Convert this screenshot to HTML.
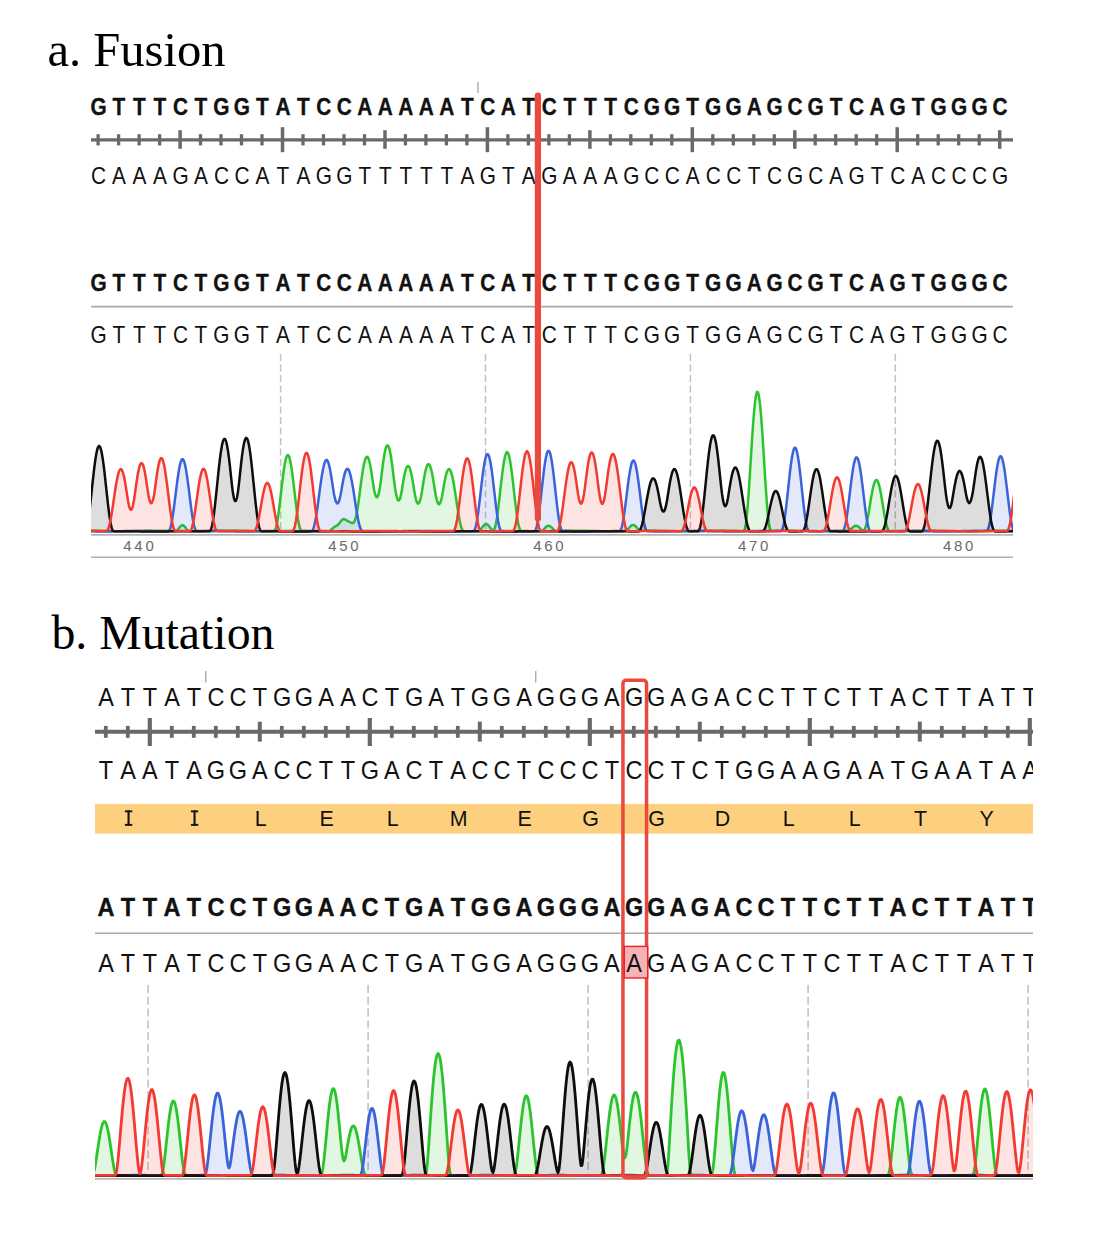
<!DOCTYPE html>
<html><head><meta charset="utf-8"><title>Figure</title>
<style>
html,body{margin:0;padding:0;background:#fff}
svg{display:block}
text{font-family:"Liberation Sans",sans-serif;fill:#111}
.t{font-family:"Liberation Serif",serif;fill:#000}
</style></head><body>
<svg width="1097" height="1245" viewBox="0 0 1097 1245">
<rect width="1097" height="1245" fill="#fff"/>
<defs>
<clipPath id="ca"><rect x="91" y="360" width="922" height="173.5"/></clipPath>
<clipPath id="cb"><rect x="95" y="980" width="938" height="198"/></clipPath>
<clipPath id="cr"><rect x="90" y="660" width="943" height="330"/></clipPath>
</defs>
<text class="t" x="47.4" y="65.5" font-size="48.6">a. Fusion</text>
<line x1="478" y1="82" x2="478" y2="93" stroke="#8a8a8a" stroke-width="1"/>
<text transform="scale(0.89,1)" x="110.7 133.7 156.7 179.7 202.8 225.8 248.8 271.8 294.9 317.9 340.9 363.9 386.9 410 433 456 479 502.1 525.1 548.1 571.1 594.1 617.2 640.2 663.2 686.2 709.3 732.3 755.3 778.3 801.3 824.4 847.4 870.4 893.4 916.5 939.5 962.5 985.5 1008.6 1031.6 1054.6 1077.6 1100.6 1123.7" y="115.5" font-size="23.4" font-weight="bold" text-anchor="middle" stroke="#111" stroke-width="0.35">GTTTCTGGTATCCAAAAATCATCTTTCGGTGGAGCGTCAGTGGGC</text>
<g stroke="#696969">
<line x1="91" y1="139.8" x2="1013" y2="139.8" stroke-width="3.2"/>
<line x1="98.1" y1="134.2" x2="98.1" y2="145.4" stroke-width="3.3"/>
<line x1="118.6" y1="134.2" x2="118.6" y2="145.4" stroke-width="3.3"/>
<line x1="139.1" y1="134.2" x2="139.1" y2="145.4" stroke-width="3.3"/>
<line x1="159.6" y1="134.2" x2="159.6" y2="145.4" stroke-width="3.3"/>
<line x1="180.1" y1="130.2" x2="180.1" y2="148.8" stroke-width="3.5"/>
<line x1="200.5" y1="134.2" x2="200.5" y2="145.4" stroke-width="3.3"/>
<line x1="221" y1="134.2" x2="221" y2="145.4" stroke-width="3.3"/>
<line x1="241.5" y1="134.2" x2="241.5" y2="145.4" stroke-width="3.3"/>
<line x1="262" y1="134.2" x2="262" y2="145.4" stroke-width="3.3"/>
<line x1="282.5" y1="127.2" x2="282.5" y2="152.2" stroke-width="3.5"/>
<line x1="303" y1="134.2" x2="303" y2="145.4" stroke-width="3.3"/>
<line x1="323.5" y1="134.2" x2="323.5" y2="145.4" stroke-width="3.3"/>
<line x1="344" y1="134.2" x2="344" y2="145.4" stroke-width="3.3"/>
<line x1="364.5" y1="134.2" x2="364.5" y2="145.4" stroke-width="3.3"/>
<line x1="385" y1="130.2" x2="385" y2="148.8" stroke-width="3.5"/>
<line x1="405.4" y1="134.2" x2="405.4" y2="145.4" stroke-width="3.3"/>
<line x1="425.9" y1="134.2" x2="425.9" y2="145.4" stroke-width="3.3"/>
<line x1="446.4" y1="134.2" x2="446.4" y2="145.4" stroke-width="3.3"/>
<line x1="466.9" y1="134.2" x2="466.9" y2="145.4" stroke-width="3.3"/>
<line x1="487.4" y1="127.2" x2="487.4" y2="152.2" stroke-width="3.5"/>
<line x1="507.9" y1="134.2" x2="507.9" y2="145.4" stroke-width="3.3"/>
<line x1="528.4" y1="134.2" x2="528.4" y2="145.4" stroke-width="3.3"/>
<line x1="548.9" y1="134.2" x2="548.9" y2="145.4" stroke-width="3.3"/>
<line x1="569.4" y1="134.2" x2="569.4" y2="145.4" stroke-width="3.3"/>
<line x1="589.9" y1="130.2" x2="589.9" y2="148.8" stroke-width="3.5"/>
<line x1="610.4" y1="134.2" x2="610.4" y2="145.4" stroke-width="3.3"/>
<line x1="630.8" y1="134.2" x2="630.8" y2="145.4" stroke-width="3.3"/>
<line x1="651.3" y1="134.2" x2="651.3" y2="145.4" stroke-width="3.3"/>
<line x1="671.8" y1="134.2" x2="671.8" y2="145.4" stroke-width="3.3"/>
<line x1="692.3" y1="127.2" x2="692.3" y2="152.2" stroke-width="3.5"/>
<line x1="712.8" y1="134.2" x2="712.8" y2="145.4" stroke-width="3.3"/>
<line x1="733.3" y1="134.2" x2="733.3" y2="145.4" stroke-width="3.3"/>
<line x1="753.8" y1="134.2" x2="753.8" y2="145.4" stroke-width="3.3"/>
<line x1="774.3" y1="134.2" x2="774.3" y2="145.4" stroke-width="3.3"/>
<line x1="794.8" y1="130.2" x2="794.8" y2="148.8" stroke-width="3.5"/>
<line x1="815.2" y1="134.2" x2="815.2" y2="145.4" stroke-width="3.3"/>
<line x1="835.7" y1="134.2" x2="835.7" y2="145.4" stroke-width="3.3"/>
<line x1="856.2" y1="134.2" x2="856.2" y2="145.4" stroke-width="3.3"/>
<line x1="876.7" y1="134.2" x2="876.7" y2="145.4" stroke-width="3.3"/>
<line x1="897.2" y1="127.2" x2="897.2" y2="152.2" stroke-width="3.5"/>
<line x1="917.7" y1="134.2" x2="917.7" y2="145.4" stroke-width="3.3"/>
<line x1="938.2" y1="134.2" x2="938.2" y2="145.4" stroke-width="3.3"/>
<line x1="958.7" y1="134.2" x2="958.7" y2="145.4" stroke-width="3.3"/>
<line x1="979.2" y1="134.2" x2="979.2" y2="145.4" stroke-width="3.3"/>
<line x1="999.7" y1="130.2" x2="999.7" y2="148.8" stroke-width="3.5"/>
</g>
<text transform="scale(0.89,1)" x="110.7 133.7 156.7 179.7 202.8 225.8 248.8 271.8 294.9 317.9 340.9 363.9 386.9 410 433 456 479 502.1 525.1 548.1 571.1 594.1 617.2 640.2 663.2 686.2 709.3 732.3 755.3 778.3 801.3 824.4 847.4 870.4 893.4 916.5 939.5 962.5 985.5 1008.6 1031.6 1054.6 1077.6 1100.6 1123.7" y="184.1" font-size="23.4" font-weight="normal" text-anchor="middle">CAAAGACCATAGGTTTTTAGTAGAAAGCCACCTCGCAGTCACCCG</text>
<text transform="scale(0.89,1)" x="110.7 133.7 156.7 179.7 202.8 225.8 248.8 271.8 294.9 317.9 340.9 363.9 386.9 410 433 456 479 502.1 525.1 548.1 571.1 594.1 617.2 640.2 663.2 686.2 709.3 732.3 755.3 778.3 801.3 824.4 847.4 870.4 893.4 916.5 939.5 962.5 985.5 1008.6 1031.6 1054.6 1077.6 1100.6 1123.7" y="290.8" font-size="23.4" font-weight="bold" text-anchor="middle" stroke="#111" stroke-width="0.35">GTTTCTGGTATCCAAAAATCATCTTTCGGTGGAGCGTCAGTGGGC</text>
<line x1="91" y1="306.6" x2="1013" y2="306.6" stroke="#a9a9a9" stroke-width="1.6"/>
<text transform="scale(0.89,1)" x="110.7 133.7 156.7 179.7 202.8 225.8 248.8 271.8 294.9 317.9 340.9 363.9 386.9 410 433 456 479 502.1 525.1 548.1 571.1 594.1 617.2 640.2 663.2 686.2 709.3 732.3 755.3 778.3 801.3 824.4 847.4 870.4 893.4 916.5 939.5 962.5 985.5 1008.6 1031.6 1054.6 1077.6 1100.6 1123.7" y="342.7" font-size="23.4" font-weight="normal" text-anchor="middle">GTTTCTGGTATCCAAAAATCATCTTTCGGTGGAGCGTCAGTGGGC</text>
<line x1="280.6" y1="354" x2="280.6" y2="531" stroke="#c2c2c2" stroke-width="1.5" stroke-dasharray="7 3.5"/>
<line x1="485.5" y1="354" x2="485.5" y2="531" stroke="#c2c2c2" stroke-width="1.5" stroke-dasharray="7 3.5"/>
<line x1="690.4" y1="354" x2="690.4" y2="531" stroke="#c2c2c2" stroke-width="1.5" stroke-dasharray="7 3.5"/>
<line x1="895.3" y1="354" x2="895.3" y2="531" stroke="#c2c2c2" stroke-width="1.5" stroke-dasharray="7 3.5"/>
<g clip-path="url(#ca)">
<path d="M61,531.2 62,531.2 63,531.2 64,531.2 65,531.2 66,531.1 67,531.1 68,531.1 69,531 70,531 71,531 72,531 73,530.9 74,530.9 75,530.9 76,530.9 77,530.8 78,530.8 79,530.8 80,530.8 81,530.7 82,530.7 83,530.7 84,530.7 85,530.7 86,530.7 87,530.7 88,530.7 89,530.7 90,530.7 91,530.7 92,530.7 93,530.7 94,530.8 95,530.8 96,530.8 97,530.8 98,530.8 99,530.9 100,530.9 101,530.9 102,530.9 103,531 104,531 105,531 106,531.1 107,531.1 108,531.1 109,531.1 110,531.2 111,531.2 112,531.2 113,531.2 114,531.3 115,531.3 116,531.3 117,531.3 118,531.3 119,531.3 120,531.3 121,531.3 122,531.3 123,531.3 124,531.3 125,531.3 126,531.3 127,531.3 128,531.3 129,531.3 130,531.3 131,531.2 132,531.2 133,531.2 134,531.2 135,531.1 136,531.1 137,531.1 138,531.1 139,531 140,531 141,531 142,531 143,530.9 144,530.9 145,530.9 146,530.8 147,530.8 148,530.8 149,530.8 150,530.8 151,530.7 152,530.7 153,530.7 154,530.7 155,530.7 156,530.7 157,530.7 158,530.7 159,530.7 160,530.7 161,530.7 162,530.7 163,530.7 164,530.8 165,530.8 166,530.8 167,530.8 168,530.8 169,530.9 170,530.9 171,530.9 172,530.9 173,531 174,531 175,531 176,530.9 177,530.3 178,529.3 179,528.1 180,526.8 181,525.8 182,525.3 183,525.3 184,525.9 185,526.9 186,528.2 187,529.5 188,530.6 189,531.2 190,531.3 191,531.3 192,531.3 193,531.3 194,531.3 195,531.3 196,531.3 197,531.3 198,531.3 199,531.3 200,531.3 201,531.2 202,531.2 203,531.2 204,531.2 205,531.1 206,531.1 207,531.1 208,531.1 209,531 210,531 211,531 212,530.9 213,530.9 214,530.9 215,530.9 216,530.8 217,530.8 218,530.8 219,530.8 220,530.8 221,530.7 222,530.7 223,530.7 224,530.7 225,530.7 226,530.7 227,530.7 228,530.7 229,530.7 230,530.7 231,530.7 232,530.7 233,530.7 234,530.8 235,530.8 236,530.8 237,530.8 238,530.8 239,530.9 240,530.9 241,530.9 242,531 243,531 244,531 245,531 246,531.1 247,531.1 248,531.1 249,531.2 250,531.2 251,531.2 252,531.2 253,531.2 254,531.3 255,531.3 256,531.3 257,531.3 258,531.3 259,531.3 260,531.3 261,531.3 262,531.3 263,531.3 264,531.3 265,531.3 266,531.3 267,531.3 268,531.3 269,531.3 270,531.3 271,531.2 272,531.2 273,531.2 274,531.1 275,530.2 276,527.6 277,523.1 278,517.1 279,509.8 280,501.6 281,492.9 282,484.2 283,476 284,468.7 285,462.7 286,458.2 287,455.6 288,455 289,456.4 290,459.7 291,464.8 292,471.3 293,479 294,487.4 295,496.1 296,504.6 297,512.5 298,519.3 299,524.7 300,528.4 301,530.3 302,530.7 303,530.7 304,530.8 305,530.8 306,530.8 307,530.8 308,530.9 309,530.9 310,530.9 311,530.9 312,531 313,531 314,531 315,531 316,531.1 317,531.1 318,531.1 319,531.2 320,531.2 321,531.2 322,531.2 323,531.2 324,531.3 325,531.3 326,531.3 327,531.3 328,531.3 329,531.1 330,530.6 331,529.9 332,529 333,528.1 334,527.2 335,526.5 336,526 337,525.6 338,524.8 339,523.7 340,522.4 341,521 342,519.9 343,519.2 344,519.1 345,519.4 346,520 347,520.6 348,521.1 349,521.7 350,522.2 351,522.7 352,523.1 353,523.1 354,522.1 355,520 356,516.6 357,511.9 358,505.9 359,498.7 360,490.8 361,483.1 362,475.8 363,469.4 364,464 365,460 366,457.5 367,456.7 368,457.5 369,460 370,464 371,469.4 372,475.8 373,482.9 374,489.2 375,493.9 376,496.7 377,497.3 378,495.8 379,492.2 380,486.7 381,479.6 382,471.4 383,463.5 384,456.6 385,451.1 386,447.3 387,445.4 388,445.5 389,447.4 390,451.3 391,456.8 392,463.7 393,471.8 394,480.1 395,487.6 396,493.6 397,497.9 398,500.2 399,500.4 400,498.6 401,494.8 402,489.3 403,483 404,477.3 405,472.5 406,468.9 407,466.6 408,465.9 409,466.6 410,468.8 411,472.4 412,477.1 413,482.9 414,489.2 415,495 416,499.6 417,502.5 418,503.7 419,503.1 420,500.8 421,496.7 422,491.2 423,484.8 424,478.6 425,473.1 426,468.8 427,465.8 428,464.3 429,464.2 430,465.7 431,468.7 432,473 433,478.4 434,484.6 435,491 436,496.6 437,500.8 438,503.3 439,504.2 440,503.3 441,500.7 442,496.5 443,491 444,485 445,479.6 446,475.1 447,471.7 448,469.7 449,469 450,469.7 451,471.8 452,475.3 453,479.8 454,485.3 455,491.5 456,498 457,504.7 458,511.1 459,517 460,522.2 461,526.3 462,529.2 463,530.8 464,531.2 465,531.3 466,531.3 467,531.3 468,531.3 469,531.3 470,531.3 471,531.3 472,531.3 473,531.3 474,531.3 475,531.3 476,531.3 477,531.3 478,531.2 479,530.9 480,530.1 481,529 482,527.7 483,526.3 484,525.2 485,524.4 486,524.1 487,524.3 488,525 489,526.1 490,527.4 491,528.7 492,529.8 493,530.5 494,530 495,527.6 496,523.3 497,517.4 498,510.1 499,501.8 500,493 501,484.2 502,475.6 503,467.9 504,461.4 505,456.5 506,453.3 507,452.1 508,452.9 509,455.7 510,460.3 511,466.5 512,474 513,482.4 514,491.3 515,500.1 516,508.5 517,516.1 518,522.3 519,526.9 520,529.8 521,530.8 522,531 523,531 524,531 525,531.1 526,531.1 527,531.1 528,531.1 529,531.2 530,531.2 531,531.2 532,531.2 533,531.3 534,531.3 535,531.3 536,531.3 537,531.3 538,531.3 539,531.3 540,531.3 541,531.2 542,530.8 543,530.1 544,529.1 545,528 546,527 547,526.2 548,525.8 549,525.8 550,526.2 551,526.9 552,527.9 553,528.9 554,529.9 555,530.6 556,531 557,531.1 558,531 559,531 560,531 561,530.9 562,530.9 563,530.9 564,530.9 565,530.8 566,530.8 567,530.8 568,530.8 569,530.8 570,530.7 571,530.7 572,530.7 573,530.7 574,530.7 575,530.7 576,530.7 577,530.7 578,530.7 579,530.7 580,530.7 581,530.7 582,530.7 583,530.8 584,530.8 585,530.8 586,530.8 587,530.8 588,530.9 589,530.9 590,530.9 591,531 592,531 593,531 594,531 595,531.1 596,531.1 597,531.1 598,531.1 599,531.2 600,531.2 601,531.2 602,531.2 603,531.3 604,531.3 605,531.3 606,531.3 607,531.3 608,531.3 609,531.3 610,531.3 611,531.3 612,531.3 613,531.3 614,531.3 615,531.3 616,531.3 617,531.3 618,531.3 619,531.3 620,531.2 621,531.2 622,531.2 623,531.2 624,531.1 625,531.1 626,530.8 627,530.1 628,529.1 629,528 630,526.8 631,525.8 632,525.1 633,524.9 634,525.1 635,525.7 636,526.6 637,527.8 638,528.9 639,529.8 640,530.4 641,530.7 642,530.7 643,530.7 644,530.7 645,530.7 646,530.7 647,530.7 648,530.7 649,530.7 650,530.7 651,530.7 652,530.7 653,530.8 654,530.8 655,530.8 656,530.8 657,530.8 658,530.9 659,530.9 660,530.9 661,531 662,531 663,531 664,531 665,531.1 666,531.1 667,531.1 668,531.2 669,531.2 670,531.2 671,531.2 672,531.2 673,531.3 674,531.3 675,531.3 676,531.3 677,531.3 678,531.3 679,531.3 680,531.3 681,531.3 682,531.3 683,531.3 684,531.3 685,531.3 686,531.3 687,531.3 688,531.3 689,531.3 690,531.2 691,531.2 692,531.2 693,531.2 694,531.1 695,531.1 696,531.1 697,531.1 698,531 699,531 700,531 701,530.9 702,530.9 703,530.9 704,530.9 705,530.8 706,530.8 707,530.8 708,530.8 709,530.8 710,530.7 711,530.7 712,530.7 713,530.7 714,530.7 715,530.7 716,530.7 717,530.7 718,530.7 719,530.7 720,530.7 721,530.7 722,530.8 723,530.8 724,530.8 725,530.8 726,530.8 727,530.9 728,530.9 729,530.9 730,530.9 731,531 732,531 733,531 734,531 735,531.1 736,531.1 737,531.1 738,531.2 739,531.2 740,531.2 741,531.2 742,531.3 743,531.3 744,531 745,528.8 746,523.2 747,514.2 748,502.3 749,488.2 750,472.5 751,456.3 752,440.3 753,425.5 754,412.6 755,402.4 756,395.4 757,391.9 758,392.3 759,396.4 760,404.1 761,414.9 762,428.2 763,443.3 764,459.4 765,475.5 766,490.9 767,504.6 768,515.9 769,524.3 770,529.1 771,530.7 772,530.9 773,530.9 774,530.9 775,530.8 776,530.8 777,530.8 778,530.8 779,530.8 780,530.7 781,530.7 782,530.7 783,530.7 784,530.7 785,530.7 786,530.7 787,530.7 788,530.7 789,530.7 790,530.7 791,530.7 792,530.8 793,530.8 794,530.8 795,530.8 796,530.8 797,530.9 798,530.9 799,530.9 800,530.9 801,531 802,531 803,531 804,531.1 805,531.1 806,531.1 807,531.1 808,531.2 809,531.2 810,531.2 811,531.2 812,531.3 813,531.3 814,531.3 815,531.3 816,531.3 817,531.3 818,531.3 819,531.3 820,531.3 821,531.3 822,531.3 823,531.3 824,531.3 825,531.3 826,531.3 827,531.3 828,531.3 829,531.2 830,531.2 831,531.2 832,531.2 833,531.2 834,531.1 835,531.1 836,531.1 837,531 838,531 839,531 840,531 841,530.9 842,530.9 843,530.9 844,530.8 845,530.8 846,530.8 847,530.8 848,530.7 849,530.5 850,529.9 851,529.1 852,528.2 853,527.2 854,526.4 855,525.9 856,525.7 857,525.9 858,526.4 859,527.2 860,528.2 861,529.2 862,530 863,530.5 864,530.3 865,528.7 866,525.7 867,521.6 868,516.4 869,510.7 870,504.6 871,498.5 872,492.9 873,487.9 874,484 875,481.3 876,480 877,480.2 878,481.8 879,484.8 880,489 881,494.2 882,500 883,506.2 884,512.3 885,518 886,522.9 887,526.9 888,529.6 889,531 890,531.3 891,531.3 892,531.3 893,531.3 894,531.3 895,531.3 896,531.3 897,531.3 898,531.3 899,531.2 900,531.2 901,531.2 902,531.2 903,531.1 904,531.1 905,531.1 906,531.1 907,531 908,531 909,531 910,531 911,530.9 912,530.9 913,530.9 914,530.8 915,530.8 916,530.8 917,530.8 918,530.8 919,530.7 920,530.7 921,530.7 922,530.7 923,530.7 924,530.7 925,530.7 926,530.7 927,530.7 928,530.7 929,530.7 930,530.7 931,530.7 932,530.8 933,530.8 934,530.8 935,530.8 936,530.8 937,530.9 938,530.9 939,530.9 940,530.9 941,531 942,531 943,531 944,531.1 945,531.1 946,531.1 947,531.1 948,531.2 949,531.2 950,531.2 951,531.2 952,531.3 953,531.3 954,531.3 955,531.3 956,531.3 957,531.3 958,531.3 959,531.3 960,531.3 961,531.3 962,531.3 963,531.3 964,531.3 965,531.3 966,531.3 967,531.3 968,531.3 969,531.2 970,531.2 971,531.2 972,531.2 973,531.1 974,531.1 975,531.1 976,531.1 977,531 978,531 979,531 980,530.9 981,530.9 982,530.9 983,530.9 984,530.8 985,530.8 986,530.8 987,530.8 988,530.8 989,530.7 990,530.7 991,530.7 992,530.7 993,530.7 994,530.7 995,530.7 996,530.7 997,530.7 998,530.7 999,530.7 1000,530.7 1001,530.7 1002,530.8 1003,530.8 1004,530.8 1005,530.8 1006,530.8 1007,530.9 1008,530.9 1009,530.9 1010,531 1011,531 1012,531 1013,531 1014,531.1 1015,531.1 1016,531.1 1017,531.2 1018,531.2 1019,531.2 1020,531.2 1021,531.2 1022,531.3 1023,531.3 1024,531.3 1025,531.3 1026,531.3 1027,531.3 1028,531.3 1029,531.3 1030,531.3 1031,531.3 1032,531.3 1033,531.3 1034,531.3 1035,531.3 1036,531.3 1037,531.3 1038,531.3 1039,531.2 1040,531.2 1041,531.2 1042,531.2 1043,531.1 L1043,531.5 L61,531.5 Z" fill="#2cc42c" fill-opacity="0.14" stroke="none"/>
<path d="M61,531.2 62,531.2 63,531.2 64,531.2 65,531.2 66,531.1 67,531.1 68,531.1 69,531 70,531 71,531 72,531 73,530.9 74,530.9 75,530.9 76,530.9 77,530.8 78,530.8 79,530.8 80,530.8 81,530.7 82,530.7 83,530.7 84,530.7 85,530.7 86,530.7 87,530.7 88,530.7 89,530.7 90,530.7 91,530.7 92,530.7 93,530.7 94,530.8 95,530.8 96,530.8 97,530.8 98,530.8 99,530.9 100,530.9 101,530.9 102,530.9 103,531 104,531 105,531 106,531.1 107,531.1 108,531.1 109,531.1 110,531.2 111,531.2 112,531.2 113,531.2 114,531.3 115,531.3 116,531.3 117,531.3 118,531.3 119,531.3 120,531.3 121,531.3 122,531.3 123,531.3 124,531.3 125,531.3 126,531.3 127,531.3 128,531.3 129,531.3 130,531.3 131,531.2 132,531.2 133,531.2 134,531.2 135,531.1 136,531.1 137,531.1 138,531.1 139,531 140,531 141,531 142,531 143,530.9 144,530.9 145,530.9 146,530.8 147,530.8 148,530.8 149,530.8 150,530.8 151,530.7 152,530.7 153,530.7 154,530.7 155,530.7 156,530.7 157,530.7 158,530.7 159,530.7 160,530.7 161,530.7 162,530.7 163,530.7 164,530.8 165,530.8 166,530.8 167,530.8 168,530.8 169,530.9 170,530.9 171,530.9 172,530.9 173,531 174,531 175,531 176,530.9 177,530.3 178,529.3 179,528.1 180,526.8 181,525.8 182,525.3 183,525.3 184,525.9 185,526.9 186,528.2 187,529.5 188,530.6 189,531.2 190,531.3 191,531.3 192,531.3 193,531.3 194,531.3 195,531.3 196,531.3 197,531.3 198,531.3 199,531.3 200,531.3 201,531.2 202,531.2 203,531.2 204,531.2 205,531.1 206,531.1 207,531.1 208,531.1 209,531 210,531 211,531 212,530.9 213,530.9 214,530.9 215,530.9 216,530.8 217,530.8 218,530.8 219,530.8 220,530.8 221,530.7 222,530.7 223,530.7 224,530.7 225,530.7 226,530.7 227,530.7 228,530.7 229,530.7 230,530.7 231,530.7 232,530.7 233,530.7 234,530.8 235,530.8 236,530.8 237,530.8 238,530.8 239,530.9 240,530.9 241,530.9 242,531 243,531 244,531 245,531 246,531.1 247,531.1 248,531.1 249,531.2 250,531.2 251,531.2 252,531.2 253,531.2 254,531.3 255,531.3 256,531.3 257,531.3 258,531.3 259,531.3 260,531.3 261,531.3 262,531.3 263,531.3 264,531.3 265,531.3 266,531.3 267,531.3 268,531.3 269,531.3 270,531.3 271,531.2 272,531.2 273,531.2 274,531.1 275,530.2 276,527.6 277,523.1 278,517.1 279,509.8 280,501.6 281,492.9 282,484.2 283,476 284,468.7 285,462.7 286,458.2 287,455.6 288,455 289,456.4 290,459.7 291,464.8 292,471.3 293,479 294,487.4 295,496.1 296,504.6 297,512.5 298,519.3 299,524.7 300,528.4 301,530.3 302,530.7 303,530.7 304,530.8 305,530.8 306,530.8 307,530.8 308,530.9 309,530.9 310,530.9 311,530.9 312,531 313,531 314,531 315,531 316,531.1 317,531.1 318,531.1 319,531.2 320,531.2 321,531.2 322,531.2 323,531.2 324,531.3 325,531.3 326,531.3 327,531.3 328,531.3 329,531.1 330,530.6 331,529.9 332,529 333,528.1 334,527.2 335,526.5 336,526 337,525.6 338,524.8 339,523.7 340,522.4 341,521 342,519.9 343,519.2 344,519.1 345,519.4 346,520 347,520.6 348,521.1 349,521.7 350,522.2 351,522.7 352,523.1 353,523.1 354,522.1 355,520 356,516.6 357,511.9 358,505.9 359,498.7 360,490.8 361,483.1 362,475.8 363,469.4 364,464 365,460 366,457.5 367,456.7 368,457.5 369,460 370,464 371,469.4 372,475.8 373,482.9 374,489.2 375,493.9 376,496.7 377,497.3 378,495.8 379,492.2 380,486.7 381,479.6 382,471.4 383,463.5 384,456.6 385,451.1 386,447.3 387,445.4 388,445.5 389,447.4 390,451.3 391,456.8 392,463.7 393,471.8 394,480.1 395,487.6 396,493.6 397,497.9 398,500.2 399,500.4 400,498.6 401,494.8 402,489.3 403,483 404,477.3 405,472.5 406,468.9 407,466.6 408,465.9 409,466.6 410,468.8 411,472.4 412,477.1 413,482.9 414,489.2 415,495 416,499.6 417,502.5 418,503.7 419,503.1 420,500.8 421,496.7 422,491.2 423,484.8 424,478.6 425,473.1 426,468.8 427,465.8 428,464.3 429,464.2 430,465.7 431,468.7 432,473 433,478.4 434,484.6 435,491 436,496.6 437,500.8 438,503.3 439,504.2 440,503.3 441,500.7 442,496.5 443,491 444,485 445,479.6 446,475.1 447,471.7 448,469.7 449,469 450,469.7 451,471.8 452,475.3 453,479.8 454,485.3 455,491.5 456,498 457,504.7 458,511.1 459,517 460,522.2 461,526.3 462,529.2 463,530.8 464,531.2 465,531.3 466,531.3 467,531.3 468,531.3 469,531.3 470,531.3 471,531.3 472,531.3 473,531.3 474,531.3 475,531.3 476,531.3 477,531.3 478,531.2 479,530.9 480,530.1 481,529 482,527.7 483,526.3 484,525.2 485,524.4 486,524.1 487,524.3 488,525 489,526.1 490,527.4 491,528.7 492,529.8 493,530.5 494,530 495,527.6 496,523.3 497,517.4 498,510.1 499,501.8 500,493 501,484.2 502,475.6 503,467.9 504,461.4 505,456.5 506,453.3 507,452.1 508,452.9 509,455.7 510,460.3 511,466.5 512,474 513,482.4 514,491.3 515,500.1 516,508.5 517,516.1 518,522.3 519,526.9 520,529.8 521,530.8 522,531 523,531 524,531 525,531.1 526,531.1 527,531.1 528,531.1 529,531.2 530,531.2 531,531.2 532,531.2 533,531.3 534,531.3 535,531.3 536,531.3 537,531.3 538,531.3 539,531.3 540,531.3 541,531.2 542,530.8 543,530.1 544,529.1 545,528 546,527 547,526.2 548,525.8 549,525.8 550,526.2 551,526.9 552,527.9 553,528.9 554,529.9 555,530.6 556,531 557,531.1 558,531 559,531 560,531 561,530.9 562,530.9 563,530.9 564,530.9 565,530.8 566,530.8 567,530.8 568,530.8 569,530.8 570,530.7 571,530.7 572,530.7 573,530.7 574,530.7 575,530.7 576,530.7 577,530.7 578,530.7 579,530.7 580,530.7 581,530.7 582,530.7 583,530.8 584,530.8 585,530.8 586,530.8 587,530.8 588,530.9 589,530.9 590,530.9 591,531 592,531 593,531 594,531 595,531.1 596,531.1 597,531.1 598,531.1 599,531.2 600,531.2 601,531.2 602,531.2 603,531.3 604,531.3 605,531.3 606,531.3 607,531.3 608,531.3 609,531.3 610,531.3 611,531.3 612,531.3 613,531.3 614,531.3 615,531.3 616,531.3 617,531.3 618,531.3 619,531.3 620,531.2 621,531.2 622,531.2 623,531.2 624,531.1 625,531.1 626,530.8 627,530.1 628,529.1 629,528 630,526.8 631,525.8 632,525.1 633,524.9 634,525.1 635,525.7 636,526.6 637,527.8 638,528.9 639,529.8 640,530.4 641,530.7 642,530.7 643,530.7 644,530.7 645,530.7 646,530.7 647,530.7 648,530.7 649,530.7 650,530.7 651,530.7 652,530.7 653,530.8 654,530.8 655,530.8 656,530.8 657,530.8 658,530.9 659,530.9 660,530.9 661,531 662,531 663,531 664,531 665,531.1 666,531.1 667,531.1 668,531.2 669,531.2 670,531.2 671,531.2 672,531.2 673,531.3 674,531.3 675,531.3 676,531.3 677,531.3 678,531.3 679,531.3 680,531.3 681,531.3 682,531.3 683,531.3 684,531.3 685,531.3 686,531.3 687,531.3 688,531.3 689,531.3 690,531.2 691,531.2 692,531.2 693,531.2 694,531.1 695,531.1 696,531.1 697,531.1 698,531 699,531 700,531 701,530.9 702,530.9 703,530.9 704,530.9 705,530.8 706,530.8 707,530.8 708,530.8 709,530.8 710,530.7 711,530.7 712,530.7 713,530.7 714,530.7 715,530.7 716,530.7 717,530.7 718,530.7 719,530.7 720,530.7 721,530.7 722,530.8 723,530.8 724,530.8 725,530.8 726,530.8 727,530.9 728,530.9 729,530.9 730,530.9 731,531 732,531 733,531 734,531 735,531.1 736,531.1 737,531.1 738,531.2 739,531.2 740,531.2 741,531.2 742,531.3 743,531.3 744,531 745,528.8 746,523.2 747,514.2 748,502.3 749,488.2 750,472.5 751,456.3 752,440.3 753,425.5 754,412.6 755,402.4 756,395.4 757,391.9 758,392.3 759,396.4 760,404.1 761,414.9 762,428.2 763,443.3 764,459.4 765,475.5 766,490.9 767,504.6 768,515.9 769,524.3 770,529.1 771,530.7 772,530.9 773,530.9 774,530.9 775,530.8 776,530.8 777,530.8 778,530.8 779,530.8 780,530.7 781,530.7 782,530.7 783,530.7 784,530.7 785,530.7 786,530.7 787,530.7 788,530.7 789,530.7 790,530.7 791,530.7 792,530.8 793,530.8 794,530.8 795,530.8 796,530.8 797,530.9 798,530.9 799,530.9 800,530.9 801,531 802,531 803,531 804,531.1 805,531.1 806,531.1 807,531.1 808,531.2 809,531.2 810,531.2 811,531.2 812,531.3 813,531.3 814,531.3 815,531.3 816,531.3 817,531.3 818,531.3 819,531.3 820,531.3 821,531.3 822,531.3 823,531.3 824,531.3 825,531.3 826,531.3 827,531.3 828,531.3 829,531.2 830,531.2 831,531.2 832,531.2 833,531.2 834,531.1 835,531.1 836,531.1 837,531 838,531 839,531 840,531 841,530.9 842,530.9 843,530.9 844,530.8 845,530.8 846,530.8 847,530.8 848,530.7 849,530.5 850,529.9 851,529.1 852,528.2 853,527.2 854,526.4 855,525.9 856,525.7 857,525.9 858,526.4 859,527.2 860,528.2 861,529.2 862,530 863,530.5 864,530.3 865,528.7 866,525.7 867,521.6 868,516.4 869,510.7 870,504.6 871,498.5 872,492.9 873,487.9 874,484 875,481.3 876,480 877,480.2 878,481.8 879,484.8 880,489 881,494.2 882,500 883,506.2 884,512.3 885,518 886,522.9 887,526.9 888,529.6 889,531 890,531.3 891,531.3 892,531.3 893,531.3 894,531.3 895,531.3 896,531.3 897,531.3 898,531.3 899,531.2 900,531.2 901,531.2 902,531.2 903,531.1 904,531.1 905,531.1 906,531.1 907,531 908,531 909,531 910,531 911,530.9 912,530.9 913,530.9 914,530.8 915,530.8 916,530.8 917,530.8 918,530.8 919,530.7 920,530.7 921,530.7 922,530.7 923,530.7 924,530.7 925,530.7 926,530.7 927,530.7 928,530.7 929,530.7 930,530.7 931,530.7 932,530.8 933,530.8 934,530.8 935,530.8 936,530.8 937,530.9 938,530.9 939,530.9 940,530.9 941,531 942,531 943,531 944,531.1 945,531.1 946,531.1 947,531.1 948,531.2 949,531.2 950,531.2 951,531.2 952,531.3 953,531.3 954,531.3 955,531.3 956,531.3 957,531.3 958,531.3 959,531.3 960,531.3 961,531.3 962,531.3 963,531.3 964,531.3 965,531.3 966,531.3 967,531.3 968,531.3 969,531.2 970,531.2 971,531.2 972,531.2 973,531.1 974,531.1 975,531.1 976,531.1 977,531 978,531 979,531 980,530.9 981,530.9 982,530.9 983,530.9 984,530.8 985,530.8 986,530.8 987,530.8 988,530.8 989,530.7 990,530.7 991,530.7 992,530.7 993,530.7 994,530.7 995,530.7 996,530.7 997,530.7 998,530.7 999,530.7 1000,530.7 1001,530.7 1002,530.8 1003,530.8 1004,530.8 1005,530.8 1006,530.8 1007,530.9 1008,530.9 1009,530.9 1010,531 1011,531 1012,531 1013,531 1014,531.1 1015,531.1 1016,531.1 1017,531.2 1018,531.2 1019,531.2 1020,531.2 1021,531.2 1022,531.3 1023,531.3 1024,531.3 1025,531.3 1026,531.3 1027,531.3 1028,531.3 1029,531.3 1030,531.3 1031,531.3 1032,531.3 1033,531.3 1034,531.3 1035,531.3 1036,531.3 1037,531.3 1038,531.3 1039,531.2 1040,531.2 1041,531.2 1042,531.2 1043,531.1" fill="none" stroke="#2cc42c" stroke-width="2.5" stroke-linejoin="round"/>
<path d="M61,531 62,531 63,531 64,531 65,531 66,531 67,531 68,531 69,531 70,531 71,531 72,531 73,531 74,531 75,531 76,531 77,531.1 78,531.1 79,531.1 80,531.1 81,531.1 82,531.1 83,531.1 84,531.2 85,531.2 86,531.2 87,531.2 88,531.2 89,531.3 90,531.3 91,531.3 92,531.3 93,531.3 94,531.3 95,531.3 96,531.4 97,531.4 98,531.4 99,531.4 100,531.4 101,531.4 102,531.4 103,531.4 104,531.4 105,531.4 106,531.4 107,531.4 108,531.4 109,531.4 110,531.4 111,531.4 112,531.3 113,531.3 114,531.3 115,531.3 116,531.3 117,531.3 118,531.2 119,531.2 120,531.2 121,531.2 122,531.2 123,531.2 124,531.1 125,531.1 126,531.1 127,531.1 128,531.1 129,531.1 130,531.1 131,531 132,531 133,531 134,531 135,531 136,531 137,531 138,531 139,531 140,531 141,531 142,531 143,531 144,531 145,531 146,531 147,531.1 148,531.1 149,531.1 150,531.1 151,531.1 152,531.1 153,531.2 154,531.2 155,531.2 156,531.2 157,531.2 158,531.2 159,531.3 160,531.3 161,531.3 162,531.3 163,531.3 164,531.3 165,531.3 166,531.4 167,531.4 168,531.3 169,530.9 170,529.1 171,525.6 172,520.6 173,514.3 174,507 175,499.2 176,491.1 177,483.2 178,476 179,469.7 180,464.6 181,461.1 182,459.3 183,459.3 184,461.1 185,464.6 186,469.6 187,475.9 188,483.1 189,490.9 190,499 191,506.8 192,514 193,520.3 194,525.3 195,528.8 196,530.6 197,531.1 198,531.1 199,531.1 200,531 201,531 202,531 203,531 204,531 205,531 206,531 207,531 208,531 209,531 210,531 211,531 212,531 213,531 214,531 215,531 216,531 217,531.1 218,531.1 219,531.1 220,531.1 221,531.1 222,531.1 223,531.2 224,531.2 225,531.2 226,531.2 227,531.2 228,531.2 229,531.3 230,531.3 231,531.3 232,531.3 233,531.3 234,531.3 235,531.4 236,531.4 237,531.4 238,531.4 239,531.4 240,531.4 241,531.4 242,531.4 243,531.4 244,531.4 245,531.4 246,531.4 247,531.4 248,531.4 249,531.4 250,531.4 251,531.3 252,531.3 253,531.3 254,531.3 255,531.3 256,531.3 257,531.3 258,531.2 259,531.2 260,531.2 261,531.2 262,531.2 263,531.2 264,531.1 265,531.1 266,531.1 267,531.1 268,531.1 269,531.1 270,531 271,531 272,531 273,531 274,531 275,531 276,531 277,531 278,531 279,531 280,531 281,531 282,531 283,531 284,531 285,531 286,531.1 287,531.1 288,531.1 289,531.1 290,531.1 291,531.1 292,531.1 293,531.2 294,531.2 295,531.2 296,531.2 297,531.2 298,531.2 299,531.3 300,531.3 301,531.3 302,531.3 303,531.3 304,531.3 305,531.4 306,531.4 307,531.4 308,531.4 309,531.4 310,531.4 311,531.4 312,531.1 313,529.6 314,526.7 315,522.4 316,516.9 317,510.5 318,503.4 319,496 320,488.5 321,481.4 322,474.8 323,469.2 324,464.8 325,461.7 326,460.1 327,460.1 328,461.7 329,464.7 330,469.1 331,474.7 332,481.1 333,487.9 334,493.9 335,498.7 336,501.9 337,503.4 338,503.2 339,501.3 340,497.7 341,492.7 342,486.8 343,481.2 344,476.4 345,472.7 346,470.1 347,468.9 348,469 349,470.5 350,473.3 351,477.3 352,482.3 353,488 354,494.3 355,500.8 356,507.3 357,513.4 358,519 359,523.7 360,527.3 361,529.7 362,530.9 363,531.2 364,531.2 365,531.2 366,531.2 367,531.2 368,531.3 369,531.3 370,531.3 371,531.3 372,531.3 373,531.3 374,531.3 375,531.4 376,531.4 377,531.4 378,531.4 379,531.4 380,531.4 381,531.4 382,531.4 383,531.4 384,531.4 385,531.4 386,531.4 387,531.4 388,531.4 389,531.4 390,531.4 391,531.3 392,531.3 393,531.3 394,531.3 395,531.3 396,531.3 397,531.3 398,531.2 399,531.2 400,531.2 401,531.2 402,531.2 403,531.1 404,531.1 405,531.1 406,531.1 407,531.1 408,531.1 409,531.1 410,531 411,531 412,531 413,531 414,531 415,531 416,531 417,531 418,531 419,531 420,531 421,531 422,531 423,531 424,531 425,531 426,531.1 427,531.1 428,531.1 429,531.1 430,531.1 431,531.1 432,531.1 433,531.2 434,531.2 435,531.2 436,531.2 437,531.2 438,531.3 439,531.3 440,531.3 441,531.3 442,531.3 443,531.3 444,531.3 445,531.4 446,531.4 447,531.4 448,531.4 449,531.4 450,531.4 451,531.4 452,531.4 453,531.4 454,531.4 455,531.4 456,531.4 457,531.4 458,531.4 459,531.4 460,531.4 461,531.3 462,531.3 463,531.3 464,531.3 465,531.3 466,531.3 467,531.2 468,531.2 469,531.2 470,531.2 471,531.2 472,531.2 473,531.1 474,530.8 475,529.1 476,525.6 477,520.4 478,513.8 479,506 480,497.6 481,488.9 482,480.3 483,472.4 484,465.5 485,460 486,456.2 487,454.2 488,454.2 489,456.2 490,460 491,465.5 492,472.4 493,480.3 494,488.9 495,497.6 496,506 497,513.8 498,520.4 499,525.6 500,529.1 501,530.8 502,531.1 503,531.2 504,531.2 505,531.2 506,531.2 507,531.2 508,531.3 509,531.3 510,531.3 511,531.3 512,531.3 513,531.3 514,531.3 515,531.4 516,531.4 517,531.4 518,531.4 519,531.4 520,531.4 521,531.4 522,531.4 523,531.4 524,531.4 525,531.4 526,531.4 527,531.4 528,531.4 529,531.4 530,531.4 531,531.3 532,531.3 533,531.3 534,531.3 535,530.9 536,529.2 537,525.5 538,520.1 539,513.2 540,505.1 541,496.2 542,487.1 543,478.2 544,469.9 545,462.7 546,457 547,453 548,450.9 549,450.9 550,452.9 551,456.9 552,462.6 553,469.8 554,478.1 555,487 556,496.1 557,504.9 558,513 559,519.9 560,525.3 561,528.9 562,530.7 563,531 564,531 565,531 566,531.1 567,531.1 568,531.1 569,531.1 570,531.1 571,531.1 572,531.2 573,531.2 574,531.2 575,531.2 576,531.2 577,531.2 578,531.3 579,531.3 580,531.3 581,531.3 582,531.3 583,531.3 584,531.4 585,531.4 586,531.4 587,531.4 588,531.4 589,531.4 590,531.4 591,531.4 592,531.4 593,531.4 594,531.4 595,531.4 596,531.4 597,531.4 598,531.4 599,531.4 600,531.4 601,531.3 602,531.3 603,531.3 604,531.3 605,531.3 606,531.3 607,531.2 608,531.2 609,531.2 610,531.2 611,531.2 612,531.2 613,531.1 614,531.1 615,531.1 616,531.1 617,531.1 618,531.1 619,531 620,530.8 621,529.4 622,526.3 623,521.5 624,515.4 625,508.2 626,500.4 627,492.3 628,484.4 629,477 630,470.7 631,465.7 632,462.2 633,460.6 634,460.7 635,462.8 636,466.6 637,471.9 638,478.5 639,486 640,494 641,502.1 642,509.9 643,516.9 644,522.8 645,527.2 646,530 647,531.1 648,531.3 649,531.3 650,531.3 651,531.3 652,531.3 653,531.3 654,531.4 655,531.4 656,531.4 657,531.4 658,531.4 659,531.4 660,531.4 661,531.4 662,531.4 663,531.4 664,531.4 665,531.4 666,531.4 667,531.4 668,531.4 669,531.4 670,531.3 671,531.3 672,531.3 673,531.3 674,531.3 675,531.3 676,531.3 677,531.2 678,531.2 679,531.2 680,531.2 681,531.2 682,531.2 683,531.1 684,531.1 685,531.1 686,531.1 687,531.1 688,531.1 689,531 690,531 691,531 692,531 693,531 694,531 695,531 696,531 697,531 698,531 699,531 700,531 701,531 702,531 703,531 704,531 705,531.1 706,531.1 707,531.1 708,531.1 709,531.1 710,531.1 711,531.1 712,531.2 713,531.2 714,531.2 715,531.2 716,531.2 717,531.3 718,531.3 719,531.3 720,531.3 721,531.3 722,531.3 723,531.3 724,531.4 725,531.4 726,531.4 727,531.4 728,531.4 729,531.4 730,531.4 731,531.4 732,531.4 733,531.4 734,531.4 735,531.4 736,531.4 737,531.4 738,531.4 739,531.4 740,531.3 741,531.3 742,531.3 743,531.3 744,531.3 745,531.3 746,531.3 747,531.2 748,531.2 749,531.2 750,531.2 751,531.2 752,531.1 753,531.1 754,531.1 755,531.1 756,531.1 757,531.1 758,531.1 759,531 760,531 761,531 762,531 763,531 764,531 765,531 766,531 767,531 768,531 769,531 770,531 771,531 772,531 773,531 774,531 775,531.1 776,531.1 777,531.1 778,531.1 779,531.1 780,531.1 781,531 782,530.1 783,527.4 784,522.7 785,516.2 786,508.4 787,499.5 788,490.2 789,480.8 790,471.8 791,463.7 792,457 793,451.9 794,448.7 795,447.6 796,448.7 797,451.9 798,457 799,463.8 800,471.9 801,480.9 802,490.3 803,499.7 804,508.5 805,516.4 806,522.8 807,527.6 808,530.3 809,531.2 810,531.3 811,531.3 812,531.3 813,531.3 814,531.3 815,531.3 816,531.3 817,531.2 818,531.2 819,531.2 820,531.2 821,531.2 822,531.1 823,531.1 824,531.1 825,531.1 826,531.1 827,531.1 828,531.1 829,531 830,531 831,531 832,531 833,531 834,531 835,531 836,531 837,531 838,531 839,531 840,531 841,531 842,531 843,530.8 844,529.4 845,526.2 846,521.4 847,515.2 848,507.8 849,499.8 850,491.4 851,483.2 852,475.6 853,468.9 854,463.4 855,459.6 856,457.6 857,457.4 858,459.1 859,462.6 860,467.8 861,474.3 862,481.8 863,490 864,498.4 865,506.5 866,514.1 867,520.6 868,525.7 869,529.2 870,531 871,531.4 872,531.4 873,531.4 874,531.4 875,531.4 876,531.4 877,531.4 878,531.4 879,531.4 880,531.3 881,531.3 882,531.3 883,531.3 884,531.3 885,531.3 886,531.2 887,531.2 888,531.2 889,531.2 890,531.2 891,531.2 892,531.1 893,531.1 894,531.1 895,531.1 896,531.1 897,531.1 898,531.1 899,531 900,531 901,531 902,531 903,531 904,531 905,531 906,531 907,531 908,531 909,531 910,531 911,531 912,531 913,531 914,531 915,531.1 916,531.1 917,531.1 918,531.1 919,531.1 920,531.1 921,531.2 922,531.2 923,531.2 924,531.2 925,531.2 926,531.2 927,531.3 928,531.3 929,531.3 930,531.3 931,531.3 932,531.3 933,531.3 934,531.4 935,531.4 936,531.4 937,531.4 938,531.4 939,531.4 940,531.4 941,531.4 942,531.4 943,531.4 944,531.4 945,531.4 946,531.4 947,531.4 948,531.4 949,531.4 950,531.3 951,531.3 952,531.3 953,531.3 954,531.3 955,531.3 956,531.2 957,531.2 958,531.2 959,531.2 960,531.2 961,531.2 962,531.1 963,531.1 964,531.1 965,531.1 966,531.1 967,531.1 968,531 969,531 970,531 971,531 972,531 973,531 974,531 975,531 976,531 977,531 978,531 979,531 980,531 981,531 982,531 983,531 984,531.1 985,531.1 986,531.1 987,530.8 988,529.4 989,526.2 990,521.3 991,515 992,507.5 993,499.4 994,490.9 995,482.5 996,474.7 997,467.9 998,462.4 999,458.5 1000,456.4 1001,456.3 1002,458 1003,461.6 1004,466.8 1005,473.4 1006,481.1 1007,489.4 1008,497.9 1009,506.2 1010,513.8 1011,520.4 1012,525.6 1013,529.2 1014,531 1015,531.4 1016,531.4 1017,531.4 1018,531.4 1019,531.3 1020,531.3 1021,531.3 1022,531.3 1023,531.3 1024,531.3 1025,531.3 1026,531.2 1027,531.2 1028,531.2 1029,531.2 1030,531.2 1031,531.2 1032,531.1 1033,531.1 1034,531.1 1035,531.1 1036,531.1 1037,531.1 1038,531 1039,531 1040,531 1041,531 1042,531 1043,531 L1043,531.5 L61,531.5 Z" fill="#3b63d9" fill-opacity="0.14" stroke="none"/>
<path d="M61,531 62,531 63,531 64,531 65,531 66,531 67,531 68,531 69,531 70,531 71,531 72,531 73,531 74,531 75,531 76,531 77,531.1 78,531.1 79,531.1 80,531.1 81,531.1 82,531.1 83,531.1 84,531.2 85,531.2 86,531.2 87,531.2 88,531.2 89,531.3 90,531.3 91,531.3 92,531.3 93,531.3 94,531.3 95,531.3 96,531.4 97,531.4 98,531.4 99,531.4 100,531.4 101,531.4 102,531.4 103,531.4 104,531.4 105,531.4 106,531.4 107,531.4 108,531.4 109,531.4 110,531.4 111,531.4 112,531.3 113,531.3 114,531.3 115,531.3 116,531.3 117,531.3 118,531.2 119,531.2 120,531.2 121,531.2 122,531.2 123,531.2 124,531.1 125,531.1 126,531.1 127,531.1 128,531.1 129,531.1 130,531.1 131,531 132,531 133,531 134,531 135,531 136,531 137,531 138,531 139,531 140,531 141,531 142,531 143,531 144,531 145,531 146,531 147,531.1 148,531.1 149,531.1 150,531.1 151,531.1 152,531.1 153,531.2 154,531.2 155,531.2 156,531.2 157,531.2 158,531.2 159,531.3 160,531.3 161,531.3 162,531.3 163,531.3 164,531.3 165,531.3 166,531.4 167,531.4 168,531.3 169,530.9 170,529.1 171,525.6 172,520.6 173,514.3 174,507 175,499.2 176,491.1 177,483.2 178,476 179,469.7 180,464.6 181,461.1 182,459.3 183,459.3 184,461.1 185,464.6 186,469.6 187,475.9 188,483.1 189,490.9 190,499 191,506.8 192,514 193,520.3 194,525.3 195,528.8 196,530.6 197,531.1 198,531.1 199,531.1 200,531 201,531 202,531 203,531 204,531 205,531 206,531 207,531 208,531 209,531 210,531 211,531 212,531 213,531 214,531 215,531 216,531 217,531.1 218,531.1 219,531.1 220,531.1 221,531.1 222,531.1 223,531.2 224,531.2 225,531.2 226,531.2 227,531.2 228,531.2 229,531.3 230,531.3 231,531.3 232,531.3 233,531.3 234,531.3 235,531.4 236,531.4 237,531.4 238,531.4 239,531.4 240,531.4 241,531.4 242,531.4 243,531.4 244,531.4 245,531.4 246,531.4 247,531.4 248,531.4 249,531.4 250,531.4 251,531.3 252,531.3 253,531.3 254,531.3 255,531.3 256,531.3 257,531.3 258,531.2 259,531.2 260,531.2 261,531.2 262,531.2 263,531.2 264,531.1 265,531.1 266,531.1 267,531.1 268,531.1 269,531.1 270,531 271,531 272,531 273,531 274,531 275,531 276,531 277,531 278,531 279,531 280,531 281,531 282,531 283,531 284,531 285,531 286,531.1 287,531.1 288,531.1 289,531.1 290,531.1 291,531.1 292,531.1 293,531.2 294,531.2 295,531.2 296,531.2 297,531.2 298,531.2 299,531.3 300,531.3 301,531.3 302,531.3 303,531.3 304,531.3 305,531.4 306,531.4 307,531.4 308,531.4 309,531.4 310,531.4 311,531.4 312,531.1 313,529.6 314,526.7 315,522.4 316,516.9 317,510.5 318,503.4 319,496 320,488.5 321,481.4 322,474.8 323,469.2 324,464.8 325,461.7 326,460.1 327,460.1 328,461.7 329,464.7 330,469.1 331,474.7 332,481.1 333,487.9 334,493.9 335,498.7 336,501.9 337,503.4 338,503.2 339,501.3 340,497.7 341,492.7 342,486.8 343,481.2 344,476.4 345,472.7 346,470.1 347,468.9 348,469 349,470.5 350,473.3 351,477.3 352,482.3 353,488 354,494.3 355,500.8 356,507.3 357,513.4 358,519 359,523.7 360,527.3 361,529.7 362,530.9 363,531.2 364,531.2 365,531.2 366,531.2 367,531.2 368,531.3 369,531.3 370,531.3 371,531.3 372,531.3 373,531.3 374,531.3 375,531.4 376,531.4 377,531.4 378,531.4 379,531.4 380,531.4 381,531.4 382,531.4 383,531.4 384,531.4 385,531.4 386,531.4 387,531.4 388,531.4 389,531.4 390,531.4 391,531.3 392,531.3 393,531.3 394,531.3 395,531.3 396,531.3 397,531.3 398,531.2 399,531.2 400,531.2 401,531.2 402,531.2 403,531.1 404,531.1 405,531.1 406,531.1 407,531.1 408,531.1 409,531.1 410,531 411,531 412,531 413,531 414,531 415,531 416,531 417,531 418,531 419,531 420,531 421,531 422,531 423,531 424,531 425,531 426,531.1 427,531.1 428,531.1 429,531.1 430,531.1 431,531.1 432,531.1 433,531.2 434,531.2 435,531.2 436,531.2 437,531.2 438,531.3 439,531.3 440,531.3 441,531.3 442,531.3 443,531.3 444,531.3 445,531.4 446,531.4 447,531.4 448,531.4 449,531.4 450,531.4 451,531.4 452,531.4 453,531.4 454,531.4 455,531.4 456,531.4 457,531.4 458,531.4 459,531.4 460,531.4 461,531.3 462,531.3 463,531.3 464,531.3 465,531.3 466,531.3 467,531.2 468,531.2 469,531.2 470,531.2 471,531.2 472,531.2 473,531.1 474,530.8 475,529.1 476,525.6 477,520.4 478,513.8 479,506 480,497.6 481,488.9 482,480.3 483,472.4 484,465.5 485,460 486,456.2 487,454.2 488,454.2 489,456.2 490,460 491,465.5 492,472.4 493,480.3 494,488.9 495,497.6 496,506 497,513.8 498,520.4 499,525.6 500,529.1 501,530.8 502,531.1 503,531.2 504,531.2 505,531.2 506,531.2 507,531.2 508,531.3 509,531.3 510,531.3 511,531.3 512,531.3 513,531.3 514,531.3 515,531.4 516,531.4 517,531.4 518,531.4 519,531.4 520,531.4 521,531.4 522,531.4 523,531.4 524,531.4 525,531.4 526,531.4 527,531.4 528,531.4 529,531.4 530,531.4 531,531.3 532,531.3 533,531.3 534,531.3 535,530.9 536,529.2 537,525.5 538,520.1 539,513.2 540,505.1 541,496.2 542,487.1 543,478.2 544,469.9 545,462.7 546,457 547,453 548,450.9 549,450.9 550,452.9 551,456.9 552,462.6 553,469.8 554,478.1 555,487 556,496.1 557,504.9 558,513 559,519.9 560,525.3 561,528.9 562,530.7 563,531 564,531 565,531 566,531.1 567,531.1 568,531.1 569,531.1 570,531.1 571,531.1 572,531.2 573,531.2 574,531.2 575,531.2 576,531.2 577,531.2 578,531.3 579,531.3 580,531.3 581,531.3 582,531.3 583,531.3 584,531.4 585,531.4 586,531.4 587,531.4 588,531.4 589,531.4 590,531.4 591,531.4 592,531.4 593,531.4 594,531.4 595,531.4 596,531.4 597,531.4 598,531.4 599,531.4 600,531.4 601,531.3 602,531.3 603,531.3 604,531.3 605,531.3 606,531.3 607,531.2 608,531.2 609,531.2 610,531.2 611,531.2 612,531.2 613,531.1 614,531.1 615,531.1 616,531.1 617,531.1 618,531.1 619,531 620,530.8 621,529.4 622,526.3 623,521.5 624,515.4 625,508.2 626,500.4 627,492.3 628,484.4 629,477 630,470.7 631,465.7 632,462.2 633,460.6 634,460.7 635,462.8 636,466.6 637,471.9 638,478.5 639,486 640,494 641,502.1 642,509.9 643,516.9 644,522.8 645,527.2 646,530 647,531.1 648,531.3 649,531.3 650,531.3 651,531.3 652,531.3 653,531.3 654,531.4 655,531.4 656,531.4 657,531.4 658,531.4 659,531.4 660,531.4 661,531.4 662,531.4 663,531.4 664,531.4 665,531.4 666,531.4 667,531.4 668,531.4 669,531.4 670,531.3 671,531.3 672,531.3 673,531.3 674,531.3 675,531.3 676,531.3 677,531.2 678,531.2 679,531.2 680,531.2 681,531.2 682,531.2 683,531.1 684,531.1 685,531.1 686,531.1 687,531.1 688,531.1 689,531 690,531 691,531 692,531 693,531 694,531 695,531 696,531 697,531 698,531 699,531 700,531 701,531 702,531 703,531 704,531 705,531.1 706,531.1 707,531.1 708,531.1 709,531.1 710,531.1 711,531.1 712,531.2 713,531.2 714,531.2 715,531.2 716,531.2 717,531.3 718,531.3 719,531.3 720,531.3 721,531.3 722,531.3 723,531.3 724,531.4 725,531.4 726,531.4 727,531.4 728,531.4 729,531.4 730,531.4 731,531.4 732,531.4 733,531.4 734,531.4 735,531.4 736,531.4 737,531.4 738,531.4 739,531.4 740,531.3 741,531.3 742,531.3 743,531.3 744,531.3 745,531.3 746,531.3 747,531.2 748,531.2 749,531.2 750,531.2 751,531.2 752,531.1 753,531.1 754,531.1 755,531.1 756,531.1 757,531.1 758,531.1 759,531 760,531 761,531 762,531 763,531 764,531 765,531 766,531 767,531 768,531 769,531 770,531 771,531 772,531 773,531 774,531 775,531.1 776,531.1 777,531.1 778,531.1 779,531.1 780,531.1 781,531 782,530.1 783,527.4 784,522.7 785,516.2 786,508.4 787,499.5 788,490.2 789,480.8 790,471.8 791,463.7 792,457 793,451.9 794,448.7 795,447.6 796,448.7 797,451.9 798,457 799,463.8 800,471.9 801,480.9 802,490.3 803,499.7 804,508.5 805,516.4 806,522.8 807,527.6 808,530.3 809,531.2 810,531.3 811,531.3 812,531.3 813,531.3 814,531.3 815,531.3 816,531.3 817,531.2 818,531.2 819,531.2 820,531.2 821,531.2 822,531.1 823,531.1 824,531.1 825,531.1 826,531.1 827,531.1 828,531.1 829,531 830,531 831,531 832,531 833,531 834,531 835,531 836,531 837,531 838,531 839,531 840,531 841,531 842,531 843,530.8 844,529.4 845,526.2 846,521.4 847,515.2 848,507.8 849,499.8 850,491.4 851,483.2 852,475.6 853,468.9 854,463.4 855,459.6 856,457.6 857,457.4 858,459.1 859,462.6 860,467.8 861,474.3 862,481.8 863,490 864,498.4 865,506.5 866,514.1 867,520.6 868,525.7 869,529.2 870,531 871,531.4 872,531.4 873,531.4 874,531.4 875,531.4 876,531.4 877,531.4 878,531.4 879,531.4 880,531.3 881,531.3 882,531.3 883,531.3 884,531.3 885,531.3 886,531.2 887,531.2 888,531.2 889,531.2 890,531.2 891,531.2 892,531.1 893,531.1 894,531.1 895,531.1 896,531.1 897,531.1 898,531.1 899,531 900,531 901,531 902,531 903,531 904,531 905,531 906,531 907,531 908,531 909,531 910,531 911,531 912,531 913,531 914,531 915,531.1 916,531.1 917,531.1 918,531.1 919,531.1 920,531.1 921,531.2 922,531.2 923,531.2 924,531.2 925,531.2 926,531.2 927,531.3 928,531.3 929,531.3 930,531.3 931,531.3 932,531.3 933,531.3 934,531.4 935,531.4 936,531.4 937,531.4 938,531.4 939,531.4 940,531.4 941,531.4 942,531.4 943,531.4 944,531.4 945,531.4 946,531.4 947,531.4 948,531.4 949,531.4 950,531.3 951,531.3 952,531.3 953,531.3 954,531.3 955,531.3 956,531.2 957,531.2 958,531.2 959,531.2 960,531.2 961,531.2 962,531.1 963,531.1 964,531.1 965,531.1 966,531.1 967,531.1 968,531 969,531 970,531 971,531 972,531 973,531 974,531 975,531 976,531 977,531 978,531 979,531 980,531 981,531 982,531 983,531 984,531.1 985,531.1 986,531.1 987,530.8 988,529.4 989,526.2 990,521.3 991,515 992,507.5 993,499.4 994,490.9 995,482.5 996,474.7 997,467.9 998,462.4 999,458.5 1000,456.4 1001,456.3 1002,458 1003,461.6 1004,466.8 1005,473.4 1006,481.1 1007,489.4 1008,497.9 1009,506.2 1010,513.8 1011,520.4 1012,525.6 1013,529.2 1014,531 1015,531.4 1016,531.4 1017,531.4 1018,531.4 1019,531.3 1020,531.3 1021,531.3 1022,531.3 1023,531.3 1024,531.3 1025,531.3 1026,531.2 1027,531.2 1028,531.2 1029,531.2 1030,531.2 1031,531.2 1032,531.1 1033,531.1 1034,531.1 1035,531.1 1036,531.1 1037,531.1 1038,531 1039,531 1040,531 1041,531 1042,531 1043,531" fill="none" stroke="#3b63d9" stroke-width="2.5" stroke-linejoin="round"/>
<path d="M61,531.3 62,531.3 63,531.3 64,531.3 65,531.3 66,531.3 67,531.3 68,531.3 69,531.3 70,531.4 71,531.4 72,531.4 73,531.4 74,531.4 75,531.4 76,531.4 77,531.4 78,531.4 79,531.4 80,531.4 81,531.4 82,531.4 83,531.4 84,531.4 85,531.2 86,529.6 87,526.2 88,521 89,514.2 90,506.2 91,497.3 92,488.1 93,478.8 94,470 95,462.1 96,455.4 97,450.4 98,447.2 99,445.9 100,446.7 101,449.6 102,454.2 103,460.6 104,468.2 105,476.9 106,486.1 107,495.4 108,504.3 109,512.5 110,519.6 111,525.1 112,528.9 113,530.8 114,531.2 115,531.2 116,531.2 117,531.2 118,531.2 119,531.2 120,531.2 121,531.2 122,531.2 123,531.2 124,531.2 125,531.2 126,531.2 127,531.2 128,531.2 129,531.2 130,531.3 131,531.3 132,531.3 133,531.3 134,531.3 135,531.3 136,531.3 137,531.3 138,531.3 139,531.3 140,531.4 141,531.4 142,531.4 143,531.4 144,531.4 145,531.4 146,531.4 147,531.4 148,531.4 149,531.4 150,531.4 151,531.4 152,531.4 153,531.4 154,531.4 155,531.4 156,531.4 157,531.4 158,531.4 159,531.4 160,531.4 161,531.4 162,531.4 163,531.4 164,531.4 165,531.4 166,531.4 167,531.4 168,531.4 169,531.3 170,531.3 171,531.3 172,531.3 173,531.3 174,531.3 175,531.3 176,531.3 177,531.3 178,531.3 179,531.2 180,531.2 181,531.2 182,531.2 183,531.2 184,531.2 185,531.2 186,531.2 187,531.2 188,531.2 189,531.2 190,531.2 191,531.2 192,531.2 193,531.2 194,531.2 195,531.2 196,531.2 197,531.2 198,531.2 199,531.2 200,531.3 201,531.3 202,531.3 203,531.3 204,531.3 205,531.3 206,531.3 207,531.3 208,531.3 209,531.3 210,531 211,529.4 212,525.8 213,520.4 214,513.4 215,505.1 216,495.8 217,486.1 218,476.3 219,466.9 220,458.3 221,451 222,445.1 223,441 224,439 225,439 226,441 227,445.1 228,451 229,458.3 230,466.9 231,476.3 232,485.6 233,493.3 234,498.5 235,501 236,500.7 237,497.5 238,491.6 239,483.4 240,473.9 241,464.5 242,456.1 243,448.9 244,443.3 245,439.6 246,437.9 247,438.3 248,440.8 249,445.3 250,451.5 251,459.2 252,468.1 253,477.7 254,487.5 255,497.3 256,506.4 257,514.6 258,521.4 259,526.5 260,529.7 261,531 262,531.2 263,531.2 264,531.2 265,531.2 266,531.2 267,531.2 268,531.2 269,531.2 270,531.3 271,531.3 272,531.3 273,531.3 274,531.3 275,531.3 276,531.3 277,531.3 278,531.3 279,531.3 280,531.4 281,531.4 282,531.4 283,531.4 284,531.4 285,531.4 286,531.4 287,531.4 288,531.4 289,531.4 290,531.4 291,531.4 292,531.4 293,531.4 294,531.4 295,531.4 296,531.4 297,531.4 298,531.4 299,531.4 300,531.4 301,531.4 302,531.4 303,531.4 304,531.4 305,531.4 306,531.4 307,531.4 308,531.4 309,531.3 310,531.3 311,531.3 312,531.3 313,531.3 314,531.3 315,531.3 316,531.3 317,531.3 318,531.3 319,531.2 320,531.2 321,531.2 322,531.2 323,531.2 324,531.2 325,531.2 326,531.2 327,531.2 328,531.2 329,531.2 330,531.2 331,531.2 332,531.2 333,531.2 334,531.2 335,531.2 336,531.2 337,531.2 338,531.2 339,531.2 340,531.3 341,531.3 342,531.3 343,531.3 344,531.3 345,531.3 346,531.3 347,531.3 348,531.3 349,531.3 350,531.4 351,531.4 352,531.4 353,531.4 354,531.4 355,531.4 356,531.4 357,531.4 358,531.4 359,531.4 360,531.4 361,531.4 362,531.4 363,531.4 364,531.4 365,531.4 366,531.4 367,531.4 368,531.4 369,531.4 370,531.4 371,531.4 372,531.4 373,531.4 374,531.4 375,531.4 376,531.4 377,531.4 378,531.4 379,531.3 380,531.3 381,531.3 382,531.3 383,531.3 384,531.3 385,531.3 386,531.3 387,531.3 388,531.3 389,531.2 390,531.2 391,531.2 392,531.2 393,531.2 394,531.2 395,531.2 396,531.2 397,531.2 398,531.2 399,531.2 400,531.2 401,531.2 402,531.2 403,531.2 404,531.2 405,531.2 406,531.2 407,531.2 408,531.2 409,531.2 410,531.3 411,531.3 412,531.3 413,531.3 414,531.3 415,531.3 416,531.3 417,531.3 418,531.3 419,531.4 420,531.4 421,531.4 422,531.4 423,531.4 424,531.4 425,531.4 426,531.4 427,531.4 428,531.4 429,531.4 430,531.4 431,531.4 432,531.4 433,531.4 434,531.4 435,531.4 436,531.4 437,531.4 438,531.4 439,531.4 440,531.4 441,531.4 442,531.4 443,531.4 444,531.4 445,531.4 446,531.4 447,531.4 448,531.4 449,531.3 450,531.3 451,531.3 452,531.3 453,531.3 454,531.3 455,531.3 456,531.3 457,531.3 458,531.2 459,531.2 460,531.2 461,531.2 462,531.2 463,531.2 464,531.2 465,531.2 466,531.2 467,531.2 468,531.2 469,531.2 470,531.2 471,531.2 472,531.2 473,531.2 474,531.2 475,531.2 476,531.2 477,531.2 478,531.2 479,531.3 480,531.3 481,531.3 482,531.3 483,531.3 484,531.3 485,531.3 486,531.3 487,531.3 488,531.3 489,531.4 490,531.4 491,531.4 492,531.4 493,531.4 494,531.4 495,531.4 496,531.4 497,531.4 498,531.4 499,531.4 500,531.4 501,531.4 502,531.4 503,531.4 504,531.4 505,531.4 506,531.4 507,531.4 508,531.4 509,531.4 510,531.4 511,531.4 512,531.4 513,531.4 514,531.4 515,531.4 516,531.4 517,531.4 518,531.3 519,531.3 520,531.3 521,531.3 522,531.3 523,531.3 524,531.3 525,531.3 526,531.3 527,531.3 528,531.2 529,531.2 530,531.2 531,531.2 532,531.2 533,531.2 534,531.2 535,531.2 536,531.2 537,531.2 538,531.2 539,531.2 540,531.2 541,531.2 542,531.2 543,531.2 544,531.2 545,531.2 546,531.2 547,531.2 548,531.2 549,531.3 550,531.3 551,531.3 552,531.3 553,531.3 554,531.3 555,531.3 556,531.3 557,531.3 558,531.3 559,531.4 560,531.4 561,531.4 562,531.4 563,531.4 564,531.4 565,531.4 566,531.4 567,531.4 568,531.4 569,531.4 570,531.4 571,531.4 572,531.4 573,531.4 574,531.4 575,531.4 576,531.4 577,531.4 578,531.4 579,531.4 580,531.4 581,531.4 582,531.4 583,531.4 584,531.4 585,531.4 586,531.4 587,531.4 588,531.3 589,531.3 590,531.3 591,531.3 592,531.3 593,531.3 594,531.3 595,531.3 596,531.3 597,531.3 598,531.2 599,531.2 600,531.2 601,531.2 602,531.2 603,531.2 604,531.2 605,531.2 606,531.2 607,531.2 608,531.2 609,531.2 610,531.2 611,531.2 612,531.2 613,531.2 614,531.2 615,531.2 616,531.2 617,531.2 618,531.2 619,531.3 620,531.3 621,531.3 622,531.3 623,531.3 624,531.3 625,531.3 626,531.3 627,531.3 628,531.3 629,531.4 630,531.4 631,531.4 632,531.4 633,531.4 634,531.4 635,531.4 636,531.4 637,531.4 638,531.4 639,531.2 640,530.2 641,528 642,524.8 643,520.6 644,515.6 645,510.2 646,504.5 647,498.8 648,493.4 649,488.5 650,484.4 651,481.2 652,479.2 653,478.3 654,478.7 655,480.2 656,483 657,486.7 658,491.3 659,496.5 660,501.9 661,506.7 662,510 663,511.5 664,511.3 665,509.4 666,505.7 667,500.5 668,494.3 669,487.9 670,482.1 671,477 672,473.1 673,470.4 674,469.1 675,469.2 676,470.8 677,473.8 678,477.9 679,483.1 680,489.1 681,495.6 682,502.3 683,508.9 684,515.1 685,520.6 686,525.1 687,528.4 688,530.4 689,531.2 690,531.3 691,531.3 692,531.3 693,531.3 694,531.3 695,531.3 696,531.3 697,531.3 698,531.2 699,530.3 700,527.6 701,523 702,516.6 703,508.8 704,499.8 705,490.1 706,480.1 707,470.2 708,460.9 709,452.5 710,445.5 711,440.1 712,436.6 713,435.2 714,435.8 715,438.5 716,443.1 717,449.5 718,457.4 719,466.4 720,476 721,485.5 722,493.7 723,500.1 724,504.3 725,506.2 726,505.7 727,502.8 728,497.7 729,491.4 730,485.2 731,479.5 732,474.8 733,471.1 734,468.6 735,467.5 736,467.8 737,469.4 738,472.4 739,476.5 740,481.6 741,487.5 742,493.9 743,500.5 744,507.1 745,513.3 746,518.9 747,523.7 748,527.3 749,529.8 750,531 751,531.2 752,531.2 753,531.2 754,531.2 755,531.2 756,531.2 757,531.2 758,531.2 759,531.3 760,531.3 761,531.3 762,531.3 763,531.1 764,530.3 765,528.3 766,525.4 767,521.6 768,517.2 769,512.5 770,507.6 771,503 772,498.8 773,495.3 774,492.8 775,491.3 776,490.9 777,491.8 778,493.7 779,496.7 780,500.4 781,504.9 782,509.6 783,514.5 784,519.1 785,523.3 786,526.8 787,529.4 788,530.9 789,531.4 790,531.4 791,531.4 792,531.4 793,531.4 794,531.4 795,531.4 796,531.4 797,531.4 798,531.3 799,531.3 800,531.3 801,531.3 802,531.3 803,531 804,529.7 805,526.8 806,522.7 807,517.3 808,511 809,504.2 810,497.2 811,490.3 812,483.9 813,478.3 814,473.9 815,470.8 816,469.2 817,469.2 818,470.8 819,473.9 820,478.3 821,483.9 822,490.3 823,497.2 824,504.2 825,511 826,517.3 827,522.6 828,526.8 829,529.6 830,531 831,531.3 832,531.3 833,531.3 834,531.3 835,531.3 836,531.3 837,531.3 838,531.4 839,531.4 840,531.4 841,531.4 842,531.4 843,531.4 844,531.4 845,531.4 846,531.4 847,531.4 848,531.4 849,531.4 850,531.4 851,531.4 852,531.4 853,531.4 854,531.4 855,531.4 856,531.4 857,531.4 858,531.4 859,531.4 860,531.4 861,531.4 862,531.4 863,531.4 864,531.4 865,531.4 866,531.4 867,531.3 868,531.3 869,531.3 870,531.3 871,531.3 872,531.3 873,531.3 874,531.3 875,531.3 876,531.3 877,531.2 878,531.2 879,531.2 880,531.2 881,531.2 882,531.1 883,530.3 884,528.2 885,524.8 886,520.3 887,515 888,509 889,502.8 890,496.6 891,490.8 892,485.6 893,481.3 894,478.2 895,476.4 896,475.9 897,476.9 898,479.3 899,482.9 900,487.6 901,493.1 902,499.1 903,505.4 904,511.6 905,517.3 906,522.4 907,526.4 908,529.3 909,530.9 910,531.3 911,531.4 912,531.4 913,531.4 914,531.4 915,531.4 916,531.4 917,531.4 918,531.4 919,531.4 920,531.4 921,531.4 922,531.3 923,530.3 924,527.7 925,523.2 926,517.2 927,509.8 928,501.5 929,492.4 930,483.1 931,473.9 932,465.2 933,457.4 934,450.8 935,445.7 936,442.3 937,440.7 938,441.1 939,443.4 940,447.4 941,453.2 942,460.3 943,468.5 944,477.4 945,486.4 946,494.6 947,501 948,505.5 949,507.8 950,507.9 951,505.7 952,501.4 953,495.5 954,489.5 955,483.9 956,479.1 957,475.3 958,472.6 959,471.1 960,471 961,472.2 962,474.7 963,478.3 964,482.9 965,488.3 966,494 967,498.7 968,501.8 969,503.1 970,502.5 971,500.3 972,496.3 973,490.9 974,484.3 975,477.1 976,470.4 977,464.7 978,460.4 979,457.7 980,456.7 981,457.4 982,459.8 983,463.8 984,469.2 985,475.8 986,483.2 987,491.1 988,499.1 989,507 990,514.1 991,520.4 992,525.4 993,528.9 994,530.9 995,531.4 996,531.4 997,531.4 998,531.4 999,531.4 1000,531.4 1001,531.4 1002,531.4 1003,531.4 1004,531.4 1005,531.4 1006,531.4 1007,531.3 1008,531.3 1009,531.3 1010,531.3 1011,531.3 1012,531.3 1013,531.3 1014,531.3 1015,531.3 1016,531.3 1017,531.2 1018,531.2 1019,531.2 1020,531.2 1021,531.2 1022,531.2 1023,531.2 1024,531.2 1025,531.2 1026,531.2 1027,531.2 1028,531.2 1029,531.2 1030,531.2 1031,531.2 1032,531.2 1033,531.2 1034,531.2 1035,531.2 1036,531.2 1037,531.2 1038,531.3 1039,531.3 1040,531.3 1041,531.3 1042,531.3 1043,531.3 L1043,531.5 L61,531.5 Z" fill="#0d0d0d" fill-opacity="0.14" stroke="none"/>
<path d="M61,531.3 62,531.3 63,531.3 64,531.3 65,531.3 66,531.3 67,531.3 68,531.3 69,531.3 70,531.4 71,531.4 72,531.4 73,531.4 74,531.4 75,531.4 76,531.4 77,531.4 78,531.4 79,531.4 80,531.4 81,531.4 82,531.4 83,531.4 84,531.4 85,531.2 86,529.6 87,526.2 88,521 89,514.2 90,506.2 91,497.3 92,488.1 93,478.8 94,470 95,462.1 96,455.4 97,450.4 98,447.2 99,445.9 100,446.7 101,449.6 102,454.2 103,460.6 104,468.2 105,476.9 106,486.1 107,495.4 108,504.3 109,512.5 110,519.6 111,525.1 112,528.9 113,530.8 114,531.2 115,531.2 116,531.2 117,531.2 118,531.2 119,531.2 120,531.2 121,531.2 122,531.2 123,531.2 124,531.2 125,531.2 126,531.2 127,531.2 128,531.2 129,531.2 130,531.3 131,531.3 132,531.3 133,531.3 134,531.3 135,531.3 136,531.3 137,531.3 138,531.3 139,531.3 140,531.4 141,531.4 142,531.4 143,531.4 144,531.4 145,531.4 146,531.4 147,531.4 148,531.4 149,531.4 150,531.4 151,531.4 152,531.4 153,531.4 154,531.4 155,531.4 156,531.4 157,531.4 158,531.4 159,531.4 160,531.4 161,531.4 162,531.4 163,531.4 164,531.4 165,531.4 166,531.4 167,531.4 168,531.4 169,531.3 170,531.3 171,531.3 172,531.3 173,531.3 174,531.3 175,531.3 176,531.3 177,531.3 178,531.3 179,531.2 180,531.2 181,531.2 182,531.2 183,531.2 184,531.2 185,531.2 186,531.2 187,531.2 188,531.2 189,531.2 190,531.2 191,531.2 192,531.2 193,531.2 194,531.2 195,531.2 196,531.2 197,531.2 198,531.2 199,531.2 200,531.3 201,531.3 202,531.3 203,531.3 204,531.3 205,531.3 206,531.3 207,531.3 208,531.3 209,531.3 210,531 211,529.4 212,525.8 213,520.4 214,513.4 215,505.1 216,495.8 217,486.1 218,476.3 219,466.9 220,458.3 221,451 222,445.1 223,441 224,439 225,439 226,441 227,445.1 228,451 229,458.3 230,466.9 231,476.3 232,485.6 233,493.3 234,498.5 235,501 236,500.7 237,497.5 238,491.6 239,483.4 240,473.9 241,464.5 242,456.1 243,448.9 244,443.3 245,439.6 246,437.9 247,438.3 248,440.8 249,445.3 250,451.5 251,459.2 252,468.1 253,477.7 254,487.5 255,497.3 256,506.4 257,514.6 258,521.4 259,526.5 260,529.7 261,531 262,531.2 263,531.2 264,531.2 265,531.2 266,531.2 267,531.2 268,531.2 269,531.2 270,531.3 271,531.3 272,531.3 273,531.3 274,531.3 275,531.3 276,531.3 277,531.3 278,531.3 279,531.3 280,531.4 281,531.4 282,531.4 283,531.4 284,531.4 285,531.4 286,531.4 287,531.4 288,531.4 289,531.4 290,531.4 291,531.4 292,531.4 293,531.4 294,531.4 295,531.4 296,531.4 297,531.4 298,531.4 299,531.4 300,531.4 301,531.4 302,531.4 303,531.4 304,531.4 305,531.4 306,531.4 307,531.4 308,531.4 309,531.3 310,531.3 311,531.3 312,531.3 313,531.3 314,531.3 315,531.3 316,531.3 317,531.3 318,531.3 319,531.2 320,531.2 321,531.2 322,531.2 323,531.2 324,531.2 325,531.2 326,531.2 327,531.2 328,531.2 329,531.2 330,531.2 331,531.2 332,531.2 333,531.2 334,531.2 335,531.2 336,531.2 337,531.2 338,531.2 339,531.2 340,531.3 341,531.3 342,531.3 343,531.3 344,531.3 345,531.3 346,531.3 347,531.3 348,531.3 349,531.3 350,531.4 351,531.4 352,531.4 353,531.4 354,531.4 355,531.4 356,531.4 357,531.4 358,531.4 359,531.4 360,531.4 361,531.4 362,531.4 363,531.4 364,531.4 365,531.4 366,531.4 367,531.4 368,531.4 369,531.4 370,531.4 371,531.4 372,531.4 373,531.4 374,531.4 375,531.4 376,531.4 377,531.4 378,531.4 379,531.3 380,531.3 381,531.3 382,531.3 383,531.3 384,531.3 385,531.3 386,531.3 387,531.3 388,531.3 389,531.2 390,531.2 391,531.2 392,531.2 393,531.2 394,531.2 395,531.2 396,531.2 397,531.2 398,531.2 399,531.2 400,531.2 401,531.2 402,531.2 403,531.2 404,531.2 405,531.2 406,531.2 407,531.2 408,531.2 409,531.2 410,531.3 411,531.3 412,531.3 413,531.3 414,531.3 415,531.3 416,531.3 417,531.3 418,531.3 419,531.4 420,531.4 421,531.4 422,531.4 423,531.4 424,531.4 425,531.4 426,531.4 427,531.4 428,531.4 429,531.4 430,531.4 431,531.4 432,531.4 433,531.4 434,531.4 435,531.4 436,531.4 437,531.4 438,531.4 439,531.4 440,531.4 441,531.4 442,531.4 443,531.4 444,531.4 445,531.4 446,531.4 447,531.4 448,531.4 449,531.3 450,531.3 451,531.3 452,531.3 453,531.3 454,531.3 455,531.3 456,531.3 457,531.3 458,531.2 459,531.2 460,531.2 461,531.2 462,531.2 463,531.2 464,531.2 465,531.2 466,531.2 467,531.2 468,531.2 469,531.2 470,531.2 471,531.2 472,531.2 473,531.2 474,531.2 475,531.2 476,531.2 477,531.2 478,531.2 479,531.3 480,531.3 481,531.3 482,531.3 483,531.3 484,531.3 485,531.3 486,531.3 487,531.3 488,531.3 489,531.4 490,531.4 491,531.4 492,531.4 493,531.4 494,531.4 495,531.4 496,531.4 497,531.4 498,531.4 499,531.4 500,531.4 501,531.4 502,531.4 503,531.4 504,531.4 505,531.4 506,531.4 507,531.4 508,531.4 509,531.4 510,531.4 511,531.4 512,531.4 513,531.4 514,531.4 515,531.4 516,531.4 517,531.4 518,531.3 519,531.3 520,531.3 521,531.3 522,531.3 523,531.3 524,531.3 525,531.3 526,531.3 527,531.3 528,531.2 529,531.2 530,531.2 531,531.2 532,531.2 533,531.2 534,531.2 535,531.2 536,531.2 537,531.2 538,531.2 539,531.2 540,531.2 541,531.2 542,531.2 543,531.2 544,531.2 545,531.2 546,531.2 547,531.2 548,531.2 549,531.3 550,531.3 551,531.3 552,531.3 553,531.3 554,531.3 555,531.3 556,531.3 557,531.3 558,531.3 559,531.4 560,531.4 561,531.4 562,531.4 563,531.4 564,531.4 565,531.4 566,531.4 567,531.4 568,531.4 569,531.4 570,531.4 571,531.4 572,531.4 573,531.4 574,531.4 575,531.4 576,531.4 577,531.4 578,531.4 579,531.4 580,531.4 581,531.4 582,531.4 583,531.4 584,531.4 585,531.4 586,531.4 587,531.4 588,531.3 589,531.3 590,531.3 591,531.3 592,531.3 593,531.3 594,531.3 595,531.3 596,531.3 597,531.3 598,531.2 599,531.2 600,531.2 601,531.2 602,531.2 603,531.2 604,531.2 605,531.2 606,531.2 607,531.2 608,531.2 609,531.2 610,531.2 611,531.2 612,531.2 613,531.2 614,531.2 615,531.2 616,531.2 617,531.2 618,531.2 619,531.3 620,531.3 621,531.3 622,531.3 623,531.3 624,531.3 625,531.3 626,531.3 627,531.3 628,531.3 629,531.4 630,531.4 631,531.4 632,531.4 633,531.4 634,531.4 635,531.4 636,531.4 637,531.4 638,531.4 639,531.2 640,530.2 641,528 642,524.8 643,520.6 644,515.6 645,510.2 646,504.5 647,498.8 648,493.4 649,488.5 650,484.4 651,481.2 652,479.2 653,478.3 654,478.7 655,480.2 656,483 657,486.7 658,491.3 659,496.5 660,501.9 661,506.7 662,510 663,511.5 664,511.3 665,509.4 666,505.7 667,500.5 668,494.3 669,487.9 670,482.1 671,477 672,473.1 673,470.4 674,469.1 675,469.2 676,470.8 677,473.8 678,477.9 679,483.1 680,489.1 681,495.6 682,502.3 683,508.9 684,515.1 685,520.6 686,525.1 687,528.4 688,530.4 689,531.2 690,531.3 691,531.3 692,531.3 693,531.3 694,531.3 695,531.3 696,531.3 697,531.3 698,531.2 699,530.3 700,527.6 701,523 702,516.6 703,508.8 704,499.8 705,490.1 706,480.1 707,470.2 708,460.9 709,452.5 710,445.5 711,440.1 712,436.6 713,435.2 714,435.8 715,438.5 716,443.1 717,449.5 718,457.4 719,466.4 720,476 721,485.5 722,493.7 723,500.1 724,504.3 725,506.2 726,505.7 727,502.8 728,497.7 729,491.4 730,485.2 731,479.5 732,474.8 733,471.1 734,468.6 735,467.5 736,467.8 737,469.4 738,472.4 739,476.5 740,481.6 741,487.5 742,493.9 743,500.5 744,507.1 745,513.3 746,518.9 747,523.7 748,527.3 749,529.8 750,531 751,531.2 752,531.2 753,531.2 754,531.2 755,531.2 756,531.2 757,531.2 758,531.2 759,531.3 760,531.3 761,531.3 762,531.3 763,531.1 764,530.3 765,528.3 766,525.4 767,521.6 768,517.2 769,512.5 770,507.6 771,503 772,498.8 773,495.3 774,492.8 775,491.3 776,490.9 777,491.8 778,493.7 779,496.7 780,500.4 781,504.9 782,509.6 783,514.5 784,519.1 785,523.3 786,526.8 787,529.4 788,530.9 789,531.4 790,531.4 791,531.4 792,531.4 793,531.4 794,531.4 795,531.4 796,531.4 797,531.4 798,531.3 799,531.3 800,531.3 801,531.3 802,531.3 803,531 804,529.7 805,526.8 806,522.7 807,517.3 808,511 809,504.2 810,497.2 811,490.3 812,483.9 813,478.3 814,473.9 815,470.8 816,469.2 817,469.2 818,470.8 819,473.9 820,478.3 821,483.9 822,490.3 823,497.2 824,504.2 825,511 826,517.3 827,522.6 828,526.8 829,529.6 830,531 831,531.3 832,531.3 833,531.3 834,531.3 835,531.3 836,531.3 837,531.3 838,531.4 839,531.4 840,531.4 841,531.4 842,531.4 843,531.4 844,531.4 845,531.4 846,531.4 847,531.4 848,531.4 849,531.4 850,531.4 851,531.4 852,531.4 853,531.4 854,531.4 855,531.4 856,531.4 857,531.4 858,531.4 859,531.4 860,531.4 861,531.4 862,531.4 863,531.4 864,531.4 865,531.4 866,531.4 867,531.3 868,531.3 869,531.3 870,531.3 871,531.3 872,531.3 873,531.3 874,531.3 875,531.3 876,531.3 877,531.2 878,531.2 879,531.2 880,531.2 881,531.2 882,531.1 883,530.3 884,528.2 885,524.8 886,520.3 887,515 888,509 889,502.8 890,496.6 891,490.8 892,485.6 893,481.3 894,478.2 895,476.4 896,475.9 897,476.9 898,479.3 899,482.9 900,487.6 901,493.1 902,499.1 903,505.4 904,511.6 905,517.3 906,522.4 907,526.4 908,529.3 909,530.9 910,531.3 911,531.4 912,531.4 913,531.4 914,531.4 915,531.4 916,531.4 917,531.4 918,531.4 919,531.4 920,531.4 921,531.4 922,531.3 923,530.3 924,527.7 925,523.2 926,517.2 927,509.8 928,501.5 929,492.4 930,483.1 931,473.9 932,465.2 933,457.4 934,450.8 935,445.7 936,442.3 937,440.7 938,441.1 939,443.4 940,447.4 941,453.2 942,460.3 943,468.5 944,477.4 945,486.4 946,494.6 947,501 948,505.5 949,507.8 950,507.9 951,505.7 952,501.4 953,495.5 954,489.5 955,483.9 956,479.1 957,475.3 958,472.6 959,471.1 960,471 961,472.2 962,474.7 963,478.3 964,482.9 965,488.3 966,494 967,498.7 968,501.8 969,503.1 970,502.5 971,500.3 972,496.3 973,490.9 974,484.3 975,477.1 976,470.4 977,464.7 978,460.4 979,457.7 980,456.7 981,457.4 982,459.8 983,463.8 984,469.2 985,475.8 986,483.2 987,491.1 988,499.1 989,507 990,514.1 991,520.4 992,525.4 993,528.9 994,530.9 995,531.4 996,531.4 997,531.4 998,531.4 999,531.4 1000,531.4 1001,531.4 1002,531.4 1003,531.4 1004,531.4 1005,531.4 1006,531.4 1007,531.3 1008,531.3 1009,531.3 1010,531.3 1011,531.3 1012,531.3 1013,531.3 1014,531.3 1015,531.3 1016,531.3 1017,531.2 1018,531.2 1019,531.2 1020,531.2 1021,531.2 1022,531.2 1023,531.2 1024,531.2 1025,531.2 1026,531.2 1027,531.2 1028,531.2 1029,531.2 1030,531.2 1031,531.2 1032,531.2 1033,531.2 1034,531.2 1035,531.2 1036,531.2 1037,531.2 1038,531.3 1039,531.3 1040,531.3 1041,531.3 1042,531.3 1043,531.3" fill="none" stroke="#0d0d0d" stroke-width="2.5" stroke-linejoin="round"/>
<path d="M61,531.4 62,531.4 63,531.4 64,531.4 65,531.4 66,531.4 67,531.4 68,531.4 69,531.4 70,531.4 71,531.4 72,531.3 73,531.3 74,531.3 75,531.3 76,531.3 77,531.3 78,531.2 79,531.2 80,531.2 81,531.2 82,531.2 83,531.1 84,531.1 85,531.1 86,531.1 87,531.1 88,531 89,531 90,531 91,531 92,531 93,531 94,530.9 95,530.9 96,530.9 97,530.9 98,530.9 99,530.9 100,530.9 101,530.9 102,530.9 103,530.9 104,530.9 105,530.9 106,530.9 107,530.7 108,529.4 109,526.7 110,522.7 111,517.6 112,511.6 113,505 114,498.1 115,491.3 116,485 117,479.4 118,474.8 119,471.4 120,469.5 121,469 122,470.1 123,472.7 124,476.6 125,481.7 126,487.6 127,494.2 128,500.7 129,505.8 130,508.9 131,509.9 132,508.7 133,505.3 134,500 135,493.2 136,485.8 137,479 138,473 139,468.3 140,464.9 141,463.2 142,463.2 143,464.9 144,468.2 145,472.9 146,478.9 147,485.7 148,492.5 149,498.1 150,501.7 151,503.3 152,502.7 153,499.9 154,495.2 155,488.7 156,481.2 157,474 158,467.7 159,462.9 160,459.6 161,458.1 162,458.5 163,460.7 164,464.6 165,470 166,476.6 167,484.2 168,492.2 169,500.4 170,508.3 171,515.4 172,521.5 173,526.2 174,529.3 175,530.7 176,530.9 177,530.9 178,531 179,531 180,531 181,531 182,531 183,531 184,531.1 185,531.1 186,531.1 187,531.1 188,531.1 189,531.2 190,531 191,529.9 192,527.4 193,523.3 194,518 195,511.8 196,504.9 197,497.7 198,490.7 199,484.1 200,478.4 201,473.8 202,470.6 203,469 204,469 205,470.6 206,473.8 207,478.4 208,484.1 209,490.7 210,497.7 211,504.9 212,511.8 213,518.1 214,523.4 215,527.4 216,530 217,531.1 218,531.2 219,531.2 220,531.2 221,531.2 222,531.2 223,531.1 224,531.1 225,531.1 226,531.1 227,531 228,531 229,531 230,531 231,531 232,531 233,530.9 234,530.9 235,530.9 236,530.9 237,530.9 238,530.9 239,530.9 240,530.9 241,530.9 242,530.9 243,530.9 244,530.9 245,530.9 246,530.9 247,530.9 248,531 249,531 250,531 251,531 252,531 253,531 254,531 255,530.5 256,528.9 257,525.9 258,521.9 259,517 260,511.5 261,505.7 262,500 263,494.6 264,490 265,486.4 266,484 267,482.9 268,483.2 269,484.8 270,487.8 271,491.9 272,496.8 273,502.4 274,508.2 275,513.9 276,519.2 277,523.9 278,527.5 279,529.9 280,531.1 281,531.3 282,531.3 283,531.3 284,531.3 285,531.3 286,531.3 287,531.3 288,531.2 289,531.2 290,531.2 291,531.2 292,531.1 293,530.8 294,529.1 295,525.5 296,520.3 297,513.5 298,505.6 299,497.1 300,488.2 301,479.6 302,471.5 303,464.5 304,458.9 305,455 306,453 307,453 308,455 309,458.9 310,464.5 311,471.5 312,479.5 313,488.1 314,497 315,505.5 316,513.4 317,520.1 318,525.4 319,528.9 320,530.6 321,531 322,531 323,531 324,531.1 325,531.1 326,531.1 327,531.1 328,531.2 329,531.2 330,531.2 331,531.2 332,531.2 333,531.3 334,531.3 335,531.3 336,531.3 337,531.3 338,531.3 339,531.3 340,531.4 341,531.4 342,531.4 343,531.4 344,531.4 345,531.4 346,531.4 347,531.4 348,531.4 349,531.4 350,531.4 351,531.3 352,531.3 353,531.3 354,531.3 355,531.3 356,531.3 357,531.2 358,531.2 359,531.2 360,531.2 361,531.2 362,531.1 363,531.1 364,531.1 365,531.1 366,531.1 367,531 368,531 369,531 370,531 371,531 372,531 373,530.9 374,530.9 375,530.9 376,530.9 377,530.9 378,530.9 379,530.9 380,530.9 381,530.9 382,530.9 383,530.9 384,530.9 385,530.9 386,530.9 387,531 388,531 389,531 390,531 391,531 392,531 393,531.1 394,531.1 395,531.1 396,531.1 397,531.1 398,531.2 399,531.2 400,531.2 401,531.2 402,531.2 403,531.3 404,531.3 405,531.3 406,531.3 407,531.3 408,531.3 409,531.4 410,531.4 411,531.4 412,531.4 413,531.4 414,531.4 415,531.4 416,531.4 417,531.4 418,531.4 419,531.4 420,531.4 421,531.3 422,531.3 423,531.3 424,531.3 425,531.3 426,531.3 427,531.2 428,531.2 429,531.2 430,531.2 431,531.2 432,531.1 433,531.1 434,531.1 435,531.1 436,531.1 437,531 438,531 439,531 440,531 441,531 442,531 443,530.9 444,530.9 445,530.9 446,530.9 447,530.9 448,530.9 449,530.9 450,530.9 451,530.9 452,530.9 453,530.9 454,530.5 455,528.7 456,525.2 457,520 458,513.5 459,505.9 460,497.7 461,489.4 462,481.3 463,473.9 464,467.6 465,462.8 466,459.6 467,458.3 468,458.9 469,461.3 470,465.6 471,471.4 472,478.4 473,486.3 474,494.7 475,503 476,510.9 477,517.9 478,523.7 479,527.9 480,530.4 481,531.3 482,531.4 483,531.4 484,531.4 485,531.4 486,531.4 487,531.4 488,531.4 489,531.4 490,531.4 491,531.3 492,531.3 493,531.3 494,531.3 495,531.3 496,531.3 497,531.2 498,531.2 499,531.2 500,531.2 501,531.2 502,531.1 503,531.1 504,531.1 505,531.1 506,531.1 507,531 508,531 509,531 510,531 511,531 512,530.9 513,530.8 514,529.9 515,527.3 516,522.8 517,516.6 518,509.1 519,500.7 520,491.8 521,482.8 522,474.2 523,466.5 524,460.1 525,455.2 526,452.2 527,451.2 528,452.3 529,455.3 530,460.2 531,466.6 532,474.4 533,482.9 534,491.9 535,500.9 536,509.3 537,516.9 538,523 539,527.6 540,530.2 541,531.1 542,531.2 543,531.3 544,531.3 545,531.3 546,531.3 547,531.3 548,531.3 549,531.4 550,531.4 551,531.4 552,531.4 553,531.4 554,531.4 555,531.4 556,531.4 557,531.3 558,530.4 559,528 560,524.1 561,518.9 562,512.5 563,505.4 564,497.8 565,490.2 566,482.8 567,476.2 568,470.6 569,466.2 570,463.4 571,462.2 572,462.7 573,464.8 574,468.5 575,473.6 576,479.9 577,486.8 578,493.7 579,499.1 580,502.5 581,503.7 582,502.6 583,499.4 584,494 585,486.9 586,478.8 587,471.1 588,464.4 589,458.9 590,454.9 591,452.7 592,452.4 593,453.9 594,457.1 595,462 596,468.3 597,475.7 598,483.8 599,491.5 600,497.7 601,501.9 602,503.8 603,503.3 604,500.4 605,495.3 606,488.4 607,480.5 608,473 609,466.4 610,461 611,456.9 612,454.5 613,453.9 614,454.9 615,457.7 616,462.1 617,467.8 618,474.6 619,482.3 620,490.4 621,498.7 622,506.6 623,513.9 624,520.2 625,525.3 626,528.8 627,530.8 628,531.3 629,531.4 630,531.3 631,531.3 632,531.3 633,531.3 634,531.3 635,531.3 636,531.3 637,531.2 638,531.2 639,531.2 640,531.2 641,531.2 642,531.1 643,531.1 644,531.1 645,531.1 646,531 647,531 648,531 649,531 650,531 651,531 652,530.9 653,530.9 654,530.9 655,530.9 656,530.9 657,530.9 658,530.9 659,530.9 660,530.9 661,530.9 662,530.9 663,530.9 664,530.9 665,530.9 666,530.9 667,531 668,531 669,531 670,531 671,531 672,531 673,531.1 674,531.1 675,531.1 676,531.1 677,531.2 678,531.2 679,531.2 680,531.2 681,531.2 682,530.7 683,529.2 684,526.6 685,522.9 686,518.5 687,513.5 688,508.2 689,503 690,498.2 691,494 692,490.7 693,488.5 694,487.5 695,487.8 696,489.3 697,491.9 698,495.6 699,500.1 700,505.1 701,510.3 702,515.5 703,520.3 704,524.5 705,527.8 706,530 707,531 708,531.2 709,531.2 710,531.2 711,531.1 712,531.1 713,531.1 714,531.1 715,531.1 716,531 717,531 718,531 719,531 720,531 721,531 722,530.9 723,530.9 724,530.9 725,530.9 726,530.9 727,530.9 728,530.9 729,530.9 730,530.9 731,530.9 732,530.9 733,530.9 734,530.9 735,530.9 736,530.9 737,531 738,531 739,531 740,531 741,531 742,531.1 743,531.1 744,531.1 745,531.1 746,531.1 747,531.2 748,531.2 749,531.2 750,531.2 751,531.2 752,531.3 753,531.3 754,531.3 755,531.3 756,531.3 757,531.3 758,531.3 759,531.4 760,531.4 761,531.4 762,531.4 763,531.4 764,531.4 765,531.4 766,531.4 767,531.4 768,531.4 769,531.4 770,531.3 771,531.3 772,531.3 773,531.3 774,531.3 775,531.3 776,531.2 777,531.2 778,531.2 779,531.2 780,531.2 781,531.1 782,531.1 783,531.1 784,531.1 785,531.1 786,531 787,531 788,531 789,531 790,531 791,531 792,530.9 793,530.9 794,530.9 795,530.9 796,530.9 797,530.9 798,530.9 799,530.9 800,530.9 801,530.9 802,530.9 803,530.9 804,530.9 805,530.9 806,531 807,531 808,531 809,531 810,531 811,531 812,531.1 813,531.1 814,531.1 815,531.1 816,531.1 817,531.2 818,531.2 819,531.2 820,531.2 821,531.2 822,531.3 823,531.2 824,530.8 825,529.3 826,526.4 827,522.3 828,517.3 829,511.6 830,505.5 831,499.3 832,493.4 833,488 834,483.6 835,480.2 836,478.1 837,477.3 838,478.1 839,480.1 840,483.5 841,488 842,493.3 843,499.2 844,505.4 845,511.5 846,517.2 847,522.2 848,526.3 849,529.1 850,530.7 851,531.1 852,531.1 853,531.1 854,531.1 855,531.1 856,531 857,531 858,531 859,531 860,531 861,531 862,530.9 863,530.9 864,530.9 865,530.9 866,530.9 867,530.9 868,530.9 869,530.9 870,530.9 871,530.9 872,530.9 873,530.9 874,530.9 875,530.9 876,531 877,531 878,531 879,531 880,531 881,531 882,531.1 883,531.1 884,531.1 885,531.1 886,531.1 887,531.2 888,531.2 889,531.2 890,531.2 891,531.2 892,531.3 893,531.3 894,531.3 895,531.3 896,531.3 897,531.3 898,531.4 899,531.4 900,531.4 901,531.4 902,531.4 903,531.4 904,531.4 905,531 906,529.7 907,527.2 908,523.7 909,519.2 910,514.2 911,508.8 912,503.3 913,498 914,493.3 915,489.4 916,486.4 917,484.6 918,484.1 919,484.8 920,486.8 921,489.9 922,494 923,498.8 924,504.1 925,509.6 926,514.9 927,519.9 928,524.1 929,527.4 930,529.7 931,530.7 932,530.9 933,530.9 934,530.9 935,530.9 936,530.9 937,530.9 938,530.9 939,530.9 940,530.9 941,530.9 942,530.9 943,530.9 944,530.9 945,530.9 946,531 947,531 948,531 949,531 950,531 951,531 952,531.1 953,531.1 954,531.1 955,531.1 956,531.1 957,531.2 958,531.2 959,531.2 960,531.2 961,531.3 962,531.3 963,531.3 964,531.3 965,531.3 966,531.3 967,531.3 968,531.4 969,531.4 970,531.4 971,531.4 972,531.4 973,531.4 974,531.4 975,531.4 976,531.4 977,531.4 978,531.4 979,531.3 980,531.3 981,531.3 982,531.3 983,531.3 984,531.3 985,531.3 986,531.2 987,531.2 988,531.2 989,531.2 990,531.2 991,531.1 992,531.1 993,531.1 994,531.1 995,531 996,531 997,531 998,531 999,531 1000,531 1001,530.9 1002,530.9 1003,530.9 1004,530.9 1005,530.9 1006,530.9 1007,530.8 1008,530 1009,527.6 1010,523.6 1011,518.1 1012,511.4 1013,503.8 1014,495.8 1015,487.8 1016,480.1 1017,473.2 1018,467.5 1019,463.1 1020,460.4 1021,459.5 1022,460.5 1023,463.2 1024,467.6 1025,473.4 1026,480.3 1027,488 1028,496.1 1029,504.1 1030,511.7 1031,518.4 1032,524 1033,528 1034,530.4 1035,531.2 1036,531.3 1037,531.3 1038,531.4 1039,531.4 1040,531.4 1041,531.4 1042,531.4 1043,531.4 L1043,531.5 L61,531.5 Z" fill="#f23a30" fill-opacity="0.14" stroke="none"/>
<path d="M61,531.4 62,531.4 63,531.4 64,531.4 65,531.4 66,531.4 67,531.4 68,531.4 69,531.4 70,531.4 71,531.4 72,531.3 73,531.3 74,531.3 75,531.3 76,531.3 77,531.3 78,531.2 79,531.2 80,531.2 81,531.2 82,531.2 83,531.1 84,531.1 85,531.1 86,531.1 87,531.1 88,531 89,531 90,531 91,531 92,531 93,531 94,530.9 95,530.9 96,530.9 97,530.9 98,530.9 99,530.9 100,530.9 101,530.9 102,530.9 103,530.9 104,530.9 105,530.9 106,530.9 107,530.7 108,529.4 109,526.7 110,522.7 111,517.6 112,511.6 113,505 114,498.1 115,491.3 116,485 117,479.4 118,474.8 119,471.4 120,469.5 121,469 122,470.1 123,472.7 124,476.6 125,481.7 126,487.6 127,494.2 128,500.7 129,505.8 130,508.9 131,509.9 132,508.7 133,505.3 134,500 135,493.2 136,485.8 137,479 138,473 139,468.3 140,464.9 141,463.2 142,463.2 143,464.9 144,468.2 145,472.9 146,478.9 147,485.7 148,492.5 149,498.1 150,501.7 151,503.3 152,502.7 153,499.9 154,495.2 155,488.7 156,481.2 157,474 158,467.7 159,462.9 160,459.6 161,458.1 162,458.5 163,460.7 164,464.6 165,470 166,476.6 167,484.2 168,492.2 169,500.4 170,508.3 171,515.4 172,521.5 173,526.2 174,529.3 175,530.7 176,530.9 177,530.9 178,531 179,531 180,531 181,531 182,531 183,531 184,531.1 185,531.1 186,531.1 187,531.1 188,531.1 189,531.2 190,531 191,529.9 192,527.4 193,523.3 194,518 195,511.8 196,504.9 197,497.7 198,490.7 199,484.1 200,478.4 201,473.8 202,470.6 203,469 204,469 205,470.6 206,473.8 207,478.4 208,484.1 209,490.7 210,497.7 211,504.9 212,511.8 213,518.1 214,523.4 215,527.4 216,530 217,531.1 218,531.2 219,531.2 220,531.2 221,531.2 222,531.2 223,531.1 224,531.1 225,531.1 226,531.1 227,531 228,531 229,531 230,531 231,531 232,531 233,530.9 234,530.9 235,530.9 236,530.9 237,530.9 238,530.9 239,530.9 240,530.9 241,530.9 242,530.9 243,530.9 244,530.9 245,530.9 246,530.9 247,530.9 248,531 249,531 250,531 251,531 252,531 253,531 254,531 255,530.5 256,528.9 257,525.9 258,521.9 259,517 260,511.5 261,505.7 262,500 263,494.6 264,490 265,486.4 266,484 267,482.9 268,483.2 269,484.8 270,487.8 271,491.9 272,496.8 273,502.4 274,508.2 275,513.9 276,519.2 277,523.9 278,527.5 279,529.9 280,531.1 281,531.3 282,531.3 283,531.3 284,531.3 285,531.3 286,531.3 287,531.3 288,531.2 289,531.2 290,531.2 291,531.2 292,531.1 293,530.8 294,529.1 295,525.5 296,520.3 297,513.5 298,505.6 299,497.1 300,488.2 301,479.6 302,471.5 303,464.5 304,458.9 305,455 306,453 307,453 308,455 309,458.9 310,464.5 311,471.5 312,479.5 313,488.1 314,497 315,505.5 316,513.4 317,520.1 318,525.4 319,528.9 320,530.6 321,531 322,531 323,531 324,531.1 325,531.1 326,531.1 327,531.1 328,531.2 329,531.2 330,531.2 331,531.2 332,531.2 333,531.3 334,531.3 335,531.3 336,531.3 337,531.3 338,531.3 339,531.3 340,531.4 341,531.4 342,531.4 343,531.4 344,531.4 345,531.4 346,531.4 347,531.4 348,531.4 349,531.4 350,531.4 351,531.3 352,531.3 353,531.3 354,531.3 355,531.3 356,531.3 357,531.2 358,531.2 359,531.2 360,531.2 361,531.2 362,531.1 363,531.1 364,531.1 365,531.1 366,531.1 367,531 368,531 369,531 370,531 371,531 372,531 373,530.9 374,530.9 375,530.9 376,530.9 377,530.9 378,530.9 379,530.9 380,530.9 381,530.9 382,530.9 383,530.9 384,530.9 385,530.9 386,530.9 387,531 388,531 389,531 390,531 391,531 392,531 393,531.1 394,531.1 395,531.1 396,531.1 397,531.1 398,531.2 399,531.2 400,531.2 401,531.2 402,531.2 403,531.3 404,531.3 405,531.3 406,531.3 407,531.3 408,531.3 409,531.4 410,531.4 411,531.4 412,531.4 413,531.4 414,531.4 415,531.4 416,531.4 417,531.4 418,531.4 419,531.4 420,531.4 421,531.3 422,531.3 423,531.3 424,531.3 425,531.3 426,531.3 427,531.2 428,531.2 429,531.2 430,531.2 431,531.2 432,531.1 433,531.1 434,531.1 435,531.1 436,531.1 437,531 438,531 439,531 440,531 441,531 442,531 443,530.9 444,530.9 445,530.9 446,530.9 447,530.9 448,530.9 449,530.9 450,530.9 451,530.9 452,530.9 453,530.9 454,530.5 455,528.7 456,525.2 457,520 458,513.5 459,505.9 460,497.7 461,489.4 462,481.3 463,473.9 464,467.6 465,462.8 466,459.6 467,458.3 468,458.9 469,461.3 470,465.6 471,471.4 472,478.4 473,486.3 474,494.7 475,503 476,510.9 477,517.9 478,523.7 479,527.9 480,530.4 481,531.3 482,531.4 483,531.4 484,531.4 485,531.4 486,531.4 487,531.4 488,531.4 489,531.4 490,531.4 491,531.3 492,531.3 493,531.3 494,531.3 495,531.3 496,531.3 497,531.2 498,531.2 499,531.2 500,531.2 501,531.2 502,531.1 503,531.1 504,531.1 505,531.1 506,531.1 507,531 508,531 509,531 510,531 511,531 512,530.9 513,530.8 514,529.9 515,527.3 516,522.8 517,516.6 518,509.1 519,500.7 520,491.8 521,482.8 522,474.2 523,466.5 524,460.1 525,455.2 526,452.2 527,451.2 528,452.3 529,455.3 530,460.2 531,466.6 532,474.4 533,482.9 534,491.9 535,500.9 536,509.3 537,516.9 538,523 539,527.6 540,530.2 541,531.1 542,531.2 543,531.3 544,531.3 545,531.3 546,531.3 547,531.3 548,531.3 549,531.4 550,531.4 551,531.4 552,531.4 553,531.4 554,531.4 555,531.4 556,531.4 557,531.3 558,530.4 559,528 560,524.1 561,518.9 562,512.5 563,505.4 564,497.8 565,490.2 566,482.8 567,476.2 568,470.6 569,466.2 570,463.4 571,462.2 572,462.7 573,464.8 574,468.5 575,473.6 576,479.9 577,486.8 578,493.7 579,499.1 580,502.5 581,503.7 582,502.6 583,499.4 584,494 585,486.9 586,478.8 587,471.1 588,464.4 589,458.9 590,454.9 591,452.7 592,452.4 593,453.9 594,457.1 595,462 596,468.3 597,475.7 598,483.8 599,491.5 600,497.7 601,501.9 602,503.8 603,503.3 604,500.4 605,495.3 606,488.4 607,480.5 608,473 609,466.4 610,461 611,456.9 612,454.5 613,453.9 614,454.9 615,457.7 616,462.1 617,467.8 618,474.6 619,482.3 620,490.4 621,498.7 622,506.6 623,513.9 624,520.2 625,525.3 626,528.8 627,530.8 628,531.3 629,531.4 630,531.3 631,531.3 632,531.3 633,531.3 634,531.3 635,531.3 636,531.3 637,531.2 638,531.2 639,531.2 640,531.2 641,531.2 642,531.1 643,531.1 644,531.1 645,531.1 646,531 647,531 648,531 649,531 650,531 651,531 652,530.9 653,530.9 654,530.9 655,530.9 656,530.9 657,530.9 658,530.9 659,530.9 660,530.9 661,530.9 662,530.9 663,530.9 664,530.9 665,530.9 666,530.9 667,531 668,531 669,531 670,531 671,531 672,531 673,531.1 674,531.1 675,531.1 676,531.1 677,531.2 678,531.2 679,531.2 680,531.2 681,531.2 682,530.7 683,529.2 684,526.6 685,522.9 686,518.5 687,513.5 688,508.2 689,503 690,498.2 691,494 692,490.7 693,488.5 694,487.5 695,487.8 696,489.3 697,491.9 698,495.6 699,500.1 700,505.1 701,510.3 702,515.5 703,520.3 704,524.5 705,527.8 706,530 707,531 708,531.2 709,531.2 710,531.2 711,531.1 712,531.1 713,531.1 714,531.1 715,531.1 716,531 717,531 718,531 719,531 720,531 721,531 722,530.9 723,530.9 724,530.9 725,530.9 726,530.9 727,530.9 728,530.9 729,530.9 730,530.9 731,530.9 732,530.9 733,530.9 734,530.9 735,530.9 736,530.9 737,531 738,531 739,531 740,531 741,531 742,531.1 743,531.1 744,531.1 745,531.1 746,531.1 747,531.2 748,531.2 749,531.2 750,531.2 751,531.2 752,531.3 753,531.3 754,531.3 755,531.3 756,531.3 757,531.3 758,531.3 759,531.4 760,531.4 761,531.4 762,531.4 763,531.4 764,531.4 765,531.4 766,531.4 767,531.4 768,531.4 769,531.4 770,531.3 771,531.3 772,531.3 773,531.3 774,531.3 775,531.3 776,531.2 777,531.2 778,531.2 779,531.2 780,531.2 781,531.1 782,531.1 783,531.1 784,531.1 785,531.1 786,531 787,531 788,531 789,531 790,531 791,531 792,530.9 793,530.9 794,530.9 795,530.9 796,530.9 797,530.9 798,530.9 799,530.9 800,530.9 801,530.9 802,530.9 803,530.9 804,530.9 805,530.9 806,531 807,531 808,531 809,531 810,531 811,531 812,531.1 813,531.1 814,531.1 815,531.1 816,531.1 817,531.2 818,531.2 819,531.2 820,531.2 821,531.2 822,531.3 823,531.2 824,530.8 825,529.3 826,526.4 827,522.3 828,517.3 829,511.6 830,505.5 831,499.3 832,493.4 833,488 834,483.6 835,480.2 836,478.1 837,477.3 838,478.1 839,480.1 840,483.5 841,488 842,493.3 843,499.2 844,505.4 845,511.5 846,517.2 847,522.2 848,526.3 849,529.1 850,530.7 851,531.1 852,531.1 853,531.1 854,531.1 855,531.1 856,531 857,531 858,531 859,531 860,531 861,531 862,530.9 863,530.9 864,530.9 865,530.9 866,530.9 867,530.9 868,530.9 869,530.9 870,530.9 871,530.9 872,530.9 873,530.9 874,530.9 875,530.9 876,531 877,531 878,531 879,531 880,531 881,531 882,531.1 883,531.1 884,531.1 885,531.1 886,531.1 887,531.2 888,531.2 889,531.2 890,531.2 891,531.2 892,531.3 893,531.3 894,531.3 895,531.3 896,531.3 897,531.3 898,531.4 899,531.4 900,531.4 901,531.4 902,531.4 903,531.4 904,531.4 905,531 906,529.7 907,527.2 908,523.7 909,519.2 910,514.2 911,508.8 912,503.3 913,498 914,493.3 915,489.4 916,486.4 917,484.6 918,484.1 919,484.8 920,486.8 921,489.9 922,494 923,498.8 924,504.1 925,509.6 926,514.9 927,519.9 928,524.1 929,527.4 930,529.7 931,530.7 932,530.9 933,530.9 934,530.9 935,530.9 936,530.9 937,530.9 938,530.9 939,530.9 940,530.9 941,530.9 942,530.9 943,530.9 944,530.9 945,530.9 946,531 947,531 948,531 949,531 950,531 951,531 952,531.1 953,531.1 954,531.1 955,531.1 956,531.1 957,531.2 958,531.2 959,531.2 960,531.2 961,531.3 962,531.3 963,531.3 964,531.3 965,531.3 966,531.3 967,531.3 968,531.4 969,531.4 970,531.4 971,531.4 972,531.4 973,531.4 974,531.4 975,531.4 976,531.4 977,531.4 978,531.4 979,531.3 980,531.3 981,531.3 982,531.3 983,531.3 984,531.3 985,531.3 986,531.2 987,531.2 988,531.2 989,531.2 990,531.2 991,531.1 992,531.1 993,531.1 994,531.1 995,531 996,531 997,531 998,531 999,531 1000,531 1001,530.9 1002,530.9 1003,530.9 1004,530.9 1005,530.9 1006,530.9 1007,530.8 1008,530 1009,527.6 1010,523.6 1011,518.1 1012,511.4 1013,503.8 1014,495.8 1015,487.8 1016,480.1 1017,473.2 1018,467.5 1019,463.1 1020,460.4 1021,459.5 1022,460.5 1023,463.2 1024,467.6 1025,473.4 1026,480.3 1027,488 1028,496.1 1029,504.1 1030,511.7 1031,518.4 1032,524 1033,528 1034,530.4 1035,531.2 1036,531.3 1037,531.3 1038,531.4 1039,531.4 1040,531.4 1041,531.4 1042,531.4 1043,531.4" fill="none" stroke="#f23a30" stroke-width="2.5" stroke-linejoin="round"/>
</g>
<line x1="91" y1="534.9" x2="1013" y2="534.9" stroke="#b4b4b4" stroke-width="1.6"/>
<line x1="91" y1="557.3" x2="1013" y2="557.3" stroke="#b0b0b0" stroke-width="1.4"/>
<text x="139.9" y="550.6" font-size="15" text-anchor="middle" letter-spacing="2.7" style="fill:#6a6a6a">440</text>
<text x="344.8" y="550.6" font-size="15" text-anchor="middle" letter-spacing="2.7" style="fill:#6a6a6a">450</text>
<text x="549.7" y="550.6" font-size="15" text-anchor="middle" letter-spacing="2.7" style="fill:#6a6a6a">460</text>
<text x="754.6" y="550.6" font-size="15" text-anchor="middle" letter-spacing="2.7" style="fill:#6a6a6a">470</text>
<text x="959.5" y="550.6" font-size="15" text-anchor="middle" letter-spacing="2.7" style="fill:#6a6a6a">480</text>
<line x1="537.9" y1="95.6" x2="537.9" y2="518.4" stroke="#e9493f" stroke-width="6.2" stroke-linecap="round"/>
<text class="t" x="51.4" y="649.1" font-size="47.8">b. Mutation</text>
<line x1="205.8" y1="671" x2="205.8" y2="682.5" stroke="#8a8a8a" stroke-width="1"/>
<line x1="535.8" y1="671" x2="535.8" y2="682.5" stroke="#8a8a8a" stroke-width="1"/>
<g clip-path="url(#cr)"><text transform="scale(0.89,1)" x="119.1 143.8 168.5 193.3 218 242.7 267.4 292.1 316.9 341.6 366.3 391 415.7 440.4 465.2 489.9 514.6 539.3 564 588.8 613.5 638.2 662.9 687.6 712.4 737.1 761.8 786.5 811.2 836 860.7 885.4 910.1 934.8 959.6 984.3 1009 1033.7 1058.4 1083.1 1107.9 1132.6 1157.3" y="705.6" font-size="26.4" font-weight="normal" text-anchor="middle">ATTATCCTGGAACTGATGGAGGGAGGAGACCTTCTTACTTATT</text>
</g>
<g stroke="#696969" clip-path="url(#cr)">
<line x1="95" y1="731.8" x2="1033" y2="731.8" stroke-width="4"/>
<line x1="105.8" y1="725.9" x2="105.8" y2="737.8" stroke-width="3.8"/>
<line x1="127.8" y1="725.9" x2="127.8" y2="737.8" stroke-width="3.8"/>
<line x1="149.8" y1="718.0" x2="149.8" y2="746.0" stroke-width="4.2"/>
<line x1="171.8" y1="725.9" x2="171.8" y2="737.8" stroke-width="3.8"/>
<line x1="193.8" y1="725.9" x2="193.8" y2="737.8" stroke-width="3.8"/>
<line x1="215.8" y1="725.9" x2="215.8" y2="737.8" stroke-width="3.8"/>
<line x1="237.8" y1="725.9" x2="237.8" y2="737.8" stroke-width="3.8"/>
<line x1="259.8" y1="721.7" x2="259.8" y2="741.6" stroke-width="4.0"/>
<line x1="281.8" y1="725.9" x2="281.8" y2="737.8" stroke-width="3.8"/>
<line x1="303.8" y1="725.9" x2="303.8" y2="737.8" stroke-width="3.8"/>
<line x1="325.8" y1="725.9" x2="325.8" y2="737.8" stroke-width="3.8"/>
<line x1="347.8" y1="725.9" x2="347.8" y2="737.8" stroke-width="3.8"/>
<line x1="369.8" y1="718.0" x2="369.8" y2="746.0" stroke-width="4.2"/>
<line x1="391.8" y1="725.9" x2="391.8" y2="737.8" stroke-width="3.8"/>
<line x1="413.8" y1="725.9" x2="413.8" y2="737.8" stroke-width="3.8"/>
<line x1="435.8" y1="725.9" x2="435.8" y2="737.8" stroke-width="3.8"/>
<line x1="457.8" y1="725.9" x2="457.8" y2="737.8" stroke-width="3.8"/>
<line x1="479.8" y1="721.7" x2="479.8" y2="741.6" stroke-width="4.0"/>
<line x1="501.8" y1="725.9" x2="501.8" y2="737.8" stroke-width="3.8"/>
<line x1="523.8" y1="725.9" x2="523.8" y2="737.8" stroke-width="3.8"/>
<line x1="545.8" y1="725.9" x2="545.8" y2="737.8" stroke-width="3.8"/>
<line x1="567.8" y1="725.9" x2="567.8" y2="737.8" stroke-width="3.8"/>
<line x1="589.8" y1="718.0" x2="589.8" y2="746.0" stroke-width="4.2"/>
<line x1="611.8" y1="725.9" x2="611.8" y2="737.8" stroke-width="3.8"/>
<line x1="633.8" y1="725.9" x2="633.8" y2="737.8" stroke-width="3.8"/>
<line x1="655.8" y1="725.9" x2="655.8" y2="737.8" stroke-width="3.8"/>
<line x1="677.8" y1="725.9" x2="677.8" y2="737.8" stroke-width="3.8"/>
<line x1="699.8" y1="721.7" x2="699.8" y2="741.6" stroke-width="4.0"/>
<line x1="721.8" y1="725.9" x2="721.8" y2="737.8" stroke-width="3.8"/>
<line x1="743.8" y1="725.9" x2="743.8" y2="737.8" stroke-width="3.8"/>
<line x1="765.8" y1="725.9" x2="765.8" y2="737.8" stroke-width="3.8"/>
<line x1="787.8" y1="725.9" x2="787.8" y2="737.8" stroke-width="3.8"/>
<line x1="809.8" y1="718.0" x2="809.8" y2="746.0" stroke-width="4.2"/>
<line x1="831.8" y1="725.9" x2="831.8" y2="737.8" stroke-width="3.8"/>
<line x1="853.8" y1="725.9" x2="853.8" y2="737.8" stroke-width="3.8"/>
<line x1="875.8" y1="725.9" x2="875.8" y2="737.8" stroke-width="3.8"/>
<line x1="897.8" y1="725.9" x2="897.8" y2="737.8" stroke-width="3.8"/>
<line x1="919.8" y1="721.7" x2="919.8" y2="741.6" stroke-width="4.0"/>
<line x1="941.8" y1="725.9" x2="941.8" y2="737.8" stroke-width="3.8"/>
<line x1="963.8" y1="725.9" x2="963.8" y2="737.8" stroke-width="3.8"/>
<line x1="985.8" y1="725.9" x2="985.8" y2="737.8" stroke-width="3.8"/>
<line x1="1007.8" y1="725.9" x2="1007.8" y2="737.8" stroke-width="3.8"/>
<line x1="1029.8" y1="718.0" x2="1029.8" y2="746.0" stroke-width="4.2"/>
</g>
<g clip-path="url(#cr)"><text transform="scale(0.89,1)" x="119.1 143.8 168.5 193.3 218 242.7 267.4 292.1 316.9 341.6 366.3 391 415.7 440.4 465.2 489.9 514.6 539.3 564 588.8 613.5 638.2 662.9 687.6 712.4 737.1 761.8 786.5 811.2 836 860.7 885.4 910.1 934.8 959.6 984.3 1009 1033.7 1058.4 1083.1 1107.9 1132.6 1157.3" y="779.1" font-size="26.4" font-weight="normal" text-anchor="middle">TAATAGGACCTTGACTACCTCCCTCCTCTGGAAGAATGAATAA</text>
</g>
<rect x="95" y="803.9" width="938" height="29.8" fill="#fdd07f"/>
<g fill="#141414"><rect x="127.5" y="810.4" width="2.1" height="15.4"/><rect x="124.9" y="810.4" width="7.4" height="1.9"/><rect x="124.9" y="823.9" width="7.4" height="1.9"/></g>
<g fill="#141414"><rect x="193.5" y="810.4" width="2.1" height="15.4"/><rect x="190.9" y="810.4" width="7.4" height="1.9"/><rect x="190.9" y="823.9" width="7.4" height="1.9"/></g>
<text x="260.6" y="825.8" font-size="21.4" text-anchor="middle">L</text>
<text x="326.6" y="825.8" font-size="21.4" text-anchor="middle">E</text>
<text x="392.6" y="825.8" font-size="21.4" text-anchor="middle">L</text>
<text x="458.6" y="825.8" font-size="21.4" text-anchor="middle">M</text>
<text x="524.6" y="825.8" font-size="21.4" text-anchor="middle">E</text>
<text x="590.6" y="825.8" font-size="21.4" text-anchor="middle">G</text>
<text x="656.6" y="825.8" font-size="21.4" text-anchor="middle">G</text>
<text x="722.6" y="825.8" font-size="21.4" text-anchor="middle">D</text>
<text x="788.6" y="825.8" font-size="21.4" text-anchor="middle">L</text>
<text x="854.6" y="825.8" font-size="21.4" text-anchor="middle">L</text>
<text x="920.6" y="825.8" font-size="21.4" text-anchor="middle">T</text>
<text x="986.6" y="825.8" font-size="21.4" text-anchor="middle">Y</text>
<g clip-path="url(#cr)"><text transform="scale(0.89,1)" x="119.1 143.8 168.5 193.3 218 242.7 267.4 292.1 316.9 341.6 366.3 391 415.7 440.4 465.2 489.9 514.6 539.3 564 588.8 613.5 638.2 662.9 687.6 712.4 737.1 761.8 786.5 811.2 836 860.7 885.4 910.1 934.8 959.6 984.3 1009 1033.7 1058.4 1083.1 1107.9 1132.6 1157.3" y="916" font-size="26.4" font-weight="bold" text-anchor="middle" stroke="#111" stroke-width="0.35">ATTATCCTGGAACTGATGGAGGGAGGAGACCTTCTTACTTATT</text>
</g>
<line x1="95" y1="933.2" x2="1033" y2="933.2" stroke="#a9a9a9" stroke-width="1.6"/>
<line x1="148.1" y1="985" x2="148.1" y2="1176" stroke="#c2c2c2" stroke-width="1.6" stroke-dasharray="8 3.8"/>
<line x1="368.1" y1="985" x2="368.1" y2="1176" stroke="#c2c2c2" stroke-width="1.6" stroke-dasharray="8 3.8"/>
<line x1="588.1" y1="985" x2="588.1" y2="1176" stroke="#c2c2c2" stroke-width="1.6" stroke-dasharray="8 3.8"/>
<line x1="808.1" y1="985" x2="808.1" y2="1176" stroke="#c2c2c2" stroke-width="1.6" stroke-dasharray="8 3.8"/>
<line x1="1028.1" y1="985" x2="1028.1" y2="1176" stroke="#c2c2c2" stroke-width="1.6" stroke-dasharray="8 3.8"/>
<g clip-path="url(#cb)">
<path d="M65,1175.6 66,1175.6 67,1175.6 68,1175.5 69,1175.5 70,1175.5 71,1175.5 72,1175.5 73,1175.4 74,1175.4 75,1175.4 76,1175.4 77,1175.4 78,1175.4 79,1175.4 80,1175.3 81,1175.3 82,1175.3 83,1175.3 84,1175.3 85,1175.3 86,1175.3 87,1175.3 88,1175.3 89,1175.3 90,1175.3 91,1175.3 92,1175.2 93,1174.4 94,1171.5 95,1166.8 96,1160.8 97,1154.2 98,1147.4 99,1140.8 100,1134.8 101,1129.6 102,1125.6 103,1122.8 104,1121.5 105,1121.7 106,1123.3 107,1126.4 108,1130.7 109,1136.1 110,1142.3 111,1149 112,1155.8 113,1162.3 114,1168.1 115,1172.6 116,1175 117,1175.6 118,1175.7 119,1175.7 120,1175.7 121,1175.7 122,1175.7 123,1175.7 124,1175.7 125,1175.7 126,1175.7 127,1175.7 128,1175.7 129,1175.7 130,1175.7 131,1175.6 132,1175.6 133,1175.6 134,1175.6 135,1175.6 136,1175.6 137,1175.5 138,1175.5 139,1175.5 140,1175.5 141,1175.5 142,1175.5 143,1175.4 144,1175.4 145,1175.4 146,1175.4 147,1175.4 148,1175.4 149,1175.4 150,1175.3 151,1175.3 152,1175.3 153,1175.3 154,1175.3 155,1175.3 156,1175.3 157,1175.3 158,1175.3 159,1175.3 160,1175.3 161,1175.2 162,1174 163,1170.1 164,1163.5 165,1155.3 166,1146.1 167,1136.8 168,1127.7 169,1119.4 170,1112.3 171,1106.7 172,1102.9 173,1101 174,1101.3 175,1103.5 176,1107.7 177,1113.7 178,1121.1 179,1129.7 180,1138.9 181,1148.3 182,1157.3 183,1165.3 184,1171.4 185,1174.7 186,1175.6 187,1175.7 188,1175.7 189,1175.7 190,1175.7 191,1175.7 192,1175.7 193,1175.7 194,1175.7 195,1175.7 196,1175.7 197,1175.7 198,1175.7 199,1175.7 200,1175.7 201,1175.6 202,1175.6 203,1175.6 204,1175.6 205,1175.6 206,1175.6 207,1175.5 208,1175.5 209,1175.5 210,1175.5 211,1175.5 212,1175.5 213,1175.4 214,1175.4 215,1175.4 216,1175.4 217,1175.4 218,1175.4 219,1175.3 220,1175.3 221,1175.3 222,1175.3 223,1175.3 224,1175.3 225,1175.3 226,1175.3 227,1175.3 228,1175.3 229,1175.3 230,1175.3 231,1175.3 232,1175.3 233,1175.3 234,1175.3 235,1175.4 236,1175.4 237,1175.4 238,1175.4 239,1175.4 240,1175.4 241,1175.4 242,1175.5 243,1175.5 244,1175.5 245,1175.5 246,1175.5 247,1175.5 248,1175.6 249,1175.6 250,1175.6 251,1175.6 252,1175.6 253,1175.6 254,1175.7 255,1175.7 256,1175.7 257,1175.7 258,1175.7 259,1175.7 260,1175.7 261,1175.7 262,1175.7 263,1175.7 264,1175.7 265,1175.7 266,1175.7 267,1175.7 268,1175.7 269,1175.7 270,1175.6 271,1175.6 272,1175.6 273,1175.6 274,1175.6 275,1175.6 276,1175.6 277,1175.5 278,1175.5 279,1175.5 280,1175.5 281,1175.5 282,1175.5 283,1175.4 284,1175.4 285,1175.4 286,1175.4 287,1175.4 288,1175.4 289,1175.3 290,1175.3 291,1175.3 292,1175.3 293,1175.3 294,1175.3 295,1175.3 296,1175.3 297,1175.3 298,1175.3 299,1175.3 300,1175.3 301,1175.3 302,1175.3 303,1175.3 304,1175.3 305,1175.4 306,1175.4 307,1175.4 308,1175.4 309,1175.4 310,1175.4 311,1175.4 312,1175.5 313,1175.5 314,1175.5 315,1175.5 316,1175.5 317,1175.6 318,1175.6 319,1175.6 320,1175.6 321,1175.2 322,1173.1 323,1167.7 324,1159.5 325,1149.7 326,1139.1 327,1128.3 328,1118 329,1108.7 330,1100.7 331,1094.6 332,1090.5 333,1088.6 334,1089.1 335,1091.8 336,1096.8 337,1103.7 338,1112.2 339,1122 340,1132.6 341,1143.1 342,1152.3 343,1158.5 344,1161 345,1159.5 346,1154.6 347,1148.6 348,1142.7 349,1137.4 350,1132.8 351,1129.3 352,1127 353,1125.9 354,1126.1 355,1127.7 356,1130.5 357,1134.4 358,1139.3 359,1144.8 360,1150.8 361,1157 362,1162.9 363,1168.1 364,1172.3 365,1174.6 366,1175.2 367,1175.3 368,1175.3 369,1175.3 370,1175.3 371,1175.3 372,1175.3 373,1175.3 374,1175.3 375,1175.4 376,1175.4 377,1175.4 378,1175.4 379,1175.4 380,1175.4 381,1175.4 382,1175.5 383,1175.5 384,1175.5 385,1175.5 386,1175.5 387,1175.6 388,1175.6 389,1175.6 390,1175.6 391,1175.6 392,1175.6 393,1175.6 394,1175.7 395,1175.7 396,1175.7 397,1175.7 398,1175.7 399,1175.7 400,1175.7 401,1175.7 402,1175.7 403,1175.7 404,1175.7 405,1175.7 406,1175.7 407,1175.7 408,1175.7 409,1175.7 410,1175.6 411,1175.6 412,1175.6 413,1175.6 414,1175.6 415,1175.6 416,1175.6 417,1175.5 418,1175.5 419,1175.5 420,1175.5 421,1175.5 422,1175.4 423,1175.4 424,1175.4 425,1175.3 426,1173.7 427,1167.4 428,1155.4 429,1140.8 430,1125.7 431,1111.1 432,1097.3 433,1084.9 434,1074.2 435,1065.5 436,1059.1 437,1055 438,1053.5 439,1054.5 440,1058.1 441,1064.1 442,1072.4 443,1082.7 444,1094.8 445,1108.3 446,1122.8 447,1137.8 448,1152.6 449,1165.4 450,1173.1 451,1175.3 452,1175.5 453,1175.5 454,1175.5 455,1175.5 456,1175.5 457,1175.6 458,1175.6 459,1175.6 460,1175.6 461,1175.6 462,1175.6 463,1175.6 464,1175.7 465,1175.7 466,1175.7 467,1175.7 468,1175.7 469,1175.7 470,1175.7 471,1175.7 472,1175.7 473,1175.7 474,1175.7 475,1175.7 476,1175.7 477,1175.7 478,1175.7 479,1175.7 480,1175.6 481,1175.6 482,1175.6 483,1175.6 484,1175.6 485,1175.6 486,1175.5 487,1175.5 488,1175.5 489,1175.5 490,1175.5 491,1175.5 492,1175.4 493,1175.4 494,1175.4 495,1175.4 496,1175.4 497,1175.4 498,1175.4 499,1175.3 500,1175.3 501,1175.3 502,1175.3 503,1175.3 504,1175.3 505,1175.3 506,1175.3 507,1175.3 508,1175.3 509,1175.3 510,1175.3 511,1175.3 512,1175.3 513,1175.3 514,1175.1 515,1173.7 516,1169.2 517,1161.9 518,1152.9 519,1143.1 520,1133.1 521,1123.4 522,1114.7 523,1107.2 524,1101.4 525,1097.5 526,1095.7 527,1096.2 528,1098.8 529,1103.6 530,1110.1 531,1118.2 532,1127.4 533,1137.3 534,1147.4 535,1156.9 536,1165.4 537,1171.6 538,1174.8 539,1175.6 540,1175.7 541,1175.7 542,1175.7 543,1175.7 544,1175.7 545,1175.7 546,1175.7 547,1175.7 548,1175.7 549,1175.7 550,1175.6 551,1175.6 552,1175.6 553,1175.6 554,1175.6 555,1175.6 556,1175.5 557,1175.5 558,1175.5 559,1175.5 560,1175.5 561,1175.5 562,1175.4 563,1175.4 564,1175.4 565,1175.4 566,1175.4 567,1175.4 568,1175.3 569,1175.3 570,1175.3 571,1175.3 572,1175.3 573,1175.3 574,1175.3 575,1175.3 576,1175.3 577,1175.3 578,1175.3 579,1175.3 580,1175.3 581,1175.3 582,1175.3 583,1175.3 584,1175.4 585,1175.4 586,1175.4 587,1175.4 588,1175.4 589,1175.4 590,1175.4 591,1175.5 592,1175.5 593,1175.5 594,1175.5 595,1175.5 596,1175.5 597,1175.6 598,1175.6 599,1175.6 600,1175.6 601,1175.4 602,1173.8 603,1169.5 604,1162.7 605,1154.4 606,1145.2 607,1135.8 608,1126.6 609,1117.9 610,1110.3 611,1103.9 612,1099.1 613,1096.1 614,1094.9 615,1095.7 616,1098.3 617,1102.8 618,1108.8 619,1116.2 620,1124.7 621,1133.9 622,1143.2 623,1151.5 624,1156.8 625,1157.8 626,1154.7 627,1147.5 628,1138.2 629,1128.6 630,1119.4 631,1111 632,1103.8 633,1098.2 634,1094.3 635,1092.3 636,1092.3 637,1094.3 638,1098.1 639,1103.7 640,1110.9 641,1119.2 642,1128.4 643,1138.1 644,1147.7 645,1156.9 646,1165 647,1171.1 648,1174.4 649,1175.2 650,1175.3 651,1175.3 652,1175.3 653,1175.3 654,1175.4 655,1175.4 656,1175.4 657,1175.4 658,1175.4 659,1175.4 660,1175.4 661,1175.5 662,1175.5 663,1175.5 664,1175.5 665,1175.5 666,1175.4 667,1173.1 668,1164.5 669,1149.2 670,1131.7 671,1114.5 672,1098.2 673,1083.4 674,1070.3 675,1059.3 676,1050.6 677,1044.4 678,1040.9 679,1040 680,1042 681,1046.6 682,1053.8 683,1063.5 684,1075.3 685,1089.2 686,1104.6 687,1121.3 688,1138.8 689,1156.2 690,1169.7 691,1174.9 692,1175.6 693,1175.6 694,1175.6 695,1175.6 696,1175.5 697,1175.5 698,1175.5 699,1175.5 700,1175.5 701,1175.4 702,1175.4 703,1175.4 704,1175.4 705,1175.4 706,1175.4 707,1175.4 708,1175.3 709,1175.3 710,1175.3 711,1175.2 712,1173.8 713,1168.7 714,1159.8 715,1148.4 716,1135.8 717,1122.7 718,1110 719,1098.3 720,1088.3 721,1080.4 722,1075.1 723,1072.5 724,1072.8 725,1075.9 726,1081.9 727,1090.2 728,1100.6 729,1112.6 730,1125.4 731,1138.5 732,1151 733,1162 734,1170.2 735,1174.4 736,1175.5 737,1175.6 738,1175.6 739,1175.6 740,1175.6 741,1175.6 742,1175.6 743,1175.7 744,1175.7 745,1175.7 746,1175.7 747,1175.7 748,1175.7 749,1175.7 750,1175.7 751,1175.7 752,1175.7 753,1175.7 754,1175.7 755,1175.7 756,1175.7 757,1175.7 758,1175.7 759,1175.6 760,1175.6 761,1175.6 762,1175.6 763,1175.6 764,1175.6 765,1175.6 766,1175.5 767,1175.5 768,1175.5 769,1175.5 770,1175.5 771,1175.4 772,1175.4 773,1175.4 774,1175.4 775,1175.4 776,1175.4 777,1175.4 778,1175.3 779,1175.3 780,1175.3 781,1175.3 782,1175.3 783,1175.3 784,1175.3 785,1175.3 786,1175.3 787,1175.3 788,1175.3 789,1175.3 790,1175.3 791,1175.3 792,1175.3 793,1175.3 794,1175.4 795,1175.4 796,1175.4 797,1175.4 798,1175.4 799,1175.4 800,1175.4 801,1175.5 802,1175.5 803,1175.5 804,1175.5 805,1175.5 806,1175.6 807,1175.6 808,1175.6 809,1175.6 810,1175.6 811,1175.6 812,1175.6 813,1175.7 814,1175.7 815,1175.7 816,1175.7 817,1175.7 818,1175.7 819,1175.7 820,1175.7 821,1175.7 822,1175.7 823,1175.7 824,1175.7 825,1175.7 826,1175.7 827,1175.7 828,1175.7 829,1175.6 830,1175.6 831,1175.6 832,1175.6 833,1175.6 834,1175.6 835,1175.5 836,1175.5 837,1175.5 838,1175.5 839,1175.5 840,1175.5 841,1175.4 842,1175.4 843,1175.4 844,1175.4 845,1175.4 846,1175.4 847,1175.4 848,1175.3 849,1175.3 850,1175.3 851,1175.3 852,1175.3 853,1175.3 854,1175.3 855,1175.3 856,1175.3 857,1175.3 858,1175.3 859,1175.3 860,1175.3 861,1175.3 862,1175.3 863,1175.3 864,1175.4 865,1175.4 866,1175.4 867,1175.4 868,1175.4 869,1175.4 870,1175.5 871,1175.5 872,1175.5 873,1175.5 874,1175.5 875,1175.5 876,1175.6 877,1175.6 878,1175.6 879,1175.6 880,1175.6 881,1175.6 882,1175.6 883,1175.7 884,1175.7 885,1175.7 886,1175.7 887,1175.7 888,1175.2 889,1173 890,1167.7 891,1160 892,1150.8 893,1141 894,1131.2 895,1122 896,1113.6 897,1106.7 898,1101.5 899,1098.3 900,1097.2 901,1098.3 902,1101.5 903,1106.6 904,1113.5 905,1121.8 906,1131.1 907,1140.9 908,1150.6 909,1159.7 910,1167.5 911,1172.7 912,1174.9 913,1175.4 914,1175.4 915,1175.4 916,1175.4 917,1175.3 918,1175.3 919,1175.3 920,1175.3 921,1175.3 922,1175.3 923,1175.3 924,1175.3 925,1175.3 926,1175.3 927,1175.3 928,1175.3 929,1175.3 930,1175.3 931,1175.3 932,1175.3 933,1175.3 934,1175.4 935,1175.4 936,1175.4 937,1175.4 938,1175.4 939,1175.4 940,1175.5 941,1175.5 942,1175.5 943,1175.5 944,1175.5 945,1175.5 946,1175.6 947,1175.6 948,1175.6 949,1175.6 950,1175.6 951,1175.6 952,1175.7 953,1175.7 954,1175.7 955,1175.7 956,1175.7 957,1175.7 958,1175.7 959,1175.7 960,1175.7 961,1175.7 962,1175.7 963,1175.7 964,1175.7 965,1175.7 966,1175.7 967,1175.7 968,1175.6 969,1175.6 970,1175.6 971,1175.6 972,1175.5 973,1174.9 974,1172.1 975,1166 976,1157.2 977,1147 978,1136.2 979,1125.4 980,1115.2 981,1106.2 982,1098.7 983,1093.2 984,1089.8 985,1088.9 986,1090.3 987,1094 988,1100 989,1107.7 990,1117 991,1127.3 992,1138.2 993,1148.9 994,1158.9 995,1167.2 996,1172.7 997,1174.9 998,1175.3 999,1175.3 1000,1175.3 1001,1175.3 1002,1175.3 1003,1175.4 1004,1175.4 1005,1175.4 1006,1175.4 1007,1175.4 1008,1175.4 1009,1175.4 1010,1175.5 1011,1175.5 1012,1175.5 1013,1175.5 1014,1175.5 1015,1175.5 1016,1175.6 1017,1175.6 1018,1175.6 1019,1175.6 1020,1175.6 1021,1175.6 1022,1175.7 1023,1175.7 1024,1175.7 1025,1175.7 1026,1175.7 1027,1175.7 1028,1175.7 1029,1175.7 1030,1175.7 1031,1175.7 1032,1175.7 1033,1175.7 1034,1175.7 1035,1175.7 1036,1175.7 1037,1175.7 1038,1175.6 1039,1175.6 1040,1175.6 1041,1175.6 1042,1175.6 1043,1175.6 1044,1175.6 1045,1175.5 1046,1175.5 1047,1175.5 1048,1175.5 1049,1175.5 1050,1175.5 1051,1175.4 1052,1175.4 1053,1175.4 1054,1175.4 1055,1175.4 1056,1175.4 1057,1175.3 1058,1175.3 1059,1175.3 1060,1175.3 1061,1175.3 1062,1175.3 1063,1175.3 L1063,1175.8 L65,1175.8 Z" fill="#2cc42c" fill-opacity="0.14" stroke="none"/>
<path d="M65,1175.6 66,1175.6 67,1175.6 68,1175.5 69,1175.5 70,1175.5 71,1175.5 72,1175.5 73,1175.4 74,1175.4 75,1175.4 76,1175.4 77,1175.4 78,1175.4 79,1175.4 80,1175.3 81,1175.3 82,1175.3 83,1175.3 84,1175.3 85,1175.3 86,1175.3 87,1175.3 88,1175.3 89,1175.3 90,1175.3 91,1175.3 92,1175.2 93,1174.4 94,1171.5 95,1166.8 96,1160.8 97,1154.2 98,1147.4 99,1140.8 100,1134.8 101,1129.6 102,1125.6 103,1122.8 104,1121.5 105,1121.7 106,1123.3 107,1126.4 108,1130.7 109,1136.1 110,1142.3 111,1149 112,1155.8 113,1162.3 114,1168.1 115,1172.6 116,1175 117,1175.6 118,1175.7 119,1175.7 120,1175.7 121,1175.7 122,1175.7 123,1175.7 124,1175.7 125,1175.7 126,1175.7 127,1175.7 128,1175.7 129,1175.7 130,1175.7 131,1175.6 132,1175.6 133,1175.6 134,1175.6 135,1175.6 136,1175.6 137,1175.5 138,1175.5 139,1175.5 140,1175.5 141,1175.5 142,1175.5 143,1175.4 144,1175.4 145,1175.4 146,1175.4 147,1175.4 148,1175.4 149,1175.4 150,1175.3 151,1175.3 152,1175.3 153,1175.3 154,1175.3 155,1175.3 156,1175.3 157,1175.3 158,1175.3 159,1175.3 160,1175.3 161,1175.2 162,1174 163,1170.1 164,1163.5 165,1155.3 166,1146.1 167,1136.8 168,1127.7 169,1119.4 170,1112.3 171,1106.7 172,1102.9 173,1101 174,1101.3 175,1103.5 176,1107.7 177,1113.7 178,1121.1 179,1129.7 180,1138.9 181,1148.3 182,1157.3 183,1165.3 184,1171.4 185,1174.7 186,1175.6 187,1175.7 188,1175.7 189,1175.7 190,1175.7 191,1175.7 192,1175.7 193,1175.7 194,1175.7 195,1175.7 196,1175.7 197,1175.7 198,1175.7 199,1175.7 200,1175.7 201,1175.6 202,1175.6 203,1175.6 204,1175.6 205,1175.6 206,1175.6 207,1175.5 208,1175.5 209,1175.5 210,1175.5 211,1175.5 212,1175.5 213,1175.4 214,1175.4 215,1175.4 216,1175.4 217,1175.4 218,1175.4 219,1175.3 220,1175.3 221,1175.3 222,1175.3 223,1175.3 224,1175.3 225,1175.3 226,1175.3 227,1175.3 228,1175.3 229,1175.3 230,1175.3 231,1175.3 232,1175.3 233,1175.3 234,1175.3 235,1175.4 236,1175.4 237,1175.4 238,1175.4 239,1175.4 240,1175.4 241,1175.4 242,1175.5 243,1175.5 244,1175.5 245,1175.5 246,1175.5 247,1175.5 248,1175.6 249,1175.6 250,1175.6 251,1175.6 252,1175.6 253,1175.6 254,1175.7 255,1175.7 256,1175.7 257,1175.7 258,1175.7 259,1175.7 260,1175.7 261,1175.7 262,1175.7 263,1175.7 264,1175.7 265,1175.7 266,1175.7 267,1175.7 268,1175.7 269,1175.7 270,1175.6 271,1175.6 272,1175.6 273,1175.6 274,1175.6 275,1175.6 276,1175.6 277,1175.5 278,1175.5 279,1175.5 280,1175.5 281,1175.5 282,1175.5 283,1175.4 284,1175.4 285,1175.4 286,1175.4 287,1175.4 288,1175.4 289,1175.3 290,1175.3 291,1175.3 292,1175.3 293,1175.3 294,1175.3 295,1175.3 296,1175.3 297,1175.3 298,1175.3 299,1175.3 300,1175.3 301,1175.3 302,1175.3 303,1175.3 304,1175.3 305,1175.4 306,1175.4 307,1175.4 308,1175.4 309,1175.4 310,1175.4 311,1175.4 312,1175.5 313,1175.5 314,1175.5 315,1175.5 316,1175.5 317,1175.6 318,1175.6 319,1175.6 320,1175.6 321,1175.2 322,1173.1 323,1167.7 324,1159.5 325,1149.7 326,1139.1 327,1128.3 328,1118 329,1108.7 330,1100.7 331,1094.6 332,1090.5 333,1088.6 334,1089.1 335,1091.8 336,1096.8 337,1103.7 338,1112.2 339,1122 340,1132.6 341,1143.1 342,1152.3 343,1158.5 344,1161 345,1159.5 346,1154.6 347,1148.6 348,1142.7 349,1137.4 350,1132.8 351,1129.3 352,1127 353,1125.9 354,1126.1 355,1127.7 356,1130.5 357,1134.4 358,1139.3 359,1144.8 360,1150.8 361,1157 362,1162.9 363,1168.1 364,1172.3 365,1174.6 366,1175.2 367,1175.3 368,1175.3 369,1175.3 370,1175.3 371,1175.3 372,1175.3 373,1175.3 374,1175.3 375,1175.4 376,1175.4 377,1175.4 378,1175.4 379,1175.4 380,1175.4 381,1175.4 382,1175.5 383,1175.5 384,1175.5 385,1175.5 386,1175.5 387,1175.6 388,1175.6 389,1175.6 390,1175.6 391,1175.6 392,1175.6 393,1175.6 394,1175.7 395,1175.7 396,1175.7 397,1175.7 398,1175.7 399,1175.7 400,1175.7 401,1175.7 402,1175.7 403,1175.7 404,1175.7 405,1175.7 406,1175.7 407,1175.7 408,1175.7 409,1175.7 410,1175.6 411,1175.6 412,1175.6 413,1175.6 414,1175.6 415,1175.6 416,1175.6 417,1175.5 418,1175.5 419,1175.5 420,1175.5 421,1175.5 422,1175.4 423,1175.4 424,1175.4 425,1175.3 426,1173.7 427,1167.4 428,1155.4 429,1140.8 430,1125.7 431,1111.1 432,1097.3 433,1084.9 434,1074.2 435,1065.5 436,1059.1 437,1055 438,1053.5 439,1054.5 440,1058.1 441,1064.1 442,1072.4 443,1082.7 444,1094.8 445,1108.3 446,1122.8 447,1137.8 448,1152.6 449,1165.4 450,1173.1 451,1175.3 452,1175.5 453,1175.5 454,1175.5 455,1175.5 456,1175.5 457,1175.6 458,1175.6 459,1175.6 460,1175.6 461,1175.6 462,1175.6 463,1175.6 464,1175.7 465,1175.7 466,1175.7 467,1175.7 468,1175.7 469,1175.7 470,1175.7 471,1175.7 472,1175.7 473,1175.7 474,1175.7 475,1175.7 476,1175.7 477,1175.7 478,1175.7 479,1175.7 480,1175.6 481,1175.6 482,1175.6 483,1175.6 484,1175.6 485,1175.6 486,1175.5 487,1175.5 488,1175.5 489,1175.5 490,1175.5 491,1175.5 492,1175.4 493,1175.4 494,1175.4 495,1175.4 496,1175.4 497,1175.4 498,1175.4 499,1175.3 500,1175.3 501,1175.3 502,1175.3 503,1175.3 504,1175.3 505,1175.3 506,1175.3 507,1175.3 508,1175.3 509,1175.3 510,1175.3 511,1175.3 512,1175.3 513,1175.3 514,1175.1 515,1173.7 516,1169.2 517,1161.9 518,1152.9 519,1143.1 520,1133.1 521,1123.4 522,1114.7 523,1107.2 524,1101.4 525,1097.5 526,1095.7 527,1096.2 528,1098.8 529,1103.6 530,1110.1 531,1118.2 532,1127.4 533,1137.3 534,1147.4 535,1156.9 536,1165.4 537,1171.6 538,1174.8 539,1175.6 540,1175.7 541,1175.7 542,1175.7 543,1175.7 544,1175.7 545,1175.7 546,1175.7 547,1175.7 548,1175.7 549,1175.7 550,1175.6 551,1175.6 552,1175.6 553,1175.6 554,1175.6 555,1175.6 556,1175.5 557,1175.5 558,1175.5 559,1175.5 560,1175.5 561,1175.5 562,1175.4 563,1175.4 564,1175.4 565,1175.4 566,1175.4 567,1175.4 568,1175.3 569,1175.3 570,1175.3 571,1175.3 572,1175.3 573,1175.3 574,1175.3 575,1175.3 576,1175.3 577,1175.3 578,1175.3 579,1175.3 580,1175.3 581,1175.3 582,1175.3 583,1175.3 584,1175.4 585,1175.4 586,1175.4 587,1175.4 588,1175.4 589,1175.4 590,1175.4 591,1175.5 592,1175.5 593,1175.5 594,1175.5 595,1175.5 596,1175.5 597,1175.6 598,1175.6 599,1175.6 600,1175.6 601,1175.4 602,1173.8 603,1169.5 604,1162.7 605,1154.4 606,1145.2 607,1135.8 608,1126.6 609,1117.9 610,1110.3 611,1103.9 612,1099.1 613,1096.1 614,1094.9 615,1095.7 616,1098.3 617,1102.8 618,1108.8 619,1116.2 620,1124.7 621,1133.9 622,1143.2 623,1151.5 624,1156.8 625,1157.8 626,1154.7 627,1147.5 628,1138.2 629,1128.6 630,1119.4 631,1111 632,1103.8 633,1098.2 634,1094.3 635,1092.3 636,1092.3 637,1094.3 638,1098.1 639,1103.7 640,1110.9 641,1119.2 642,1128.4 643,1138.1 644,1147.7 645,1156.9 646,1165 647,1171.1 648,1174.4 649,1175.2 650,1175.3 651,1175.3 652,1175.3 653,1175.3 654,1175.4 655,1175.4 656,1175.4 657,1175.4 658,1175.4 659,1175.4 660,1175.4 661,1175.5 662,1175.5 663,1175.5 664,1175.5 665,1175.5 666,1175.4 667,1173.1 668,1164.5 669,1149.2 670,1131.7 671,1114.5 672,1098.2 673,1083.4 674,1070.3 675,1059.3 676,1050.6 677,1044.4 678,1040.9 679,1040 680,1042 681,1046.6 682,1053.8 683,1063.5 684,1075.3 685,1089.2 686,1104.6 687,1121.3 688,1138.8 689,1156.2 690,1169.7 691,1174.9 692,1175.6 693,1175.6 694,1175.6 695,1175.6 696,1175.5 697,1175.5 698,1175.5 699,1175.5 700,1175.5 701,1175.4 702,1175.4 703,1175.4 704,1175.4 705,1175.4 706,1175.4 707,1175.4 708,1175.3 709,1175.3 710,1175.3 711,1175.2 712,1173.8 713,1168.7 714,1159.8 715,1148.4 716,1135.8 717,1122.7 718,1110 719,1098.3 720,1088.3 721,1080.4 722,1075.1 723,1072.5 724,1072.8 725,1075.9 726,1081.9 727,1090.2 728,1100.6 729,1112.6 730,1125.4 731,1138.5 732,1151 733,1162 734,1170.2 735,1174.4 736,1175.5 737,1175.6 738,1175.6 739,1175.6 740,1175.6 741,1175.6 742,1175.6 743,1175.7 744,1175.7 745,1175.7 746,1175.7 747,1175.7 748,1175.7 749,1175.7 750,1175.7 751,1175.7 752,1175.7 753,1175.7 754,1175.7 755,1175.7 756,1175.7 757,1175.7 758,1175.7 759,1175.6 760,1175.6 761,1175.6 762,1175.6 763,1175.6 764,1175.6 765,1175.6 766,1175.5 767,1175.5 768,1175.5 769,1175.5 770,1175.5 771,1175.4 772,1175.4 773,1175.4 774,1175.4 775,1175.4 776,1175.4 777,1175.4 778,1175.3 779,1175.3 780,1175.3 781,1175.3 782,1175.3 783,1175.3 784,1175.3 785,1175.3 786,1175.3 787,1175.3 788,1175.3 789,1175.3 790,1175.3 791,1175.3 792,1175.3 793,1175.3 794,1175.4 795,1175.4 796,1175.4 797,1175.4 798,1175.4 799,1175.4 800,1175.4 801,1175.5 802,1175.5 803,1175.5 804,1175.5 805,1175.5 806,1175.6 807,1175.6 808,1175.6 809,1175.6 810,1175.6 811,1175.6 812,1175.6 813,1175.7 814,1175.7 815,1175.7 816,1175.7 817,1175.7 818,1175.7 819,1175.7 820,1175.7 821,1175.7 822,1175.7 823,1175.7 824,1175.7 825,1175.7 826,1175.7 827,1175.7 828,1175.7 829,1175.6 830,1175.6 831,1175.6 832,1175.6 833,1175.6 834,1175.6 835,1175.5 836,1175.5 837,1175.5 838,1175.5 839,1175.5 840,1175.5 841,1175.4 842,1175.4 843,1175.4 844,1175.4 845,1175.4 846,1175.4 847,1175.4 848,1175.3 849,1175.3 850,1175.3 851,1175.3 852,1175.3 853,1175.3 854,1175.3 855,1175.3 856,1175.3 857,1175.3 858,1175.3 859,1175.3 860,1175.3 861,1175.3 862,1175.3 863,1175.3 864,1175.4 865,1175.4 866,1175.4 867,1175.4 868,1175.4 869,1175.4 870,1175.5 871,1175.5 872,1175.5 873,1175.5 874,1175.5 875,1175.5 876,1175.6 877,1175.6 878,1175.6 879,1175.6 880,1175.6 881,1175.6 882,1175.6 883,1175.7 884,1175.7 885,1175.7 886,1175.7 887,1175.7 888,1175.2 889,1173 890,1167.7 891,1160 892,1150.8 893,1141 894,1131.2 895,1122 896,1113.6 897,1106.7 898,1101.5 899,1098.3 900,1097.2 901,1098.3 902,1101.5 903,1106.6 904,1113.5 905,1121.8 906,1131.1 907,1140.9 908,1150.6 909,1159.7 910,1167.5 911,1172.7 912,1174.9 913,1175.4 914,1175.4 915,1175.4 916,1175.4 917,1175.3 918,1175.3 919,1175.3 920,1175.3 921,1175.3 922,1175.3 923,1175.3 924,1175.3 925,1175.3 926,1175.3 927,1175.3 928,1175.3 929,1175.3 930,1175.3 931,1175.3 932,1175.3 933,1175.3 934,1175.4 935,1175.4 936,1175.4 937,1175.4 938,1175.4 939,1175.4 940,1175.5 941,1175.5 942,1175.5 943,1175.5 944,1175.5 945,1175.5 946,1175.6 947,1175.6 948,1175.6 949,1175.6 950,1175.6 951,1175.6 952,1175.7 953,1175.7 954,1175.7 955,1175.7 956,1175.7 957,1175.7 958,1175.7 959,1175.7 960,1175.7 961,1175.7 962,1175.7 963,1175.7 964,1175.7 965,1175.7 966,1175.7 967,1175.7 968,1175.6 969,1175.6 970,1175.6 971,1175.6 972,1175.5 973,1174.9 974,1172.1 975,1166 976,1157.2 977,1147 978,1136.2 979,1125.4 980,1115.2 981,1106.2 982,1098.7 983,1093.2 984,1089.8 985,1088.9 986,1090.3 987,1094 988,1100 989,1107.7 990,1117 991,1127.3 992,1138.2 993,1148.9 994,1158.9 995,1167.2 996,1172.7 997,1174.9 998,1175.3 999,1175.3 1000,1175.3 1001,1175.3 1002,1175.3 1003,1175.4 1004,1175.4 1005,1175.4 1006,1175.4 1007,1175.4 1008,1175.4 1009,1175.4 1010,1175.5 1011,1175.5 1012,1175.5 1013,1175.5 1014,1175.5 1015,1175.5 1016,1175.6 1017,1175.6 1018,1175.6 1019,1175.6 1020,1175.6 1021,1175.6 1022,1175.7 1023,1175.7 1024,1175.7 1025,1175.7 1026,1175.7 1027,1175.7 1028,1175.7 1029,1175.7 1030,1175.7 1031,1175.7 1032,1175.7 1033,1175.7 1034,1175.7 1035,1175.7 1036,1175.7 1037,1175.7 1038,1175.6 1039,1175.6 1040,1175.6 1041,1175.6 1042,1175.6 1043,1175.6 1044,1175.6 1045,1175.5 1046,1175.5 1047,1175.5 1048,1175.5 1049,1175.5 1050,1175.5 1051,1175.4 1052,1175.4 1053,1175.4 1054,1175.4 1055,1175.4 1056,1175.4 1057,1175.3 1058,1175.3 1059,1175.3 1060,1175.3 1061,1175.3 1062,1175.3 1063,1175.3" fill="none" stroke="#2cc42c" stroke-width="2.8" stroke-linejoin="round"/>
<path d="M65,1175.2 66,1175.2 67,1175.2 68,1175.2 69,1175.2 70,1175.2 71,1175.2 72,1175.2 73,1175.2 74,1175.2 75,1175.2 76,1175.3 77,1175.3 78,1175.3 79,1175.3 80,1175.3 81,1175.3 82,1175.4 83,1175.4 84,1175.4 85,1175.4 86,1175.4 87,1175.5 88,1175.5 89,1175.5 90,1175.5 91,1175.5 92,1175.6 93,1175.6 94,1175.6 95,1175.6 96,1175.6 97,1175.6 98,1175.7 99,1175.7 100,1175.7 101,1175.7 102,1175.7 103,1175.7 104,1175.7 105,1175.7 106,1175.7 107,1175.7 108,1175.7 109,1175.6 110,1175.6 111,1175.6 112,1175.6 113,1175.6 114,1175.6 115,1175.6 116,1175.5 117,1175.5 118,1175.5 119,1175.5 120,1175.5 121,1175.4 122,1175.4 123,1175.4 124,1175.4 125,1175.4 126,1175.3 127,1175.3 128,1175.3 129,1175.3 130,1175.3 131,1175.2 132,1175.2 133,1175.2 134,1175.2 135,1175.2 136,1175.2 137,1175.2 138,1175.2 139,1175.2 140,1175.2 141,1175.2 142,1175.2 143,1175.2 144,1175.2 145,1175.2 146,1175.3 147,1175.3 148,1175.3 149,1175.3 150,1175.3 151,1175.3 152,1175.4 153,1175.4 154,1175.4 155,1175.4 156,1175.4 157,1175.5 158,1175.5 159,1175.5 160,1175.5 161,1175.6 162,1175.6 163,1175.6 164,1175.6 165,1175.6 166,1175.6 167,1175.6 168,1175.7 169,1175.7 170,1175.7 171,1175.7 172,1175.7 173,1175.7 174,1175.7 175,1175.7 176,1175.7 177,1175.7 178,1175.7 179,1175.6 180,1175.6 181,1175.6 182,1175.6 183,1175.6 184,1175.6 185,1175.6 186,1175.5 187,1175.5 188,1175.5 189,1175.5 190,1175.5 191,1175.4 192,1175.4 193,1175.4 194,1175.4 195,1175.3 196,1175.3 197,1175.3 198,1175.3 199,1175.3 200,1175.3 201,1175.2 202,1175.2 203,1175.2 204,1175.2 205,1174.7 206,1172.6 207,1167.4 208,1159.9 209,1150.9 210,1141.2 211,1131.4 212,1121.9 213,1113.3 214,1105.8 215,1099.9 216,1095.7 217,1093.4 218,1093.2 219,1095.1 220,1098.9 221,1104.6 222,1111.8 223,1120.3 224,1129.7 225,1139.5 226,1149.2 227,1158.3 228,1165.3 229,1167.9 230,1165.4 231,1159.4 232,1152 233,1144.3 234,1136.8 235,1129.7 236,1123.5 237,1118.3 238,1114.4 239,1112.1 240,1111.3 241,1112.1 242,1114.5 243,1118.3 244,1123.5 245,1129.8 246,1136.8 247,1144.4 248,1152.1 249,1159.5 250,1166.2 251,1171.4 252,1174.6 253,1175.5 254,1175.6 255,1175.6 256,1175.5 257,1175.5 258,1175.5 259,1175.5 260,1175.4 261,1175.4 262,1175.4 263,1175.4 264,1175.4 265,1175.3 266,1175.3 267,1175.3 268,1175.3 269,1175.3 270,1175.3 271,1175.2 272,1175.2 273,1175.2 274,1175.2 275,1175.2 276,1175.2 277,1175.2 278,1175.2 279,1175.2 280,1175.2 281,1175.2 282,1175.2 283,1175.2 284,1175.2 285,1175.2 286,1175.3 287,1175.3 288,1175.3 289,1175.3 290,1175.3 291,1175.4 292,1175.4 293,1175.4 294,1175.4 295,1175.4 296,1175.5 297,1175.5 298,1175.5 299,1175.5 300,1175.5 301,1175.6 302,1175.6 303,1175.6 304,1175.6 305,1175.6 306,1175.6 307,1175.6 308,1175.7 309,1175.7 310,1175.7 311,1175.7 312,1175.7 313,1175.7 314,1175.7 315,1175.7 316,1175.7 317,1175.7 318,1175.7 319,1175.6 320,1175.6 321,1175.6 322,1175.6 323,1175.6 324,1175.6 325,1175.5 326,1175.5 327,1175.5 328,1175.5 329,1175.5 330,1175.4 331,1175.4 332,1175.4 333,1175.4 334,1175.4 335,1175.3 336,1175.3 337,1175.3 338,1175.3 339,1175.3 340,1175.3 341,1175.2 342,1175.2 343,1175.2 344,1175.2 345,1175.2 346,1175.2 347,1175.2 348,1175.2 349,1175.2 350,1175.2 351,1175.2 352,1175.2 353,1175.2 354,1175.2 355,1175.3 356,1175.3 357,1175.3 358,1175.3 359,1175.3 360,1175.3 361,1174.3 362,1170.8 363,1164.7 364,1156.9 365,1148.3 366,1139.5 367,1131 368,1123.4 369,1117 370,1112.2 371,1109.2 372,1108.2 373,1109.2 374,1112.2 375,1117.1 376,1123.5 377,1131.2 378,1139.7 379,1148.6 380,1157.2 381,1165 382,1171.1 383,1174.6 384,1175.6 385,1175.7 386,1175.7 387,1175.7 388,1175.7 389,1175.6 390,1175.6 391,1175.6 392,1175.6 393,1175.6 394,1175.6 395,1175.5 396,1175.5 397,1175.5 398,1175.5 399,1175.5 400,1175.4 401,1175.4 402,1175.4 403,1175.4 404,1175.4 405,1175.3 406,1175.3 407,1175.3 408,1175.3 409,1175.3 410,1175.3 411,1175.2 412,1175.2 413,1175.2 414,1175.2 415,1175.2 416,1175.2 417,1175.2 418,1175.2 419,1175.2 420,1175.2 421,1175.2 422,1175.2 423,1175.2 424,1175.2 425,1175.3 426,1175.3 427,1175.3 428,1175.3 429,1175.3 430,1175.3 431,1175.4 432,1175.4 433,1175.4 434,1175.4 435,1175.4 436,1175.5 437,1175.5 438,1175.5 439,1175.5 440,1175.5 441,1175.6 442,1175.6 443,1175.6 444,1175.6 445,1175.6 446,1175.6 447,1175.7 448,1175.7 449,1175.7 450,1175.7 451,1175.7 452,1175.7 453,1175.7 454,1175.7 455,1175.7 456,1175.7 457,1175.7 458,1175.6 459,1175.6 460,1175.6 461,1175.6 462,1175.6 463,1175.6 464,1175.6 465,1175.5 466,1175.5 467,1175.5 468,1175.5 469,1175.5 470,1175.4 471,1175.4 472,1175.4 473,1175.4 474,1175.4 475,1175.3 476,1175.3 477,1175.3 478,1175.3 479,1175.3 480,1175.2 481,1175.2 482,1175.2 483,1175.2 484,1175.2 485,1175.2 486,1175.2 487,1175.2 488,1175.2 489,1175.2 490,1175.2 491,1175.2 492,1175.2 493,1175.2 494,1175.2 495,1175.3 496,1175.3 497,1175.3 498,1175.3 499,1175.3 500,1175.3 501,1175.4 502,1175.4 503,1175.4 504,1175.4 505,1175.4 506,1175.5 507,1175.5 508,1175.5 509,1175.5 510,1175.5 511,1175.6 512,1175.6 513,1175.6 514,1175.6 515,1175.6 516,1175.6 517,1175.7 518,1175.7 519,1175.7 520,1175.7 521,1175.7 522,1175.7 523,1175.7 524,1175.7 525,1175.7 526,1175.7 527,1175.7 528,1175.6 529,1175.6 530,1175.6 531,1175.6 532,1175.6 533,1175.6 534,1175.6 535,1175.5 536,1175.5 537,1175.5 538,1175.5 539,1175.5 540,1175.4 541,1175.4 542,1175.4 543,1175.4 544,1175.3 545,1175.3 546,1175.3 547,1175.3 548,1175.3 549,1175.3 550,1175.2 551,1175.2 552,1175.2 553,1175.2 554,1175.2 555,1175.2 556,1175.2 557,1175.2 558,1175.2 559,1175.2 560,1175.2 561,1175.2 562,1175.2 563,1175.2 564,1175.2 565,1175.3 566,1175.3 567,1175.3 568,1175.3 569,1175.3 570,1175.3 571,1175.4 572,1175.4 573,1175.4 574,1175.4 575,1175.5 576,1175.5 577,1175.5 578,1175.5 579,1175.5 580,1175.6 581,1175.6 582,1175.6 583,1175.6 584,1175.6 585,1175.6 586,1175.6 587,1175.7 588,1175.7 589,1175.7 590,1175.7 591,1175.7 592,1175.7 593,1175.7 594,1175.7 595,1175.7 596,1175.7 597,1175.7 598,1175.6 599,1175.6 600,1175.6 601,1175.6 602,1175.6 603,1175.6 604,1175.6 605,1175.5 606,1175.5 607,1175.5 608,1175.5 609,1175.4 610,1175.4 611,1175.4 612,1175.4 613,1175.4 614,1175.3 615,1175.3 616,1175.3 617,1175.3 618,1175.3 619,1175.3 620,1175.2 621,1175.2 622,1175.2 623,1175.2 624,1175.2 625,1175.2 626,1175.2 627,1175.2 628,1175.2 629,1175.2 630,1175.2 631,1175.2 632,1175.2 633,1175.2 634,1175.2 635,1175.3 636,1175.3 637,1175.3 638,1175.3 639,1175.3 640,1175.3 641,1175.4 642,1175.4 643,1175.4 644,1175.4 645,1175.5 646,1175.5 647,1175.5 648,1175.5 649,1175.5 650,1175.6 651,1175.6 652,1175.6 653,1175.6 654,1175.6 655,1175.6 656,1175.6 657,1175.7 658,1175.7 659,1175.7 660,1175.7 661,1175.7 662,1175.7 663,1175.7 664,1175.7 665,1175.7 666,1175.7 667,1175.7 668,1175.6 669,1175.6 670,1175.6 671,1175.6 672,1175.6 673,1175.6 674,1175.5 675,1175.5 676,1175.5 677,1175.5 678,1175.5 679,1175.4 680,1175.4 681,1175.4 682,1175.4 683,1175.4 684,1175.3 685,1175.3 686,1175.3 687,1175.3 688,1175.3 689,1175.3 690,1175.2 691,1175.2 692,1175.2 693,1175.2 694,1175.2 695,1175.2 696,1175.2 697,1175.2 698,1175.2 699,1175.2 700,1175.2 701,1175.2 702,1175.2 703,1175.2 704,1175.3 705,1175.3 706,1175.3 707,1175.3 708,1175.3 709,1175.3 710,1175.4 711,1175.4 712,1175.4 713,1175.4 714,1175.4 715,1175.5 716,1175.5 717,1175.5 718,1175.5 719,1175.5 720,1175.6 721,1175.6 722,1175.6 723,1175.6 724,1175.6 725,1175.6 726,1175.7 727,1175.7 728,1175.7 729,1175.6 730,1174.9 731,1172 732,1166.8 733,1159.9 734,1152.2 735,1144.1 736,1136.2 737,1128.8 738,1122.3 739,1117.1 740,1113.3 741,1111.2 742,1110.9 743,1112.2 744,1115.3 745,1120 746,1125.9 747,1133 748,1140.7 749,1148.7 750,1156.7 751,1163.9 752,1169.3 753,1170.7 754,1167.4 755,1161.3 756,1154.1 757,1146.6 758,1139.1 759,1132.2 760,1126 761,1121 762,1117.4 763,1115.2 764,1114.7 765,1115.9 766,1118.6 767,1122.8 768,1128.3 769,1134.8 770,1142 771,1149.5 772,1157 773,1163.9 774,1169.7 775,1173.5 776,1175 777,1175.3 778,1175.3 779,1175.3 780,1175.4 781,1175.4 782,1175.4 783,1175.4 784,1175.4 785,1175.5 786,1175.5 787,1175.5 788,1175.5 789,1175.5 790,1175.6 791,1175.6 792,1175.6 793,1175.6 794,1175.6 795,1175.6 796,1175.7 797,1175.7 798,1175.7 799,1175.7 800,1175.7 801,1175.7 802,1175.7 803,1175.7 804,1175.7 805,1175.7 806,1175.7 807,1175.7 808,1175.6 809,1175.6 810,1175.6 811,1175.6 812,1175.6 813,1175.6 814,1175.5 815,1175.5 816,1175.5 817,1175.5 818,1175.5 819,1175.4 820,1175.4 821,1175.3 822,1174.3 823,1170.7 824,1163.9 825,1155 826,1145 827,1134.6 828,1124.4 829,1115 830,1106.8 831,1100.2 832,1095.5 833,1093 834,1092.8 835,1094.8 836,1099.1 837,1105.3 838,1113.2 839,1122.4 840,1132.5 841,1142.9 842,1153 843,1162.2 844,1169.5 845,1173.8 846,1175.1 847,1175.3 848,1175.3 849,1175.3 850,1175.4 851,1175.4 852,1175.4 853,1175.4 854,1175.4 855,1175.5 856,1175.5 857,1175.5 858,1175.5 859,1175.5 860,1175.6 861,1175.6 862,1175.6 863,1175.6 864,1175.6 865,1175.6 866,1175.7 867,1175.7 868,1175.7 869,1175.7 870,1175.7 871,1175.7 872,1175.7 873,1175.7 874,1175.7 875,1175.7 876,1175.7 877,1175.6 878,1175.6 879,1175.6 880,1175.6 881,1175.6 882,1175.6 883,1175.6 884,1175.5 885,1175.5 886,1175.5 887,1175.5 888,1175.5 889,1175.4 890,1175.4 891,1175.4 892,1175.4 893,1175.3 894,1175.3 895,1175.3 896,1175.3 897,1175.3 898,1175.3 899,1175.2 900,1175.2 901,1175.2 902,1175.2 903,1175.2 904,1175.2 905,1175.2 906,1175.2 907,1175.1 908,1174.1 909,1170.5 910,1164.2 911,1156.1 912,1147.1 913,1137.8 914,1128.7 915,1120.3 916,1113.1 917,1107.4 918,1103.4 919,1101.4 920,1101.4 921,1103.5 922,1107.5 923,1113.3 924,1120.5 925,1128.9 926,1138 927,1147.4 928,1156.4 929,1164.5 930,1170.9 931,1174.5 932,1175.5 933,1175.6 934,1175.6 935,1175.6 936,1175.7 937,1175.7 938,1175.7 939,1175.7 940,1175.7 941,1175.7 942,1175.7 943,1175.7 944,1175.7 945,1175.7 946,1175.7 947,1175.6 948,1175.6 949,1175.6 950,1175.6 951,1175.6 952,1175.6 953,1175.6 954,1175.5 955,1175.5 956,1175.5 957,1175.5 958,1175.5 959,1175.4 960,1175.4 961,1175.4 962,1175.4 963,1175.3 964,1175.3 965,1175.3 966,1175.3 967,1175.3 968,1175.3 969,1175.2 970,1175.2 971,1175.2 972,1175.2 973,1175.2 974,1175.2 975,1175.2 976,1175.2 977,1175.2 978,1175.2 979,1175.2 980,1175.2 981,1175.2 982,1175.2 983,1175.2 984,1175.3 985,1175.3 986,1175.3 987,1175.3 988,1175.3 989,1175.3 990,1175.4 991,1175.4 992,1175.4 993,1175.4 994,1175.5 995,1175.5 996,1175.5 997,1175.5 998,1175.5 999,1175.6 1000,1175.6 1001,1175.6 1002,1175.6 1003,1175.6 1004,1175.6 1005,1175.6 1006,1175.7 1007,1175.7 1008,1175.7 1009,1175.7 1010,1175.7 1011,1175.7 1012,1175.7 1013,1175.7 1014,1175.7 1015,1175.7 1016,1175.7 1017,1175.6 1018,1175.6 1019,1175.6 1020,1175.6 1021,1175.6 1022,1175.6 1023,1175.6 1024,1175.5 1025,1175.5 1026,1175.5 1027,1175.5 1028,1175.4 1029,1175.4 1030,1175.4 1031,1175.4 1032,1175.4 1033,1175.3 1034,1175.3 1035,1175.3 1036,1175.3 1037,1175.3 1038,1175.3 1039,1175.2 1040,1175.2 1041,1175.2 1042,1175.2 1043,1175.2 1044,1175.2 1045,1175.2 1046,1175.2 1047,1175.2 1048,1175.2 1049,1175.2 1050,1175.2 1051,1175.2 1052,1175.2 1053,1175.2 1054,1175.3 1055,1175.3 1056,1175.3 1057,1175.3 1058,1175.3 1059,1175.4 1060,1175.4 1061,1175.4 1062,1175.4 1063,1175.4 L1063,1175.8 L65,1175.8 Z" fill="#3b63d9" fill-opacity="0.14" stroke="none"/>
<path d="M65,1175.2 66,1175.2 67,1175.2 68,1175.2 69,1175.2 70,1175.2 71,1175.2 72,1175.2 73,1175.2 74,1175.2 75,1175.2 76,1175.3 77,1175.3 78,1175.3 79,1175.3 80,1175.3 81,1175.3 82,1175.4 83,1175.4 84,1175.4 85,1175.4 86,1175.4 87,1175.5 88,1175.5 89,1175.5 90,1175.5 91,1175.5 92,1175.6 93,1175.6 94,1175.6 95,1175.6 96,1175.6 97,1175.6 98,1175.7 99,1175.7 100,1175.7 101,1175.7 102,1175.7 103,1175.7 104,1175.7 105,1175.7 106,1175.7 107,1175.7 108,1175.7 109,1175.6 110,1175.6 111,1175.6 112,1175.6 113,1175.6 114,1175.6 115,1175.6 116,1175.5 117,1175.5 118,1175.5 119,1175.5 120,1175.5 121,1175.4 122,1175.4 123,1175.4 124,1175.4 125,1175.4 126,1175.3 127,1175.3 128,1175.3 129,1175.3 130,1175.3 131,1175.2 132,1175.2 133,1175.2 134,1175.2 135,1175.2 136,1175.2 137,1175.2 138,1175.2 139,1175.2 140,1175.2 141,1175.2 142,1175.2 143,1175.2 144,1175.2 145,1175.2 146,1175.3 147,1175.3 148,1175.3 149,1175.3 150,1175.3 151,1175.3 152,1175.4 153,1175.4 154,1175.4 155,1175.4 156,1175.4 157,1175.5 158,1175.5 159,1175.5 160,1175.5 161,1175.6 162,1175.6 163,1175.6 164,1175.6 165,1175.6 166,1175.6 167,1175.6 168,1175.7 169,1175.7 170,1175.7 171,1175.7 172,1175.7 173,1175.7 174,1175.7 175,1175.7 176,1175.7 177,1175.7 178,1175.7 179,1175.6 180,1175.6 181,1175.6 182,1175.6 183,1175.6 184,1175.6 185,1175.6 186,1175.5 187,1175.5 188,1175.5 189,1175.5 190,1175.5 191,1175.4 192,1175.4 193,1175.4 194,1175.4 195,1175.3 196,1175.3 197,1175.3 198,1175.3 199,1175.3 200,1175.3 201,1175.2 202,1175.2 203,1175.2 204,1175.2 205,1174.7 206,1172.6 207,1167.4 208,1159.9 209,1150.9 210,1141.2 211,1131.4 212,1121.9 213,1113.3 214,1105.8 215,1099.9 216,1095.7 217,1093.4 218,1093.2 219,1095.1 220,1098.9 221,1104.6 222,1111.8 223,1120.3 224,1129.7 225,1139.5 226,1149.2 227,1158.3 228,1165.3 229,1167.9 230,1165.4 231,1159.4 232,1152 233,1144.3 234,1136.8 235,1129.7 236,1123.5 237,1118.3 238,1114.4 239,1112.1 240,1111.3 241,1112.1 242,1114.5 243,1118.3 244,1123.5 245,1129.8 246,1136.8 247,1144.4 248,1152.1 249,1159.5 250,1166.2 251,1171.4 252,1174.6 253,1175.5 254,1175.6 255,1175.6 256,1175.5 257,1175.5 258,1175.5 259,1175.5 260,1175.4 261,1175.4 262,1175.4 263,1175.4 264,1175.4 265,1175.3 266,1175.3 267,1175.3 268,1175.3 269,1175.3 270,1175.3 271,1175.2 272,1175.2 273,1175.2 274,1175.2 275,1175.2 276,1175.2 277,1175.2 278,1175.2 279,1175.2 280,1175.2 281,1175.2 282,1175.2 283,1175.2 284,1175.2 285,1175.2 286,1175.3 287,1175.3 288,1175.3 289,1175.3 290,1175.3 291,1175.4 292,1175.4 293,1175.4 294,1175.4 295,1175.4 296,1175.5 297,1175.5 298,1175.5 299,1175.5 300,1175.5 301,1175.6 302,1175.6 303,1175.6 304,1175.6 305,1175.6 306,1175.6 307,1175.6 308,1175.7 309,1175.7 310,1175.7 311,1175.7 312,1175.7 313,1175.7 314,1175.7 315,1175.7 316,1175.7 317,1175.7 318,1175.7 319,1175.6 320,1175.6 321,1175.6 322,1175.6 323,1175.6 324,1175.6 325,1175.5 326,1175.5 327,1175.5 328,1175.5 329,1175.5 330,1175.4 331,1175.4 332,1175.4 333,1175.4 334,1175.4 335,1175.3 336,1175.3 337,1175.3 338,1175.3 339,1175.3 340,1175.3 341,1175.2 342,1175.2 343,1175.2 344,1175.2 345,1175.2 346,1175.2 347,1175.2 348,1175.2 349,1175.2 350,1175.2 351,1175.2 352,1175.2 353,1175.2 354,1175.2 355,1175.3 356,1175.3 357,1175.3 358,1175.3 359,1175.3 360,1175.3 361,1174.3 362,1170.8 363,1164.7 364,1156.9 365,1148.3 366,1139.5 367,1131 368,1123.4 369,1117 370,1112.2 371,1109.2 372,1108.2 373,1109.2 374,1112.2 375,1117.1 376,1123.5 377,1131.2 378,1139.7 379,1148.6 380,1157.2 381,1165 382,1171.1 383,1174.6 384,1175.6 385,1175.7 386,1175.7 387,1175.7 388,1175.7 389,1175.6 390,1175.6 391,1175.6 392,1175.6 393,1175.6 394,1175.6 395,1175.5 396,1175.5 397,1175.5 398,1175.5 399,1175.5 400,1175.4 401,1175.4 402,1175.4 403,1175.4 404,1175.4 405,1175.3 406,1175.3 407,1175.3 408,1175.3 409,1175.3 410,1175.3 411,1175.2 412,1175.2 413,1175.2 414,1175.2 415,1175.2 416,1175.2 417,1175.2 418,1175.2 419,1175.2 420,1175.2 421,1175.2 422,1175.2 423,1175.2 424,1175.2 425,1175.3 426,1175.3 427,1175.3 428,1175.3 429,1175.3 430,1175.3 431,1175.4 432,1175.4 433,1175.4 434,1175.4 435,1175.4 436,1175.5 437,1175.5 438,1175.5 439,1175.5 440,1175.5 441,1175.6 442,1175.6 443,1175.6 444,1175.6 445,1175.6 446,1175.6 447,1175.7 448,1175.7 449,1175.7 450,1175.7 451,1175.7 452,1175.7 453,1175.7 454,1175.7 455,1175.7 456,1175.7 457,1175.7 458,1175.6 459,1175.6 460,1175.6 461,1175.6 462,1175.6 463,1175.6 464,1175.6 465,1175.5 466,1175.5 467,1175.5 468,1175.5 469,1175.5 470,1175.4 471,1175.4 472,1175.4 473,1175.4 474,1175.4 475,1175.3 476,1175.3 477,1175.3 478,1175.3 479,1175.3 480,1175.2 481,1175.2 482,1175.2 483,1175.2 484,1175.2 485,1175.2 486,1175.2 487,1175.2 488,1175.2 489,1175.2 490,1175.2 491,1175.2 492,1175.2 493,1175.2 494,1175.2 495,1175.3 496,1175.3 497,1175.3 498,1175.3 499,1175.3 500,1175.3 501,1175.4 502,1175.4 503,1175.4 504,1175.4 505,1175.4 506,1175.5 507,1175.5 508,1175.5 509,1175.5 510,1175.5 511,1175.6 512,1175.6 513,1175.6 514,1175.6 515,1175.6 516,1175.6 517,1175.7 518,1175.7 519,1175.7 520,1175.7 521,1175.7 522,1175.7 523,1175.7 524,1175.7 525,1175.7 526,1175.7 527,1175.7 528,1175.6 529,1175.6 530,1175.6 531,1175.6 532,1175.6 533,1175.6 534,1175.6 535,1175.5 536,1175.5 537,1175.5 538,1175.5 539,1175.5 540,1175.4 541,1175.4 542,1175.4 543,1175.4 544,1175.3 545,1175.3 546,1175.3 547,1175.3 548,1175.3 549,1175.3 550,1175.2 551,1175.2 552,1175.2 553,1175.2 554,1175.2 555,1175.2 556,1175.2 557,1175.2 558,1175.2 559,1175.2 560,1175.2 561,1175.2 562,1175.2 563,1175.2 564,1175.2 565,1175.3 566,1175.3 567,1175.3 568,1175.3 569,1175.3 570,1175.3 571,1175.4 572,1175.4 573,1175.4 574,1175.4 575,1175.5 576,1175.5 577,1175.5 578,1175.5 579,1175.5 580,1175.6 581,1175.6 582,1175.6 583,1175.6 584,1175.6 585,1175.6 586,1175.6 587,1175.7 588,1175.7 589,1175.7 590,1175.7 591,1175.7 592,1175.7 593,1175.7 594,1175.7 595,1175.7 596,1175.7 597,1175.7 598,1175.6 599,1175.6 600,1175.6 601,1175.6 602,1175.6 603,1175.6 604,1175.6 605,1175.5 606,1175.5 607,1175.5 608,1175.5 609,1175.4 610,1175.4 611,1175.4 612,1175.4 613,1175.4 614,1175.3 615,1175.3 616,1175.3 617,1175.3 618,1175.3 619,1175.3 620,1175.2 621,1175.2 622,1175.2 623,1175.2 624,1175.2 625,1175.2 626,1175.2 627,1175.2 628,1175.2 629,1175.2 630,1175.2 631,1175.2 632,1175.2 633,1175.2 634,1175.2 635,1175.3 636,1175.3 637,1175.3 638,1175.3 639,1175.3 640,1175.3 641,1175.4 642,1175.4 643,1175.4 644,1175.4 645,1175.5 646,1175.5 647,1175.5 648,1175.5 649,1175.5 650,1175.6 651,1175.6 652,1175.6 653,1175.6 654,1175.6 655,1175.6 656,1175.6 657,1175.7 658,1175.7 659,1175.7 660,1175.7 661,1175.7 662,1175.7 663,1175.7 664,1175.7 665,1175.7 666,1175.7 667,1175.7 668,1175.6 669,1175.6 670,1175.6 671,1175.6 672,1175.6 673,1175.6 674,1175.5 675,1175.5 676,1175.5 677,1175.5 678,1175.5 679,1175.4 680,1175.4 681,1175.4 682,1175.4 683,1175.4 684,1175.3 685,1175.3 686,1175.3 687,1175.3 688,1175.3 689,1175.3 690,1175.2 691,1175.2 692,1175.2 693,1175.2 694,1175.2 695,1175.2 696,1175.2 697,1175.2 698,1175.2 699,1175.2 700,1175.2 701,1175.2 702,1175.2 703,1175.2 704,1175.3 705,1175.3 706,1175.3 707,1175.3 708,1175.3 709,1175.3 710,1175.4 711,1175.4 712,1175.4 713,1175.4 714,1175.4 715,1175.5 716,1175.5 717,1175.5 718,1175.5 719,1175.5 720,1175.6 721,1175.6 722,1175.6 723,1175.6 724,1175.6 725,1175.6 726,1175.7 727,1175.7 728,1175.7 729,1175.6 730,1174.9 731,1172 732,1166.8 733,1159.9 734,1152.2 735,1144.1 736,1136.2 737,1128.8 738,1122.3 739,1117.1 740,1113.3 741,1111.2 742,1110.9 743,1112.2 744,1115.3 745,1120 746,1125.9 747,1133 748,1140.7 749,1148.7 750,1156.7 751,1163.9 752,1169.3 753,1170.7 754,1167.4 755,1161.3 756,1154.1 757,1146.6 758,1139.1 759,1132.2 760,1126 761,1121 762,1117.4 763,1115.2 764,1114.7 765,1115.9 766,1118.6 767,1122.8 768,1128.3 769,1134.8 770,1142 771,1149.5 772,1157 773,1163.9 774,1169.7 775,1173.5 776,1175 777,1175.3 778,1175.3 779,1175.3 780,1175.4 781,1175.4 782,1175.4 783,1175.4 784,1175.4 785,1175.5 786,1175.5 787,1175.5 788,1175.5 789,1175.5 790,1175.6 791,1175.6 792,1175.6 793,1175.6 794,1175.6 795,1175.6 796,1175.7 797,1175.7 798,1175.7 799,1175.7 800,1175.7 801,1175.7 802,1175.7 803,1175.7 804,1175.7 805,1175.7 806,1175.7 807,1175.7 808,1175.6 809,1175.6 810,1175.6 811,1175.6 812,1175.6 813,1175.6 814,1175.5 815,1175.5 816,1175.5 817,1175.5 818,1175.5 819,1175.4 820,1175.4 821,1175.3 822,1174.3 823,1170.7 824,1163.9 825,1155 826,1145 827,1134.6 828,1124.4 829,1115 830,1106.8 831,1100.2 832,1095.5 833,1093 834,1092.8 835,1094.8 836,1099.1 837,1105.3 838,1113.2 839,1122.4 840,1132.5 841,1142.9 842,1153 843,1162.2 844,1169.5 845,1173.8 846,1175.1 847,1175.3 848,1175.3 849,1175.3 850,1175.4 851,1175.4 852,1175.4 853,1175.4 854,1175.4 855,1175.5 856,1175.5 857,1175.5 858,1175.5 859,1175.5 860,1175.6 861,1175.6 862,1175.6 863,1175.6 864,1175.6 865,1175.6 866,1175.7 867,1175.7 868,1175.7 869,1175.7 870,1175.7 871,1175.7 872,1175.7 873,1175.7 874,1175.7 875,1175.7 876,1175.7 877,1175.6 878,1175.6 879,1175.6 880,1175.6 881,1175.6 882,1175.6 883,1175.6 884,1175.5 885,1175.5 886,1175.5 887,1175.5 888,1175.5 889,1175.4 890,1175.4 891,1175.4 892,1175.4 893,1175.3 894,1175.3 895,1175.3 896,1175.3 897,1175.3 898,1175.3 899,1175.2 900,1175.2 901,1175.2 902,1175.2 903,1175.2 904,1175.2 905,1175.2 906,1175.2 907,1175.1 908,1174.1 909,1170.5 910,1164.2 911,1156.1 912,1147.1 913,1137.8 914,1128.7 915,1120.3 916,1113.1 917,1107.4 918,1103.4 919,1101.4 920,1101.4 921,1103.5 922,1107.5 923,1113.3 924,1120.5 925,1128.9 926,1138 927,1147.4 928,1156.4 929,1164.5 930,1170.9 931,1174.5 932,1175.5 933,1175.6 934,1175.6 935,1175.6 936,1175.7 937,1175.7 938,1175.7 939,1175.7 940,1175.7 941,1175.7 942,1175.7 943,1175.7 944,1175.7 945,1175.7 946,1175.7 947,1175.6 948,1175.6 949,1175.6 950,1175.6 951,1175.6 952,1175.6 953,1175.6 954,1175.5 955,1175.5 956,1175.5 957,1175.5 958,1175.5 959,1175.4 960,1175.4 961,1175.4 962,1175.4 963,1175.3 964,1175.3 965,1175.3 966,1175.3 967,1175.3 968,1175.3 969,1175.2 970,1175.2 971,1175.2 972,1175.2 973,1175.2 974,1175.2 975,1175.2 976,1175.2 977,1175.2 978,1175.2 979,1175.2 980,1175.2 981,1175.2 982,1175.2 983,1175.2 984,1175.3 985,1175.3 986,1175.3 987,1175.3 988,1175.3 989,1175.3 990,1175.4 991,1175.4 992,1175.4 993,1175.4 994,1175.5 995,1175.5 996,1175.5 997,1175.5 998,1175.5 999,1175.6 1000,1175.6 1001,1175.6 1002,1175.6 1003,1175.6 1004,1175.6 1005,1175.6 1006,1175.7 1007,1175.7 1008,1175.7 1009,1175.7 1010,1175.7 1011,1175.7 1012,1175.7 1013,1175.7 1014,1175.7 1015,1175.7 1016,1175.7 1017,1175.6 1018,1175.6 1019,1175.6 1020,1175.6 1021,1175.6 1022,1175.6 1023,1175.6 1024,1175.5 1025,1175.5 1026,1175.5 1027,1175.5 1028,1175.4 1029,1175.4 1030,1175.4 1031,1175.4 1032,1175.4 1033,1175.3 1034,1175.3 1035,1175.3 1036,1175.3 1037,1175.3 1038,1175.3 1039,1175.2 1040,1175.2 1041,1175.2 1042,1175.2 1043,1175.2 1044,1175.2 1045,1175.2 1046,1175.2 1047,1175.2 1048,1175.2 1049,1175.2 1050,1175.2 1051,1175.2 1052,1175.2 1053,1175.2 1054,1175.3 1055,1175.3 1056,1175.3 1057,1175.3 1058,1175.3 1059,1175.4 1060,1175.4 1061,1175.4 1062,1175.4 1063,1175.4" fill="none" stroke="#3b63d9" stroke-width="2.8" stroke-linejoin="round"/>
<path d="M65,1175.6 66,1175.6 67,1175.6 68,1175.6 69,1175.6 70,1175.7 71,1175.7 72,1175.7 73,1175.7 74,1175.7 75,1175.7 76,1175.7 77,1175.7 78,1175.7 79,1175.7 80,1175.7 81,1175.7 82,1175.7 83,1175.7 84,1175.7 85,1175.7 86,1175.7 87,1175.7 88,1175.7 89,1175.7 90,1175.7 91,1175.7 92,1175.7 93,1175.7 94,1175.7 95,1175.7 96,1175.7 97,1175.7 98,1175.7 99,1175.7 100,1175.6 101,1175.6 102,1175.6 103,1175.6 104,1175.6 105,1175.6 106,1175.6 107,1175.6 108,1175.6 109,1175.5 110,1175.5 111,1175.5 112,1175.5 113,1175.5 114,1175.5 115,1175.5 116,1175.5 117,1175.5 118,1175.5 119,1175.5 120,1175.5 121,1175.5 122,1175.5 123,1175.5 124,1175.5 125,1175.5 126,1175.5 127,1175.5 128,1175.5 129,1175.5 130,1175.6 131,1175.6 132,1175.6 133,1175.6 134,1175.6 135,1175.6 136,1175.6 137,1175.6 138,1175.6 139,1175.6 140,1175.7 141,1175.7 142,1175.7 143,1175.7 144,1175.7 145,1175.7 146,1175.7 147,1175.7 148,1175.7 149,1175.7 150,1175.7 151,1175.7 152,1175.7 153,1175.7 154,1175.7 155,1175.7 156,1175.7 157,1175.7 158,1175.7 159,1175.7 160,1175.7 161,1175.7 162,1175.7 163,1175.7 164,1175.7 165,1175.7 166,1175.7 167,1175.7 168,1175.7 169,1175.6 170,1175.6 171,1175.6 172,1175.6 173,1175.6 174,1175.6 175,1175.6 176,1175.6 177,1175.6 178,1175.6 179,1175.5 180,1175.5 181,1175.5 182,1175.5 183,1175.5 184,1175.5 185,1175.5 186,1175.5 187,1175.5 188,1175.5 189,1175.5 190,1175.5 191,1175.5 192,1175.5 193,1175.5 194,1175.5 195,1175.5 196,1175.5 197,1175.5 198,1175.5 199,1175.5 200,1175.6 201,1175.6 202,1175.6 203,1175.6 204,1175.6 205,1175.6 206,1175.6 207,1175.6 208,1175.6 209,1175.6 210,1175.7 211,1175.7 212,1175.7 213,1175.7 214,1175.7 215,1175.7 216,1175.7 217,1175.7 218,1175.7 219,1175.7 220,1175.7 221,1175.7 222,1175.7 223,1175.7 224,1175.7 225,1175.7 226,1175.7 227,1175.7 228,1175.7 229,1175.7 230,1175.7 231,1175.7 232,1175.7 233,1175.7 234,1175.7 235,1175.7 236,1175.7 237,1175.7 238,1175.7 239,1175.6 240,1175.6 241,1175.6 242,1175.6 243,1175.6 244,1175.6 245,1175.6 246,1175.6 247,1175.6 248,1175.6 249,1175.5 250,1175.5 251,1175.5 252,1175.5 253,1175.5 254,1175.5 255,1175.5 256,1175.5 257,1175.5 258,1175.5 259,1175.5 260,1175.5 261,1175.5 262,1175.5 263,1175.5 264,1175.5 265,1175.5 266,1175.5 267,1175.5 268,1175.5 269,1175.5 270,1175.6 271,1175.6 272,1175.5 273,1174 274,1168.9 275,1160 276,1148.8 277,1136.6 278,1124.1 279,1112 280,1100.8 281,1091 282,1083 283,1077.1 284,1073.6 285,1072.6 286,1074.1 287,1078.1 288,1084.5 289,1092.9 290,1103 291,1114.4 292,1126.7 293,1139.2 294,1151.3 295,1162.2 296,1170.4 297,1173.8 298,1172 299,1166.4 300,1158.8 301,1150 302,1140.9 303,1131.7 304,1123.2 305,1115.5 306,1109.2 307,1104.5 308,1101.5 309,1100.5 310,1101.5 311,1104.4 312,1109.1 313,1115.4 314,1123.1 315,1131.6 316,1140.7 317,1149.9 318,1158.6 319,1166.2 320,1171.9 321,1174.7 322,1175.5 323,1175.5 324,1175.5 325,1175.5 326,1175.5 327,1175.5 328,1175.5 329,1175.5 330,1175.5 331,1175.5 332,1175.5 333,1175.5 334,1175.5 335,1175.5 336,1175.5 337,1175.5 338,1175.5 339,1175.5 340,1175.6 341,1175.6 342,1175.6 343,1175.6 344,1175.6 345,1175.6 346,1175.6 347,1175.6 348,1175.6 349,1175.6 350,1175.7 351,1175.7 352,1175.7 353,1175.7 354,1175.7 355,1175.7 356,1175.7 357,1175.7 358,1175.7 359,1175.7 360,1175.7 361,1175.7 362,1175.7 363,1175.7 364,1175.7 365,1175.7 366,1175.7 367,1175.7 368,1175.7 369,1175.7 370,1175.7 371,1175.7 372,1175.7 373,1175.7 374,1175.7 375,1175.7 376,1175.7 377,1175.7 378,1175.7 379,1175.6 380,1175.6 381,1175.6 382,1175.6 383,1175.6 384,1175.6 385,1175.6 386,1175.6 387,1175.6 388,1175.6 389,1175.5 390,1175.5 391,1175.5 392,1175.5 393,1175.5 394,1175.5 395,1175.5 396,1175.5 397,1175.5 398,1175.5 399,1175.5 400,1175.5 401,1175.5 402,1174.9 403,1172.1 404,1165.3 405,1155.6 406,1144.3 407,1132.6 408,1121 409,1110.1 410,1100.4 411,1092.3 412,1086.2 413,1082.4 414,1080.9 415,1081.9 416,1085.3 417,1091 418,1098.7 419,1108.1 420,1118.8 421,1130.4 422,1142.2 423,1153.6 424,1163.7 425,1171.2 426,1174.8 427,1175.7 428,1175.7 429,1175.7 430,1175.7 431,1175.7 432,1175.7 433,1175.7 434,1175.7 435,1175.7 436,1175.7 437,1175.7 438,1175.7 439,1175.7 440,1175.7 441,1175.7 442,1175.7 443,1175.7 444,1175.7 445,1175.7 446,1175.7 447,1175.7 448,1175.7 449,1175.6 450,1175.6 451,1175.6 452,1175.6 453,1175.6 454,1175.6 455,1175.6 456,1175.6 457,1175.6 458,1175.5 459,1175.5 460,1175.5 461,1175.5 462,1175.5 463,1175.5 464,1175.5 465,1175.5 466,1175.5 467,1175.5 468,1175.5 469,1175.3 470,1174 471,1170.1 472,1163.6 473,1155.7 474,1147.1 475,1138.2 476,1129.6 477,1121.8 478,1115.1 479,1109.8 480,1106.2 481,1104.5 482,1104.7 483,1106.8 484,1110.8 485,1116.4 486,1123.4 487,1131.4 488,1140.1 489,1149 490,1157.6 491,1165.2 492,1170.9 493,1172.6 494,1169 495,1162.3 496,1154.1 497,1145.3 498,1136.4 499,1127.9 500,1120.2 501,1113.7 502,1108.7 503,1105.4 504,1104.1 505,1104.7 506,1107.2 507,1111.5 508,1117.4 509,1124.7 510,1132.9 511,1141.7 512,1150.6 513,1159.1 514,1166.6 515,1172.1 516,1174.9 517,1175.6 518,1175.6 519,1175.6 520,1175.6 521,1175.6 522,1175.6 523,1175.6 524,1175.6 525,1175.6 526,1175.6 527,1175.6 528,1175.5 529,1175.5 530,1175.5 531,1175.5 532,1175.5 533,1175.5 534,1175.5 535,1175.2 536,1173.8 537,1170.5 538,1165.6 539,1159.9 540,1153.8 541,1147.7 542,1141.9 543,1136.7 544,1132.3 545,1129.1 546,1127.1 547,1126.4 548,1127.1 549,1129.1 550,1132.4 551,1136.7 552,1141.9 553,1147.8 554,1153.9 555,1160 556,1165.8 557,1170.5 558,1172.7 559,1169.5 560,1160.7 561,1148.7 562,1135.4 563,1121.6 564,1108 565,1095.4 566,1084.2 567,1075 568,1068 569,1063.6 570,1061.9 571,1063.1 572,1066.9 573,1073.4 574,1082.3 575,1093.1 576,1105.5 577,1118.8 578,1132.6 579,1146.1 580,1158.1 581,1165.6 582,1165.3 583,1157.9 584,1147.2 585,1135.5 586,1123.7 587,1112.3 588,1101.9 589,1093.1 590,1086.1 591,1081.4 592,1079.1 593,1079.3 594,1082.1 595,1087.3 596,1094.6 597,1103.8 598,1114.4 599,1125.9 600,1137.8 601,1149.3 602,1159.8 603,1168.3 604,1173.6 605,1175.3 606,1175.5 607,1175.5 608,1175.5 609,1175.5 610,1175.5 611,1175.5 612,1175.5 613,1175.5 614,1175.5 615,1175.5 616,1175.5 617,1175.5 618,1175.5 619,1175.6 620,1175.6 621,1175.6 622,1175.6 623,1175.6 624,1175.6 625,1175.6 626,1175.6 627,1175.6 628,1175.6 629,1175.7 630,1175.7 631,1175.7 632,1175.7 633,1175.7 634,1175.7 635,1175.7 636,1175.7 637,1175.7 638,1175.7 639,1175.7 640,1175.7 641,1175.7 642,1175.7 643,1175.7 644,1175.5 645,1174.4 646,1171.5 647,1166.7 648,1160.8 649,1154.3 650,1147.5 651,1141 652,1135 653,1129.9 654,1126 655,1123.4 656,1122.3 657,1122.7 658,1124.7 659,1128.1 660,1132.8 661,1138.4 662,1144.8 663,1151.4 664,1158.1 665,1164.3 666,1169.6 667,1173.3 668,1175.1 669,1175.5 670,1175.5 671,1175.5 672,1175.5 673,1175.5 674,1175.5 675,1175.5 676,1175.5 677,1175.5 678,1175.5 679,1175.5 680,1175.5 681,1175.5 682,1175.5 683,1175.5 684,1175.5 685,1175.5 686,1175.5 687,1175.5 688,1175.3 689,1173.8 690,1170.2 691,1164.6 692,1157.7 693,1150.2 694,1142.5 695,1135.2 696,1128.5 697,1122.9 698,1118.7 699,1116 700,1115.2 701,1116.1 702,1118.7 703,1122.9 704,1128.6 705,1135.3 706,1142.7 707,1150.4 708,1157.9 709,1164.7 710,1170.3 711,1174 712,1175.4 713,1175.7 714,1175.7 715,1175.7 716,1175.7 717,1175.7 718,1175.7 719,1175.7 720,1175.7 721,1175.7 722,1175.7 723,1175.7 724,1175.7 725,1175.7 726,1175.7 727,1175.7 728,1175.6 729,1175.6 730,1175.6 731,1175.6 732,1175.6 733,1175.6 734,1175.6 735,1175.6 736,1175.6 737,1175.6 738,1175.5 739,1175.5 740,1175.5 741,1175.5 742,1175.5 743,1175.5 744,1175.5 745,1175.5 746,1175.5 747,1175.5 748,1175.5 749,1175.5 750,1175.5 751,1175.5 752,1175.5 753,1175.5 754,1175.5 755,1175.5 756,1175.5 757,1175.5 758,1175.5 759,1175.6 760,1175.6 761,1175.6 762,1175.6 763,1175.6 764,1175.6 765,1175.6 766,1175.6 767,1175.6 768,1175.7 769,1175.7 770,1175.7 771,1175.7 772,1175.7 773,1175.7 774,1175.7 775,1175.7 776,1175.7 777,1175.7 778,1175.7 779,1175.7 780,1175.7 781,1175.7 782,1175.7 783,1175.7 784,1175.7 785,1175.7 786,1175.7 787,1175.7 788,1175.7 789,1175.7 790,1175.7 791,1175.7 792,1175.7 793,1175.7 794,1175.7 795,1175.7 796,1175.7 797,1175.7 798,1175.6 799,1175.6 800,1175.6 801,1175.6 802,1175.6 803,1175.6 804,1175.6 805,1175.6 806,1175.6 807,1175.5 808,1175.5 809,1175.5 810,1175.5 811,1175.5 812,1175.5 813,1175.5 814,1175.5 815,1175.5 816,1175.5 817,1175.5 818,1175.5 819,1175.5 820,1175.5 821,1175.5 822,1175.5 823,1175.5 824,1175.5 825,1175.5 826,1175.5 827,1175.5 828,1175.6 829,1175.6 830,1175.6 831,1175.6 832,1175.6 833,1175.6 834,1175.6 835,1175.6 836,1175.6 837,1175.6 838,1175.7 839,1175.7 840,1175.7 841,1175.7 842,1175.7 843,1175.7 844,1175.7 845,1175.7 846,1175.7 847,1175.7 848,1175.7 849,1175.7 850,1175.7 851,1175.7 852,1175.7 853,1175.7 854,1175.7 855,1175.7 856,1175.7 857,1175.7 858,1175.7 859,1175.7 860,1175.7 861,1175.7 862,1175.7 863,1175.7 864,1175.7 865,1175.7 866,1175.7 867,1175.6 868,1175.6 869,1175.6 870,1175.6 871,1175.6 872,1175.6 873,1175.6 874,1175.6 875,1175.6 876,1175.6 877,1175.5 878,1175.5 879,1175.5 880,1175.5 881,1175.5 882,1175.5 883,1175.5 884,1175.5 885,1175.5 886,1175.5 887,1175.5 888,1175.5 889,1175.5 890,1175.5 891,1175.5 892,1175.5 893,1175.5 894,1175.5 895,1175.5 896,1175.5 897,1175.5 898,1175.6 899,1175.6 900,1175.6 901,1175.6 902,1175.6 903,1175.6 904,1175.6 905,1175.6 906,1175.6 907,1175.6 908,1175.7 909,1175.7 910,1175.7 911,1175.7 912,1175.7 913,1175.7 914,1175.7 915,1175.7 916,1175.7 917,1175.7 918,1175.7 919,1175.7 920,1175.7 921,1175.7 922,1175.7 923,1175.7 924,1175.7 925,1175.7 926,1175.7 927,1175.7 928,1175.7 929,1175.7 930,1175.7 931,1175.7 932,1175.7 933,1175.7 934,1175.7 935,1175.7 936,1175.7 937,1175.6 938,1175.6 939,1175.6 940,1175.6 941,1175.6 942,1175.6 943,1175.6 944,1175.6 945,1175.6 946,1175.6 947,1175.5 948,1175.5 949,1175.5 950,1175.5 951,1175.5 952,1175.5 953,1175.5 954,1175.5 955,1175.5 956,1175.5 957,1175.5 958,1175.5 959,1175.5 960,1175.5 961,1175.5 962,1175.5 963,1175.5 964,1175.5 965,1175.5 966,1175.5 967,1175.5 968,1175.6 969,1175.6 970,1175.6 971,1175.6 972,1175.6 973,1175.6 974,1175.6 975,1175.6 976,1175.6 977,1175.6 978,1175.7 979,1175.7 980,1175.7 981,1175.7 982,1175.7 983,1175.7 984,1175.7 985,1175.7 986,1175.7 987,1175.7 988,1175.7 989,1175.7 990,1175.7 991,1175.7 992,1175.7 993,1175.7 994,1175.7 995,1175.7 996,1175.7 997,1175.7 998,1175.7 999,1175.7 1000,1175.7 1001,1175.7 1002,1175.7 1003,1175.7 1004,1175.7 1005,1175.7 1006,1175.7 1007,1175.6 1008,1175.6 1009,1175.6 1010,1175.6 1011,1175.6 1012,1175.6 1013,1175.6 1014,1175.6 1015,1175.6 1016,1175.6 1017,1175.5 1018,1175.5 1019,1175.5 1020,1175.5 1021,1175.5 1022,1175.5 1023,1175.5 1024,1175.5 1025,1175.5 1026,1175.5 1027,1175.5 1028,1175.5 1029,1175.5 1030,1175.5 1031,1175.5 1032,1175.5 1033,1175.5 1034,1175.5 1035,1175.5 1036,1175.5 1037,1175.5 1038,1175.6 1039,1175.6 1040,1175.6 1041,1175.6 1042,1175.6 1043,1175.6 1044,1175.6 1045,1175.6 1046,1175.6 1047,1175.6 1048,1175.7 1049,1175.7 1050,1175.7 1051,1175.7 1052,1175.7 1053,1175.7 1054,1175.7 1055,1175.7 1056,1175.7 1057,1175.7 1058,1175.7 1059,1175.7 1060,1175.7 1061,1175.7 1062,1175.7 1063,1175.7 L1063,1175.8 L65,1175.8 Z" fill="#0d0d0d" fill-opacity="0.14" stroke="none"/>
<path d="M65,1175.6 66,1175.6 67,1175.6 68,1175.6 69,1175.6 70,1175.7 71,1175.7 72,1175.7 73,1175.7 74,1175.7 75,1175.7 76,1175.7 77,1175.7 78,1175.7 79,1175.7 80,1175.7 81,1175.7 82,1175.7 83,1175.7 84,1175.7 85,1175.7 86,1175.7 87,1175.7 88,1175.7 89,1175.7 90,1175.7 91,1175.7 92,1175.7 93,1175.7 94,1175.7 95,1175.7 96,1175.7 97,1175.7 98,1175.7 99,1175.7 100,1175.6 101,1175.6 102,1175.6 103,1175.6 104,1175.6 105,1175.6 106,1175.6 107,1175.6 108,1175.6 109,1175.5 110,1175.5 111,1175.5 112,1175.5 113,1175.5 114,1175.5 115,1175.5 116,1175.5 117,1175.5 118,1175.5 119,1175.5 120,1175.5 121,1175.5 122,1175.5 123,1175.5 124,1175.5 125,1175.5 126,1175.5 127,1175.5 128,1175.5 129,1175.5 130,1175.6 131,1175.6 132,1175.6 133,1175.6 134,1175.6 135,1175.6 136,1175.6 137,1175.6 138,1175.6 139,1175.6 140,1175.7 141,1175.7 142,1175.7 143,1175.7 144,1175.7 145,1175.7 146,1175.7 147,1175.7 148,1175.7 149,1175.7 150,1175.7 151,1175.7 152,1175.7 153,1175.7 154,1175.7 155,1175.7 156,1175.7 157,1175.7 158,1175.7 159,1175.7 160,1175.7 161,1175.7 162,1175.7 163,1175.7 164,1175.7 165,1175.7 166,1175.7 167,1175.7 168,1175.7 169,1175.6 170,1175.6 171,1175.6 172,1175.6 173,1175.6 174,1175.6 175,1175.6 176,1175.6 177,1175.6 178,1175.6 179,1175.5 180,1175.5 181,1175.5 182,1175.5 183,1175.5 184,1175.5 185,1175.5 186,1175.5 187,1175.5 188,1175.5 189,1175.5 190,1175.5 191,1175.5 192,1175.5 193,1175.5 194,1175.5 195,1175.5 196,1175.5 197,1175.5 198,1175.5 199,1175.5 200,1175.6 201,1175.6 202,1175.6 203,1175.6 204,1175.6 205,1175.6 206,1175.6 207,1175.6 208,1175.6 209,1175.6 210,1175.7 211,1175.7 212,1175.7 213,1175.7 214,1175.7 215,1175.7 216,1175.7 217,1175.7 218,1175.7 219,1175.7 220,1175.7 221,1175.7 222,1175.7 223,1175.7 224,1175.7 225,1175.7 226,1175.7 227,1175.7 228,1175.7 229,1175.7 230,1175.7 231,1175.7 232,1175.7 233,1175.7 234,1175.7 235,1175.7 236,1175.7 237,1175.7 238,1175.7 239,1175.6 240,1175.6 241,1175.6 242,1175.6 243,1175.6 244,1175.6 245,1175.6 246,1175.6 247,1175.6 248,1175.6 249,1175.5 250,1175.5 251,1175.5 252,1175.5 253,1175.5 254,1175.5 255,1175.5 256,1175.5 257,1175.5 258,1175.5 259,1175.5 260,1175.5 261,1175.5 262,1175.5 263,1175.5 264,1175.5 265,1175.5 266,1175.5 267,1175.5 268,1175.5 269,1175.5 270,1175.6 271,1175.6 272,1175.5 273,1174 274,1168.9 275,1160 276,1148.8 277,1136.6 278,1124.1 279,1112 280,1100.8 281,1091 282,1083 283,1077.1 284,1073.6 285,1072.6 286,1074.1 287,1078.1 288,1084.5 289,1092.9 290,1103 291,1114.4 292,1126.7 293,1139.2 294,1151.3 295,1162.2 296,1170.4 297,1173.8 298,1172 299,1166.4 300,1158.8 301,1150 302,1140.9 303,1131.7 304,1123.2 305,1115.5 306,1109.2 307,1104.5 308,1101.5 309,1100.5 310,1101.5 311,1104.4 312,1109.1 313,1115.4 314,1123.1 315,1131.6 316,1140.7 317,1149.9 318,1158.6 319,1166.2 320,1171.9 321,1174.7 322,1175.5 323,1175.5 324,1175.5 325,1175.5 326,1175.5 327,1175.5 328,1175.5 329,1175.5 330,1175.5 331,1175.5 332,1175.5 333,1175.5 334,1175.5 335,1175.5 336,1175.5 337,1175.5 338,1175.5 339,1175.5 340,1175.6 341,1175.6 342,1175.6 343,1175.6 344,1175.6 345,1175.6 346,1175.6 347,1175.6 348,1175.6 349,1175.6 350,1175.7 351,1175.7 352,1175.7 353,1175.7 354,1175.7 355,1175.7 356,1175.7 357,1175.7 358,1175.7 359,1175.7 360,1175.7 361,1175.7 362,1175.7 363,1175.7 364,1175.7 365,1175.7 366,1175.7 367,1175.7 368,1175.7 369,1175.7 370,1175.7 371,1175.7 372,1175.7 373,1175.7 374,1175.7 375,1175.7 376,1175.7 377,1175.7 378,1175.7 379,1175.6 380,1175.6 381,1175.6 382,1175.6 383,1175.6 384,1175.6 385,1175.6 386,1175.6 387,1175.6 388,1175.6 389,1175.5 390,1175.5 391,1175.5 392,1175.5 393,1175.5 394,1175.5 395,1175.5 396,1175.5 397,1175.5 398,1175.5 399,1175.5 400,1175.5 401,1175.5 402,1174.9 403,1172.1 404,1165.3 405,1155.6 406,1144.3 407,1132.6 408,1121 409,1110.1 410,1100.4 411,1092.3 412,1086.2 413,1082.4 414,1080.9 415,1081.9 416,1085.3 417,1091 418,1098.7 419,1108.1 420,1118.8 421,1130.4 422,1142.2 423,1153.6 424,1163.7 425,1171.2 426,1174.8 427,1175.7 428,1175.7 429,1175.7 430,1175.7 431,1175.7 432,1175.7 433,1175.7 434,1175.7 435,1175.7 436,1175.7 437,1175.7 438,1175.7 439,1175.7 440,1175.7 441,1175.7 442,1175.7 443,1175.7 444,1175.7 445,1175.7 446,1175.7 447,1175.7 448,1175.7 449,1175.6 450,1175.6 451,1175.6 452,1175.6 453,1175.6 454,1175.6 455,1175.6 456,1175.6 457,1175.6 458,1175.5 459,1175.5 460,1175.5 461,1175.5 462,1175.5 463,1175.5 464,1175.5 465,1175.5 466,1175.5 467,1175.5 468,1175.5 469,1175.3 470,1174 471,1170.1 472,1163.6 473,1155.7 474,1147.1 475,1138.2 476,1129.6 477,1121.8 478,1115.1 479,1109.8 480,1106.2 481,1104.5 482,1104.7 483,1106.8 484,1110.8 485,1116.4 486,1123.4 487,1131.4 488,1140.1 489,1149 490,1157.6 491,1165.2 492,1170.9 493,1172.6 494,1169 495,1162.3 496,1154.1 497,1145.3 498,1136.4 499,1127.9 500,1120.2 501,1113.7 502,1108.7 503,1105.4 504,1104.1 505,1104.7 506,1107.2 507,1111.5 508,1117.4 509,1124.7 510,1132.9 511,1141.7 512,1150.6 513,1159.1 514,1166.6 515,1172.1 516,1174.9 517,1175.6 518,1175.6 519,1175.6 520,1175.6 521,1175.6 522,1175.6 523,1175.6 524,1175.6 525,1175.6 526,1175.6 527,1175.6 528,1175.5 529,1175.5 530,1175.5 531,1175.5 532,1175.5 533,1175.5 534,1175.5 535,1175.2 536,1173.8 537,1170.5 538,1165.6 539,1159.9 540,1153.8 541,1147.7 542,1141.9 543,1136.7 544,1132.3 545,1129.1 546,1127.1 547,1126.4 548,1127.1 549,1129.1 550,1132.4 551,1136.7 552,1141.9 553,1147.8 554,1153.9 555,1160 556,1165.8 557,1170.5 558,1172.7 559,1169.5 560,1160.7 561,1148.7 562,1135.4 563,1121.6 564,1108 565,1095.4 566,1084.2 567,1075 568,1068 569,1063.6 570,1061.9 571,1063.1 572,1066.9 573,1073.4 574,1082.3 575,1093.1 576,1105.5 577,1118.8 578,1132.6 579,1146.1 580,1158.1 581,1165.6 582,1165.3 583,1157.9 584,1147.2 585,1135.5 586,1123.7 587,1112.3 588,1101.9 589,1093.1 590,1086.1 591,1081.4 592,1079.1 593,1079.3 594,1082.1 595,1087.3 596,1094.6 597,1103.8 598,1114.4 599,1125.9 600,1137.8 601,1149.3 602,1159.8 603,1168.3 604,1173.6 605,1175.3 606,1175.5 607,1175.5 608,1175.5 609,1175.5 610,1175.5 611,1175.5 612,1175.5 613,1175.5 614,1175.5 615,1175.5 616,1175.5 617,1175.5 618,1175.5 619,1175.6 620,1175.6 621,1175.6 622,1175.6 623,1175.6 624,1175.6 625,1175.6 626,1175.6 627,1175.6 628,1175.6 629,1175.7 630,1175.7 631,1175.7 632,1175.7 633,1175.7 634,1175.7 635,1175.7 636,1175.7 637,1175.7 638,1175.7 639,1175.7 640,1175.7 641,1175.7 642,1175.7 643,1175.7 644,1175.5 645,1174.4 646,1171.5 647,1166.7 648,1160.8 649,1154.3 650,1147.5 651,1141 652,1135 653,1129.9 654,1126 655,1123.4 656,1122.3 657,1122.7 658,1124.7 659,1128.1 660,1132.8 661,1138.4 662,1144.8 663,1151.4 664,1158.1 665,1164.3 666,1169.6 667,1173.3 668,1175.1 669,1175.5 670,1175.5 671,1175.5 672,1175.5 673,1175.5 674,1175.5 675,1175.5 676,1175.5 677,1175.5 678,1175.5 679,1175.5 680,1175.5 681,1175.5 682,1175.5 683,1175.5 684,1175.5 685,1175.5 686,1175.5 687,1175.5 688,1175.3 689,1173.8 690,1170.2 691,1164.6 692,1157.7 693,1150.2 694,1142.5 695,1135.2 696,1128.5 697,1122.9 698,1118.7 699,1116 700,1115.2 701,1116.1 702,1118.7 703,1122.9 704,1128.6 705,1135.3 706,1142.7 707,1150.4 708,1157.9 709,1164.7 710,1170.3 711,1174 712,1175.4 713,1175.7 714,1175.7 715,1175.7 716,1175.7 717,1175.7 718,1175.7 719,1175.7 720,1175.7 721,1175.7 722,1175.7 723,1175.7 724,1175.7 725,1175.7 726,1175.7 727,1175.7 728,1175.6 729,1175.6 730,1175.6 731,1175.6 732,1175.6 733,1175.6 734,1175.6 735,1175.6 736,1175.6 737,1175.6 738,1175.5 739,1175.5 740,1175.5 741,1175.5 742,1175.5 743,1175.5 744,1175.5 745,1175.5 746,1175.5 747,1175.5 748,1175.5 749,1175.5 750,1175.5 751,1175.5 752,1175.5 753,1175.5 754,1175.5 755,1175.5 756,1175.5 757,1175.5 758,1175.5 759,1175.6 760,1175.6 761,1175.6 762,1175.6 763,1175.6 764,1175.6 765,1175.6 766,1175.6 767,1175.6 768,1175.7 769,1175.7 770,1175.7 771,1175.7 772,1175.7 773,1175.7 774,1175.7 775,1175.7 776,1175.7 777,1175.7 778,1175.7 779,1175.7 780,1175.7 781,1175.7 782,1175.7 783,1175.7 784,1175.7 785,1175.7 786,1175.7 787,1175.7 788,1175.7 789,1175.7 790,1175.7 791,1175.7 792,1175.7 793,1175.7 794,1175.7 795,1175.7 796,1175.7 797,1175.7 798,1175.6 799,1175.6 800,1175.6 801,1175.6 802,1175.6 803,1175.6 804,1175.6 805,1175.6 806,1175.6 807,1175.5 808,1175.5 809,1175.5 810,1175.5 811,1175.5 812,1175.5 813,1175.5 814,1175.5 815,1175.5 816,1175.5 817,1175.5 818,1175.5 819,1175.5 820,1175.5 821,1175.5 822,1175.5 823,1175.5 824,1175.5 825,1175.5 826,1175.5 827,1175.5 828,1175.6 829,1175.6 830,1175.6 831,1175.6 832,1175.6 833,1175.6 834,1175.6 835,1175.6 836,1175.6 837,1175.6 838,1175.7 839,1175.7 840,1175.7 841,1175.7 842,1175.7 843,1175.7 844,1175.7 845,1175.7 846,1175.7 847,1175.7 848,1175.7 849,1175.7 850,1175.7 851,1175.7 852,1175.7 853,1175.7 854,1175.7 855,1175.7 856,1175.7 857,1175.7 858,1175.7 859,1175.7 860,1175.7 861,1175.7 862,1175.7 863,1175.7 864,1175.7 865,1175.7 866,1175.7 867,1175.6 868,1175.6 869,1175.6 870,1175.6 871,1175.6 872,1175.6 873,1175.6 874,1175.6 875,1175.6 876,1175.6 877,1175.5 878,1175.5 879,1175.5 880,1175.5 881,1175.5 882,1175.5 883,1175.5 884,1175.5 885,1175.5 886,1175.5 887,1175.5 888,1175.5 889,1175.5 890,1175.5 891,1175.5 892,1175.5 893,1175.5 894,1175.5 895,1175.5 896,1175.5 897,1175.5 898,1175.6 899,1175.6 900,1175.6 901,1175.6 902,1175.6 903,1175.6 904,1175.6 905,1175.6 906,1175.6 907,1175.6 908,1175.7 909,1175.7 910,1175.7 911,1175.7 912,1175.7 913,1175.7 914,1175.7 915,1175.7 916,1175.7 917,1175.7 918,1175.7 919,1175.7 920,1175.7 921,1175.7 922,1175.7 923,1175.7 924,1175.7 925,1175.7 926,1175.7 927,1175.7 928,1175.7 929,1175.7 930,1175.7 931,1175.7 932,1175.7 933,1175.7 934,1175.7 935,1175.7 936,1175.7 937,1175.6 938,1175.6 939,1175.6 940,1175.6 941,1175.6 942,1175.6 943,1175.6 944,1175.6 945,1175.6 946,1175.6 947,1175.5 948,1175.5 949,1175.5 950,1175.5 951,1175.5 952,1175.5 953,1175.5 954,1175.5 955,1175.5 956,1175.5 957,1175.5 958,1175.5 959,1175.5 960,1175.5 961,1175.5 962,1175.5 963,1175.5 964,1175.5 965,1175.5 966,1175.5 967,1175.5 968,1175.6 969,1175.6 970,1175.6 971,1175.6 972,1175.6 973,1175.6 974,1175.6 975,1175.6 976,1175.6 977,1175.6 978,1175.7 979,1175.7 980,1175.7 981,1175.7 982,1175.7 983,1175.7 984,1175.7 985,1175.7 986,1175.7 987,1175.7 988,1175.7 989,1175.7 990,1175.7 991,1175.7 992,1175.7 993,1175.7 994,1175.7 995,1175.7 996,1175.7 997,1175.7 998,1175.7 999,1175.7 1000,1175.7 1001,1175.7 1002,1175.7 1003,1175.7 1004,1175.7 1005,1175.7 1006,1175.7 1007,1175.6 1008,1175.6 1009,1175.6 1010,1175.6 1011,1175.6 1012,1175.6 1013,1175.6 1014,1175.6 1015,1175.6 1016,1175.6 1017,1175.5 1018,1175.5 1019,1175.5 1020,1175.5 1021,1175.5 1022,1175.5 1023,1175.5 1024,1175.5 1025,1175.5 1026,1175.5 1027,1175.5 1028,1175.5 1029,1175.5 1030,1175.5 1031,1175.5 1032,1175.5 1033,1175.5 1034,1175.5 1035,1175.5 1036,1175.5 1037,1175.5 1038,1175.6 1039,1175.6 1040,1175.6 1041,1175.6 1042,1175.6 1043,1175.6 1044,1175.6 1045,1175.6 1046,1175.6 1047,1175.6 1048,1175.7 1049,1175.7 1050,1175.7 1051,1175.7 1052,1175.7 1053,1175.7 1054,1175.7 1055,1175.7 1056,1175.7 1057,1175.7 1058,1175.7 1059,1175.7 1060,1175.7 1061,1175.7 1062,1175.7 1063,1175.7" fill="none" stroke="#0d0d0d" stroke-width="2.8" stroke-linejoin="round"/>
<path d="M65,1175.7 66,1175.7 67,1175.7 68,1175.7 69,1175.7 70,1175.7 71,1175.7 72,1175.7 73,1175.7 74,1175.6 75,1175.6 76,1175.6 77,1175.6 78,1175.6 79,1175.6 80,1175.6 81,1175.5 82,1175.5 83,1175.5 84,1175.5 85,1175.5 86,1175.4 87,1175.4 88,1175.4 89,1175.4 90,1175.4 91,1175.4 92,1175.4 93,1175.3 94,1175.3 95,1175.3 96,1175.3 97,1175.3 98,1175.3 99,1175.3 100,1175.3 101,1175.3 102,1175.3 103,1175.3 104,1175.3 105,1175.3 106,1175.3 107,1175.3 108,1175.3 109,1175.4 110,1175.4 111,1175.4 112,1175.4 113,1175.4 114,1175.4 115,1175.3 116,1173.8 117,1168.6 118,1159.8 119,1149.1 120,1137.5 121,1125.7 122,1114.3 123,1103.8 124,1094.8 125,1087.4 126,1082.1 127,1079 128,1078.3 129,1080 130,1084 131,1090.2 132,1098.3 133,1108 134,1118.9 135,1130.5 136,1142.4 137,1153.7 138,1163.8 139,1171.2 140,1173.6 141,1170.4 142,1163.4 143,1154.3 144,1144.1 145,1133.6 146,1123.2 147,1113.6 148,1105.1 149,1098.2 150,1093.2 151,1090.2 152,1089.5 153,1091.1 154,1094.9 155,1100.6 156,1108.2 157,1117.2 158,1127.1 159,1137.6 160,1148 161,1157.8 162,1166.2 163,1172.1 164,1174.7 165,1175.3 166,1175.3 167,1175.3 168,1175.3 169,1175.3 170,1175.3 171,1175.3 172,1175.3 173,1175.3 174,1175.3 175,1175.3 176,1175.3 177,1175.3 178,1175.3 179,1175.4 180,1175.4 181,1175.4 182,1175.3 183,1174 184,1169.8 185,1162.6 186,1153.7 187,1143.8 188,1133.6 189,1123.8 190,1114.7 191,1107 192,1100.9 193,1096.8 194,1094.8 195,1095 196,1097.5 197,1102.1 198,1108.5 199,1116.6 200,1125.8 201,1135.8 202,1146 203,1155.8 204,1164.5 205,1171.1 206,1174.7 207,1175.6 208,1175.7 209,1175.7 210,1175.7 211,1175.7 212,1175.7 213,1175.7 214,1175.6 215,1175.6 216,1175.6 217,1175.6 218,1175.6 219,1175.6 220,1175.5 221,1175.5 222,1175.5 223,1175.5 224,1175.5 225,1175.5 226,1175.4 227,1175.4 228,1175.4 229,1175.4 230,1175.4 231,1175.4 232,1175.4 233,1175.3 234,1175.3 235,1175.3 236,1175.3 237,1175.3 238,1175.3 239,1175.3 240,1175.3 241,1175.3 242,1175.3 243,1175.3 244,1175.3 245,1175.3 246,1175.3 247,1175.3 248,1175.3 249,1175.4 250,1175.3 251,1174.8 252,1172.3 253,1167.2 254,1160.1 255,1151.9 256,1143.3 257,1134.8 258,1126.7 259,1119.7 260,1113.9 261,1109.7 262,1107.3 263,1106.7 264,1108.1 265,1111.3 266,1116.2 267,1122.5 268,1130 269,1138.3 270,1147 271,1155.5 272,1163.3 273,1169.8 274,1174 275,1175.5 276,1175.7 277,1175.7 278,1175.7 279,1175.7 280,1175.7 281,1175.7 282,1175.7 283,1175.6 284,1175.6 285,1175.6 286,1175.6 287,1175.6 288,1175.6 289,1175.6 290,1175.5 291,1175.5 292,1175.5 293,1175.5 294,1175.5 295,1175.5 296,1175.4 297,1175.4 298,1175.4 299,1175.4 300,1175.4 301,1175.4 302,1175.3 303,1175.3 304,1175.3 305,1175.3 306,1175.3 307,1175.3 308,1175.3 309,1175.3 310,1175.3 311,1175.3 312,1175.3 313,1175.3 314,1175.3 315,1175.3 316,1175.3 317,1175.3 318,1175.4 319,1175.4 320,1175.4 321,1175.4 322,1175.4 323,1175.4 324,1175.4 325,1175.5 326,1175.5 327,1175.5 328,1175.5 329,1175.5 330,1175.5 331,1175.6 332,1175.6 333,1175.6 334,1175.6 335,1175.6 336,1175.6 337,1175.7 338,1175.7 339,1175.7 340,1175.7 341,1175.7 342,1175.7 343,1175.7 344,1175.7 345,1175.7 346,1175.7 347,1175.7 348,1175.7 349,1175.7 350,1175.7 351,1175.7 352,1175.7 353,1175.6 354,1175.6 355,1175.6 356,1175.6 357,1175.6 358,1175.6 359,1175.6 360,1175.5 361,1175.5 362,1175.5 363,1175.5 364,1175.5 365,1175.5 366,1175.4 367,1175.4 368,1175.4 369,1175.4 370,1175.4 371,1175.4 372,1175.3 373,1175.3 374,1175.3 375,1175.3 376,1175.3 377,1175.3 378,1175.3 379,1175.3 380,1175.3 381,1175.2 382,1174.2 383,1170.5 384,1163.5 385,1154.4 386,1144.2 387,1133.5 388,1123.1 389,1113.4 390,1105 391,1098.3 392,1093.5 393,1090.9 394,1090.7 395,1092.8 396,1097.2 397,1103.6 398,1111.8 399,1121.3 400,1131.6 401,1142.3 402,1152.7 403,1162.1 404,1169.7 405,1174.1 406,1175.5 407,1175.7 408,1175.7 409,1175.7 410,1175.7 411,1175.7 412,1175.7 413,1175.7 414,1175.7 415,1175.7 416,1175.7 417,1175.7 418,1175.7 419,1175.7 420,1175.7 421,1175.7 422,1175.7 423,1175.6 424,1175.6 425,1175.6 426,1175.6 427,1175.6 428,1175.6 429,1175.6 430,1175.5 431,1175.5 432,1175.5 433,1175.5 434,1175.5 435,1175.4 436,1175.4 437,1175.4 438,1175.4 439,1175.4 440,1175.4 441,1175.4 442,1175.3 443,1175.3 444,1175.3 445,1175.3 446,1174.8 447,1172.7 448,1168.1 449,1161.4 450,1153.7 451,1145.5 452,1137.4 453,1129.7 454,1122.9 455,1117.2 456,1113.1 457,1110.6 458,1109.9 459,1111 460,1113.8 461,1118.3 462,1124.2 463,1131.3 464,1139.1 465,1147.3 466,1155.5 467,1163.1 468,1169.4 469,1173.6 470,1175.2 471,1175.6 472,1175.6 473,1175.6 474,1175.6 475,1175.6 476,1175.6 477,1175.7 478,1175.7 479,1175.7 480,1175.7 481,1175.7 482,1175.7 483,1175.7 484,1175.7 485,1175.7 486,1175.7 487,1175.7 488,1175.7 489,1175.7 490,1175.7 491,1175.7 492,1175.7 493,1175.6 494,1175.6 495,1175.6 496,1175.6 497,1175.6 498,1175.6 499,1175.6 500,1175.5 501,1175.5 502,1175.5 503,1175.5 504,1175.5 505,1175.4 506,1175.4 507,1175.4 508,1175.4 509,1175.4 510,1175.4 511,1175.4 512,1175.3 513,1175.3 514,1175.3 515,1175.3 516,1175.3 517,1175.3 518,1175.3 519,1175.3 520,1175.3 521,1175.3 522,1175.3 523,1175.3 524,1175.3 525,1175.3 526,1175.3 527,1175.3 528,1175.4 529,1175.4 530,1175.4 531,1175.4 532,1175.4 533,1175.4 534,1175.5 535,1175.5 536,1175.5 537,1175.5 538,1175.5 539,1175.5 540,1175.6 541,1175.6 542,1175.6 543,1175.6 544,1175.6 545,1175.6 546,1175.6 547,1175.7 548,1175.7 549,1175.7 550,1175.7 551,1175.7 552,1175.7 553,1175.7 554,1175.7 555,1175.7 556,1175.7 557,1175.7 558,1175.7 559,1175.7 560,1175.7 561,1175.7 562,1175.7 563,1175.6 564,1175.6 565,1175.6 566,1175.6 567,1175.6 568,1175.6 569,1175.5 570,1175.5 571,1175.5 572,1175.5 573,1175.5 574,1175.5 575,1175.4 576,1175.4 577,1175.4 578,1175.4 579,1175.4 580,1175.4 581,1175.4 582,1175.3 583,1175.3 584,1175.3 585,1175.3 586,1175.3 587,1175.3 588,1175.3 589,1175.3 590,1175.3 591,1175.3 592,1175.3 593,1175.3 594,1175.3 595,1175.3 596,1175.3 597,1175.3 598,1175.4 599,1175.4 600,1175.4 601,1175.4 602,1175.4 603,1175.4 604,1175.5 605,1175.5 606,1175.5 607,1175.5 608,1175.5 609,1175.5 610,1175.6 611,1175.6 612,1175.6 613,1175.6 614,1175.6 615,1175.6 616,1175.7 617,1175.7 618,1175.7 619,1175.7 620,1175.7 621,1175.7 622,1175.7 623,1175.7 624,1175.7 625,1175.7 626,1175.7 627,1175.7 628,1175.7 629,1175.7 630,1175.7 631,1175.7 632,1175.7 633,1175.6 634,1175.6 635,1175.6 636,1175.6 637,1175.6 638,1175.6 639,1175.5 640,1175.5 641,1175.5 642,1175.5 643,1175.5 644,1175.5 645,1175.4 646,1175.4 647,1175.4 648,1175.4 649,1175.4 650,1175.4 651,1175.3 652,1175.3 653,1175.3 654,1175.3 655,1175.3 656,1175.3 657,1175.3 658,1175.3 659,1175.3 660,1175.3 661,1175.3 662,1175.3 663,1175.3 664,1175.3 665,1175.3 666,1175.3 667,1175.4 668,1175.4 669,1175.4 670,1175.4 671,1175.4 672,1175.4 673,1175.4 674,1175.5 675,1175.5 676,1175.5 677,1175.5 678,1175.5 679,1175.5 680,1175.6 681,1175.6 682,1175.6 683,1175.6 684,1175.6 685,1175.6 686,1175.7 687,1175.7 688,1175.7 689,1175.7 690,1175.7 691,1175.7 692,1175.7 693,1175.7 694,1175.7 695,1175.7 696,1175.7 697,1175.7 698,1175.7 699,1175.7 700,1175.7 701,1175.7 702,1175.6 703,1175.6 704,1175.6 705,1175.6 706,1175.6 707,1175.6 708,1175.6 709,1175.5 710,1175.5 711,1175.5 712,1175.5 713,1175.5 714,1175.5 715,1175.4 716,1175.4 717,1175.4 718,1175.4 719,1175.4 720,1175.4 721,1175.3 722,1175.3 723,1175.3 724,1175.3 725,1175.3 726,1175.3 727,1175.3 728,1175.3 729,1175.3 730,1175.3 731,1175.3 732,1175.3 733,1175.3 734,1175.3 735,1175.3 736,1175.3 737,1175.4 738,1175.4 739,1175.4 740,1175.4 741,1175.4 742,1175.4 743,1175.4 744,1175.5 745,1175.5 746,1175.5 747,1175.5 748,1175.5 749,1175.6 750,1175.6 751,1175.6 752,1175.6 753,1175.6 754,1175.6 755,1175.6 756,1175.7 757,1175.7 758,1175.7 759,1175.7 760,1175.7 761,1175.7 762,1175.7 763,1175.7 764,1175.7 765,1175.7 766,1175.7 767,1175.7 768,1175.7 769,1175.7 770,1175.7 771,1175.7 772,1175.6 773,1175.6 774,1175.6 775,1174.7 776,1171.7 777,1166 778,1158.6 779,1150.3 780,1141.5 781,1132.9 782,1124.8 783,1117.6 784,1111.7 785,1107.4 786,1104.8 787,1104 788,1105.1 789,1108.1 790,1112.7 791,1118.8 792,1126.2 793,1134.4 794,1143.1 795,1151.7 796,1160 797,1167.1 798,1172.1 799,1173.4 800,1170.4 801,1164.3 802,1156.5 803,1148 804,1139.1 805,1130.5 806,1122.5 807,1115.5 808,1109.8 809,1105.8 810,1103.6 811,1103.2 812,1104.7 813,1108.1 814,1113.1 815,1119.7 816,1127.3 817,1135.8 818,1144.6 819,1153.4 820,1161.6 821,1168.5 822,1173.2 823,1175.2 824,1175.6 825,1175.6 826,1175.7 827,1175.7 828,1175.7 829,1175.7 830,1175.7 831,1175.7 832,1175.7 833,1175.7 834,1175.7 835,1175.7 836,1175.7 837,1175.7 838,1175.7 839,1175.7 840,1175.7 841,1175.7 842,1175.6 843,1175.6 844,1175.6 845,1175.4 846,1174 847,1170.1 848,1164.1 849,1156.7 850,1148.7 851,1140.5 852,1132.6 853,1125.4 854,1119.1 855,1114.2 856,1110.8 857,1109 858,1109 859,1110.7 860,1114.1 861,1119 862,1125.2 863,1132.5 864,1140.3 865,1148.5 866,1156.5 867,1163.8 868,1169.8 869,1172.6 870,1170.5 871,1164.4 872,1156.4 873,1147.5 874,1138.2 875,1129.1 876,1120.6 877,1113.1 878,1107 879,1102.6 880,1100 881,1099.4 882,1100.9 883,1104.2 884,1109.4 885,1116.1 886,1124 887,1132.8 888,1142.1 889,1151.4 890,1160.1 891,1167.5 892,1172.7 893,1175.1 894,1175.6 895,1175.6 896,1175.7 897,1175.7 898,1175.7 899,1175.7 900,1175.7 901,1175.7 902,1175.7 903,1175.7 904,1175.7 905,1175.7 906,1175.7 907,1175.7 908,1175.7 909,1175.7 910,1175.7 911,1175.7 912,1175.6 913,1175.6 914,1175.6 915,1175.6 916,1175.6 917,1175.6 918,1175.5 919,1175.5 920,1175.5 921,1175.5 922,1175.5 923,1175.5 924,1175.4 925,1175.4 926,1175.4 927,1175.4 928,1175.4 929,1175.4 930,1175.3 931,1174.9 932,1172.6 933,1167.3 934,1159.5 935,1150.3 936,1140.5 937,1130.6 938,1121.2 939,1112.7 940,1105.7 941,1100.3 942,1096.9 943,1095.6 944,1096.5 945,1099.5 946,1104.5 947,1111.3 948,1119.5 949,1128.7 950,1138.6 951,1148.5 952,1157.9 953,1165.9 954,1170.9 955,1170 956,1163.9 957,1155 958,1144.9 959,1134.4 960,1124 961,1114.4 962,1106 963,1099.2 964,1094.3 965,1091.6 966,1091.2 967,1093 968,1097.1 969,1103.2 970,1111 971,1120.2 972,1130.3 973,1140.8 974,1151.2 975,1160.7 976,1168.6 977,1173.6 978,1175.4 979,1175.7 980,1175.7 981,1175.7 982,1175.6 983,1175.6 984,1175.6 985,1175.6 986,1175.6 987,1175.6 988,1175.5 989,1175.5 990,1175.5 991,1175.5 992,1175.5 993,1175.5 994,1175.3 995,1174.2 996,1170.3 997,1163.4 998,1154.6 999,1144.7 1000,1134.4 1001,1124.3 1002,1114.9 1003,1106.7 1004,1099.9 1005,1095 1006,1092.2 1007,1091.5 1008,1093.1 1009,1096.8 1010,1102.4 1011,1109.8 1012,1118.5 1013,1128.3 1014,1138.5 1015,1148.7 1016,1158.2 1017,1166.4 1018,1171.9 1019,1172.7 1020,1168.3 1021,1160.6 1022,1151.2 1023,1140.9 1024,1130.4 1025,1120.3 1026,1111 1027,1103 1028,1096.7 1029,1092.3 1030,1090 1031,1090.1 1032,1092.3 1033,1096.7 1034,1103.1 1035,1111.1 1036,1120.4 1037,1130.6 1038,1141.1 1039,1151.4 1040,1160.9 1041,1168.7 1042,1173.6 1043,1175.4 1044,1175.7 1045,1175.7 1046,1175.7 1047,1175.7 1048,1175.7 1049,1175.7 1050,1175.7 1051,1175.6 1052,1175.6 1053,1175.6 1054,1175.6 1055,1175.6 1056,1175.6 1057,1175.6 1058,1175.5 1059,1175.5 1060,1175.5 1061,1175.5 1062,1175.5 1063,1175.5 L1063,1175.8 L65,1175.8 Z" fill="#f23a30" fill-opacity="0.14" stroke="none"/>
<path d="M65,1175.7 66,1175.7 67,1175.7 68,1175.7 69,1175.7 70,1175.7 71,1175.7 72,1175.7 73,1175.7 74,1175.6 75,1175.6 76,1175.6 77,1175.6 78,1175.6 79,1175.6 80,1175.6 81,1175.5 82,1175.5 83,1175.5 84,1175.5 85,1175.5 86,1175.4 87,1175.4 88,1175.4 89,1175.4 90,1175.4 91,1175.4 92,1175.4 93,1175.3 94,1175.3 95,1175.3 96,1175.3 97,1175.3 98,1175.3 99,1175.3 100,1175.3 101,1175.3 102,1175.3 103,1175.3 104,1175.3 105,1175.3 106,1175.3 107,1175.3 108,1175.3 109,1175.4 110,1175.4 111,1175.4 112,1175.4 113,1175.4 114,1175.4 115,1175.3 116,1173.8 117,1168.6 118,1159.8 119,1149.1 120,1137.5 121,1125.7 122,1114.3 123,1103.8 124,1094.8 125,1087.4 126,1082.1 127,1079 128,1078.3 129,1080 130,1084 131,1090.2 132,1098.3 133,1108 134,1118.9 135,1130.5 136,1142.4 137,1153.7 138,1163.8 139,1171.2 140,1173.6 141,1170.4 142,1163.4 143,1154.3 144,1144.1 145,1133.6 146,1123.2 147,1113.6 148,1105.1 149,1098.2 150,1093.2 151,1090.2 152,1089.5 153,1091.1 154,1094.9 155,1100.6 156,1108.2 157,1117.2 158,1127.1 159,1137.6 160,1148 161,1157.8 162,1166.2 163,1172.1 164,1174.7 165,1175.3 166,1175.3 167,1175.3 168,1175.3 169,1175.3 170,1175.3 171,1175.3 172,1175.3 173,1175.3 174,1175.3 175,1175.3 176,1175.3 177,1175.3 178,1175.3 179,1175.4 180,1175.4 181,1175.4 182,1175.3 183,1174 184,1169.8 185,1162.6 186,1153.7 187,1143.8 188,1133.6 189,1123.8 190,1114.7 191,1107 192,1100.9 193,1096.8 194,1094.8 195,1095 196,1097.5 197,1102.1 198,1108.5 199,1116.6 200,1125.8 201,1135.8 202,1146 203,1155.8 204,1164.5 205,1171.1 206,1174.7 207,1175.6 208,1175.7 209,1175.7 210,1175.7 211,1175.7 212,1175.7 213,1175.7 214,1175.6 215,1175.6 216,1175.6 217,1175.6 218,1175.6 219,1175.6 220,1175.5 221,1175.5 222,1175.5 223,1175.5 224,1175.5 225,1175.5 226,1175.4 227,1175.4 228,1175.4 229,1175.4 230,1175.4 231,1175.4 232,1175.4 233,1175.3 234,1175.3 235,1175.3 236,1175.3 237,1175.3 238,1175.3 239,1175.3 240,1175.3 241,1175.3 242,1175.3 243,1175.3 244,1175.3 245,1175.3 246,1175.3 247,1175.3 248,1175.3 249,1175.4 250,1175.3 251,1174.8 252,1172.3 253,1167.2 254,1160.1 255,1151.9 256,1143.3 257,1134.8 258,1126.7 259,1119.7 260,1113.9 261,1109.7 262,1107.3 263,1106.7 264,1108.1 265,1111.3 266,1116.2 267,1122.5 268,1130 269,1138.3 270,1147 271,1155.5 272,1163.3 273,1169.8 274,1174 275,1175.5 276,1175.7 277,1175.7 278,1175.7 279,1175.7 280,1175.7 281,1175.7 282,1175.7 283,1175.6 284,1175.6 285,1175.6 286,1175.6 287,1175.6 288,1175.6 289,1175.6 290,1175.5 291,1175.5 292,1175.5 293,1175.5 294,1175.5 295,1175.5 296,1175.4 297,1175.4 298,1175.4 299,1175.4 300,1175.4 301,1175.4 302,1175.3 303,1175.3 304,1175.3 305,1175.3 306,1175.3 307,1175.3 308,1175.3 309,1175.3 310,1175.3 311,1175.3 312,1175.3 313,1175.3 314,1175.3 315,1175.3 316,1175.3 317,1175.3 318,1175.4 319,1175.4 320,1175.4 321,1175.4 322,1175.4 323,1175.4 324,1175.4 325,1175.5 326,1175.5 327,1175.5 328,1175.5 329,1175.5 330,1175.5 331,1175.6 332,1175.6 333,1175.6 334,1175.6 335,1175.6 336,1175.6 337,1175.7 338,1175.7 339,1175.7 340,1175.7 341,1175.7 342,1175.7 343,1175.7 344,1175.7 345,1175.7 346,1175.7 347,1175.7 348,1175.7 349,1175.7 350,1175.7 351,1175.7 352,1175.7 353,1175.6 354,1175.6 355,1175.6 356,1175.6 357,1175.6 358,1175.6 359,1175.6 360,1175.5 361,1175.5 362,1175.5 363,1175.5 364,1175.5 365,1175.5 366,1175.4 367,1175.4 368,1175.4 369,1175.4 370,1175.4 371,1175.4 372,1175.3 373,1175.3 374,1175.3 375,1175.3 376,1175.3 377,1175.3 378,1175.3 379,1175.3 380,1175.3 381,1175.2 382,1174.2 383,1170.5 384,1163.5 385,1154.4 386,1144.2 387,1133.5 388,1123.1 389,1113.4 390,1105 391,1098.3 392,1093.5 393,1090.9 394,1090.7 395,1092.8 396,1097.2 397,1103.6 398,1111.8 399,1121.3 400,1131.6 401,1142.3 402,1152.7 403,1162.1 404,1169.7 405,1174.1 406,1175.5 407,1175.7 408,1175.7 409,1175.7 410,1175.7 411,1175.7 412,1175.7 413,1175.7 414,1175.7 415,1175.7 416,1175.7 417,1175.7 418,1175.7 419,1175.7 420,1175.7 421,1175.7 422,1175.7 423,1175.6 424,1175.6 425,1175.6 426,1175.6 427,1175.6 428,1175.6 429,1175.6 430,1175.5 431,1175.5 432,1175.5 433,1175.5 434,1175.5 435,1175.4 436,1175.4 437,1175.4 438,1175.4 439,1175.4 440,1175.4 441,1175.4 442,1175.3 443,1175.3 444,1175.3 445,1175.3 446,1174.8 447,1172.7 448,1168.1 449,1161.4 450,1153.7 451,1145.5 452,1137.4 453,1129.7 454,1122.9 455,1117.2 456,1113.1 457,1110.6 458,1109.9 459,1111 460,1113.8 461,1118.3 462,1124.2 463,1131.3 464,1139.1 465,1147.3 466,1155.5 467,1163.1 468,1169.4 469,1173.6 470,1175.2 471,1175.6 472,1175.6 473,1175.6 474,1175.6 475,1175.6 476,1175.6 477,1175.7 478,1175.7 479,1175.7 480,1175.7 481,1175.7 482,1175.7 483,1175.7 484,1175.7 485,1175.7 486,1175.7 487,1175.7 488,1175.7 489,1175.7 490,1175.7 491,1175.7 492,1175.7 493,1175.6 494,1175.6 495,1175.6 496,1175.6 497,1175.6 498,1175.6 499,1175.6 500,1175.5 501,1175.5 502,1175.5 503,1175.5 504,1175.5 505,1175.4 506,1175.4 507,1175.4 508,1175.4 509,1175.4 510,1175.4 511,1175.4 512,1175.3 513,1175.3 514,1175.3 515,1175.3 516,1175.3 517,1175.3 518,1175.3 519,1175.3 520,1175.3 521,1175.3 522,1175.3 523,1175.3 524,1175.3 525,1175.3 526,1175.3 527,1175.3 528,1175.4 529,1175.4 530,1175.4 531,1175.4 532,1175.4 533,1175.4 534,1175.5 535,1175.5 536,1175.5 537,1175.5 538,1175.5 539,1175.5 540,1175.6 541,1175.6 542,1175.6 543,1175.6 544,1175.6 545,1175.6 546,1175.6 547,1175.7 548,1175.7 549,1175.7 550,1175.7 551,1175.7 552,1175.7 553,1175.7 554,1175.7 555,1175.7 556,1175.7 557,1175.7 558,1175.7 559,1175.7 560,1175.7 561,1175.7 562,1175.7 563,1175.6 564,1175.6 565,1175.6 566,1175.6 567,1175.6 568,1175.6 569,1175.5 570,1175.5 571,1175.5 572,1175.5 573,1175.5 574,1175.5 575,1175.4 576,1175.4 577,1175.4 578,1175.4 579,1175.4 580,1175.4 581,1175.4 582,1175.3 583,1175.3 584,1175.3 585,1175.3 586,1175.3 587,1175.3 588,1175.3 589,1175.3 590,1175.3 591,1175.3 592,1175.3 593,1175.3 594,1175.3 595,1175.3 596,1175.3 597,1175.3 598,1175.4 599,1175.4 600,1175.4 601,1175.4 602,1175.4 603,1175.4 604,1175.5 605,1175.5 606,1175.5 607,1175.5 608,1175.5 609,1175.5 610,1175.6 611,1175.6 612,1175.6 613,1175.6 614,1175.6 615,1175.6 616,1175.7 617,1175.7 618,1175.7 619,1175.7 620,1175.7 621,1175.7 622,1175.7 623,1175.7 624,1175.7 625,1175.7 626,1175.7 627,1175.7 628,1175.7 629,1175.7 630,1175.7 631,1175.7 632,1175.7 633,1175.6 634,1175.6 635,1175.6 636,1175.6 637,1175.6 638,1175.6 639,1175.5 640,1175.5 641,1175.5 642,1175.5 643,1175.5 644,1175.5 645,1175.4 646,1175.4 647,1175.4 648,1175.4 649,1175.4 650,1175.4 651,1175.3 652,1175.3 653,1175.3 654,1175.3 655,1175.3 656,1175.3 657,1175.3 658,1175.3 659,1175.3 660,1175.3 661,1175.3 662,1175.3 663,1175.3 664,1175.3 665,1175.3 666,1175.3 667,1175.4 668,1175.4 669,1175.4 670,1175.4 671,1175.4 672,1175.4 673,1175.4 674,1175.5 675,1175.5 676,1175.5 677,1175.5 678,1175.5 679,1175.5 680,1175.6 681,1175.6 682,1175.6 683,1175.6 684,1175.6 685,1175.6 686,1175.7 687,1175.7 688,1175.7 689,1175.7 690,1175.7 691,1175.7 692,1175.7 693,1175.7 694,1175.7 695,1175.7 696,1175.7 697,1175.7 698,1175.7 699,1175.7 700,1175.7 701,1175.7 702,1175.6 703,1175.6 704,1175.6 705,1175.6 706,1175.6 707,1175.6 708,1175.6 709,1175.5 710,1175.5 711,1175.5 712,1175.5 713,1175.5 714,1175.5 715,1175.4 716,1175.4 717,1175.4 718,1175.4 719,1175.4 720,1175.4 721,1175.3 722,1175.3 723,1175.3 724,1175.3 725,1175.3 726,1175.3 727,1175.3 728,1175.3 729,1175.3 730,1175.3 731,1175.3 732,1175.3 733,1175.3 734,1175.3 735,1175.3 736,1175.3 737,1175.4 738,1175.4 739,1175.4 740,1175.4 741,1175.4 742,1175.4 743,1175.4 744,1175.5 745,1175.5 746,1175.5 747,1175.5 748,1175.5 749,1175.6 750,1175.6 751,1175.6 752,1175.6 753,1175.6 754,1175.6 755,1175.6 756,1175.7 757,1175.7 758,1175.7 759,1175.7 760,1175.7 761,1175.7 762,1175.7 763,1175.7 764,1175.7 765,1175.7 766,1175.7 767,1175.7 768,1175.7 769,1175.7 770,1175.7 771,1175.7 772,1175.6 773,1175.6 774,1175.6 775,1174.7 776,1171.7 777,1166 778,1158.6 779,1150.3 780,1141.5 781,1132.9 782,1124.8 783,1117.6 784,1111.7 785,1107.4 786,1104.8 787,1104 788,1105.1 789,1108.1 790,1112.7 791,1118.8 792,1126.2 793,1134.4 794,1143.1 795,1151.7 796,1160 797,1167.1 798,1172.1 799,1173.4 800,1170.4 801,1164.3 802,1156.5 803,1148 804,1139.1 805,1130.5 806,1122.5 807,1115.5 808,1109.8 809,1105.8 810,1103.6 811,1103.2 812,1104.7 813,1108.1 814,1113.1 815,1119.7 816,1127.3 817,1135.8 818,1144.6 819,1153.4 820,1161.6 821,1168.5 822,1173.2 823,1175.2 824,1175.6 825,1175.6 826,1175.7 827,1175.7 828,1175.7 829,1175.7 830,1175.7 831,1175.7 832,1175.7 833,1175.7 834,1175.7 835,1175.7 836,1175.7 837,1175.7 838,1175.7 839,1175.7 840,1175.7 841,1175.7 842,1175.6 843,1175.6 844,1175.6 845,1175.4 846,1174 847,1170.1 848,1164.1 849,1156.7 850,1148.7 851,1140.5 852,1132.6 853,1125.4 854,1119.1 855,1114.2 856,1110.8 857,1109 858,1109 859,1110.7 860,1114.1 861,1119 862,1125.2 863,1132.5 864,1140.3 865,1148.5 866,1156.5 867,1163.8 868,1169.8 869,1172.6 870,1170.5 871,1164.4 872,1156.4 873,1147.5 874,1138.2 875,1129.1 876,1120.6 877,1113.1 878,1107 879,1102.6 880,1100 881,1099.4 882,1100.9 883,1104.2 884,1109.4 885,1116.1 886,1124 887,1132.8 888,1142.1 889,1151.4 890,1160.1 891,1167.5 892,1172.7 893,1175.1 894,1175.6 895,1175.6 896,1175.7 897,1175.7 898,1175.7 899,1175.7 900,1175.7 901,1175.7 902,1175.7 903,1175.7 904,1175.7 905,1175.7 906,1175.7 907,1175.7 908,1175.7 909,1175.7 910,1175.7 911,1175.7 912,1175.6 913,1175.6 914,1175.6 915,1175.6 916,1175.6 917,1175.6 918,1175.5 919,1175.5 920,1175.5 921,1175.5 922,1175.5 923,1175.5 924,1175.4 925,1175.4 926,1175.4 927,1175.4 928,1175.4 929,1175.4 930,1175.3 931,1174.9 932,1172.6 933,1167.3 934,1159.5 935,1150.3 936,1140.5 937,1130.6 938,1121.2 939,1112.7 940,1105.7 941,1100.3 942,1096.9 943,1095.6 944,1096.5 945,1099.5 946,1104.5 947,1111.3 948,1119.5 949,1128.7 950,1138.6 951,1148.5 952,1157.9 953,1165.9 954,1170.9 955,1170 956,1163.9 957,1155 958,1144.9 959,1134.4 960,1124 961,1114.4 962,1106 963,1099.2 964,1094.3 965,1091.6 966,1091.2 967,1093 968,1097.1 969,1103.2 970,1111 971,1120.2 972,1130.3 973,1140.8 974,1151.2 975,1160.7 976,1168.6 977,1173.6 978,1175.4 979,1175.7 980,1175.7 981,1175.7 982,1175.6 983,1175.6 984,1175.6 985,1175.6 986,1175.6 987,1175.6 988,1175.5 989,1175.5 990,1175.5 991,1175.5 992,1175.5 993,1175.5 994,1175.3 995,1174.2 996,1170.3 997,1163.4 998,1154.6 999,1144.7 1000,1134.4 1001,1124.3 1002,1114.9 1003,1106.7 1004,1099.9 1005,1095 1006,1092.2 1007,1091.5 1008,1093.1 1009,1096.8 1010,1102.4 1011,1109.8 1012,1118.5 1013,1128.3 1014,1138.5 1015,1148.7 1016,1158.2 1017,1166.4 1018,1171.9 1019,1172.7 1020,1168.3 1021,1160.6 1022,1151.2 1023,1140.9 1024,1130.4 1025,1120.3 1026,1111 1027,1103 1028,1096.7 1029,1092.3 1030,1090 1031,1090.1 1032,1092.3 1033,1096.7 1034,1103.1 1035,1111.1 1036,1120.4 1037,1130.6 1038,1141.1 1039,1151.4 1040,1160.9 1041,1168.7 1042,1173.6 1043,1175.4 1044,1175.7 1045,1175.7 1046,1175.7 1047,1175.7 1048,1175.7 1049,1175.7 1050,1175.7 1051,1175.6 1052,1175.6 1053,1175.6 1054,1175.6 1055,1175.6 1056,1175.6 1057,1175.6 1058,1175.5 1059,1175.5 1060,1175.5 1061,1175.5 1062,1175.5 1063,1175.5" fill="none" stroke="#f23a30" stroke-width="2.8" stroke-linejoin="round"/>
</g>
<line x1="95" y1="1178.9" x2="1033" y2="1178.9" stroke="#b4b4b4" stroke-width="1.8"/>
<rect x="622.95" y="680.25" width="23.6" height="497.4" rx="3.2" ry="3.2" fill="none" stroke="#e9493f" stroke-width="3.5"/>
<rect x="624.3" y="946.4" width="23.4" height="31.6" fill="#f5b3b8" stroke="#ec2027" stroke-width="1.4"/>
<g clip-path="url(#cr)"><text transform="scale(0.89,1)" x="119.1 143.8 168.5 193.3 218 242.7 267.4 292.1 316.9 341.6 366.3 391 415.7 440.4 465.2 489.9 514.6 539.3 564 588.8 613.5 638.2 662.9 687.6 712.4 737.1 761.8 786.5 811.2 836 860.7 885.4 910.1 934.8 959.6 984.3 1009 1033.7 1058.4 1083.1 1107.9 1132.6 1157.3" y="971.7" font-size="26.4" font-weight="normal" text-anchor="middle">ATTATCCTGGAACTGATGGAGGGAAGAGACCTTCTTACTTATT</text>
</g>
</svg>
</body></html>
